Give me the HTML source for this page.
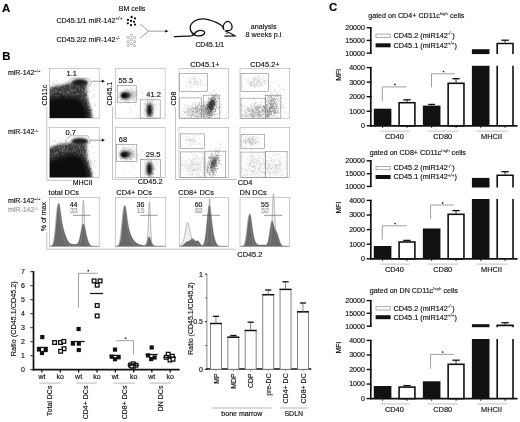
<!DOCTYPE html>
<html><head><meta charset="utf-8"><style>
html,body{margin:0;padding:0;background:#fff;overflow:hidden;width:520px;height:422px;}
svg{display:block;will-change:transform;}
text{font-family:"Liberation Sans", sans-serif;stroke-width:0.15px;}
</style></head><body>
<svg width="520" height="422" viewBox="0 0 520 422" font-size="7">
<defs>
<filter id="b1" x="-50%" y="-50%" width="200%" height="200%"><feGaussianBlur stdDeviation="1"/></filter>
<filter id="b07" x="-50%" y="-50%" width="200%" height="200%"><feGaussianBlur stdDeviation="0.7"/></filter>
<filter id="b15" x="-50%" y="-50%" width="200%" height="200%"><feGaussianBlur stdDeviation="1.5"/></filter>
<filter id="b03" x="-50%" y="-50%" width="200%" height="200%"><feGaussianBlur stdDeviation="0.3"/></filter>
<filter id="b2" x="-50%" y="-50%" width="200%" height="200%"><feGaussianBlur stdDeviation="2"/></filter>
</defs>
<rect width="520" height="422" fill="#fff"/>
<text x="2.00" y="11.50" font-size="11.4" fill="#000" stroke="#000" font-weight="bold">A</text>
<text x="118.80" y="10.50" fill="#111" stroke="#111">BM cells</text>
<text x="56.40" y="22.90" font-size="7.15" fill="#111" stroke="#111">CD45.1/1 miR-142<tspan font-size="4.8" dy="-2.7" style="stroke-width:0.06px">+/+</tspan></text>
<text x="56.40" y="42.40" font-size="7.15" fill="#111" stroke="#111">CD45.2/2 miR-142<tspan font-size="4.8" dy="-2.7" style="stroke-width:0.06px">-/-</tspan></text>
<circle cx="131.6" cy="17.0" r="1.15" fill="#111"/>
<circle cx="135.0" cy="18.4" r="1.15" fill="#111"/>
<circle cx="128.0" cy="19.9" r="1.15" fill="#111"/>
<circle cx="131.0" cy="21.0" r="1.15" fill="#111"/>
<circle cx="134.0" cy="21.8" r="1.15" fill="#111"/>
<circle cx="127.8" cy="23.3" r="1.15" fill="#111"/>
<circle cx="135.0" cy="24.6" r="1.15" fill="#111"/>
<circle cx="131.0" cy="25.2" r="1.15" fill="#111"/>
<circle cx="131.4" cy="35.4" r="1.1" fill="#fff" stroke="#777" stroke-width="0.55"/>
<circle cx="128.2" cy="37.5" r="1.1" fill="#fff" stroke="#777" stroke-width="0.55"/>
<circle cx="134.6" cy="37.5" r="1.1" fill="#fff" stroke="#777" stroke-width="0.55"/>
<circle cx="131.4" cy="39.6" r="1.1" fill="#fff" stroke="#777" stroke-width="0.55"/>
<circle cx="128.2" cy="41.7" r="1.1" fill="#fff" stroke="#777" stroke-width="0.55"/>
<circle cx="134.6" cy="41.7" r="1.1" fill="#fff" stroke="#777" stroke-width="0.55"/>
<circle cx="131.4" cy="43.8" r="1.1" fill="#fff" stroke="#777" stroke-width="0.55"/>
<circle cx="128.4" cy="45.4" r="1.1" fill="#fff" stroke="#777" stroke-width="0.55"/>
<circle cx="134.4" cy="45.6" r="1.1" fill="#fff" stroke="#777" stroke-width="0.55"/>
<path d="M140,23.8 L148.5,31.2 L140,38.1 M148.5,31.2 L166,31.2" fill="none" stroke="#888" stroke-width="0.8"/>
<path d="M165.2,29.8 L168.6,31.2 L165.2,32.6 Z" fill="#111" stroke="none" stroke-width="1"/>
<path d="M173.8,36.6 C180,36.4 187,36.2 191.3,35.8 C193,35.6 194.5,33 196.6,31.6 C198.5,30.4 201,30 203.2,30.8 C205.5,31.8 204.8,34 203,34.8 C201,35.8 198.5,36.2 196.5,35.6 C193.5,34.8 191.2,32.5 190.4,29.5 C189.6,26.5 191,23.8 193.5,21.8 C196,19.8 199.5,18.8 203,18.8 C207,18.8 211.5,20.2 216.7,22.6 C219.5,24 221.5,25.2 222.4,26.4 C223.2,27.4 223.6,28.4 223.8,29.6" fill="none" stroke="#111" stroke-width="1.35"/>
<path d="M223.8,29.6 C222.6,27.4 223.4,24.2 225.2,22.6 C226.6,21.4 228.6,21.2 230,22.4 C231.6,23.8 232.4,26.4 231.8,28.6 C231.2,30.2 229.5,30.6 227.5,30.6 C226.2,30.6 225.2,30.8 224.7,31" fill="none" stroke="#111" stroke-width="1.25"/>
<path d="M225.8,31 C228,32 231.5,33.8 234.8,35.9 L224.4,36.1" fill="none" stroke="#111" stroke-width="1.25"/>
<circle cx="226.9" cy="33.2" r="0.8" fill="#111"/>
<text x="195.40" y="47.10" font-size="6.8" fill="#111" stroke="#111">CD45.1/1</text>
<text x="250.80" y="28.80" font-size="7.1" fill="#111" stroke="#111">analysis</text>
<text x="245.50" y="36.90" font-size="7.2" fill="#111" stroke="#111">8 weeks p.i</text>
<text x="2.30" y="59.70" font-size="11.4" fill="#000" stroke="#000" font-weight="bold">B</text>
<text x="7.90" y="74.90" fill="#111" stroke="#111">miR-142<tspan font-size="4.2" dy="-2.6" style="stroke-width:0.06px">+/+</tspan></text>
<text x="7.90" y="134.40" fill="#111" stroke="#111">miR-142<tspan font-size="4.2" dy="-2.6" style="stroke-width:0.06px">-/-</tspan></text>
<rect x="49.50" y="68.30" width="49.70" height="49.90" fill="none" stroke="#aaa" stroke-width="0.6"/>
<rect x="115.40" y="68.30" width="49.70" height="49.90" fill="none" stroke="#aaa" stroke-width="0.6"/>
<rect x="179.00" y="68.30" width="49.70" height="49.90" fill="none" stroke="#aaa" stroke-width="0.6"/>
<rect x="240.00" y="68.30" width="49.70" height="49.90" fill="none" stroke="#aaa" stroke-width="0.6"/>
<rect x="49.50" y="127.60" width="49.70" height="49.90" fill="none" stroke="#aaa" stroke-width="0.6"/>
<rect x="115.40" y="127.60" width="49.70" height="49.90" fill="none" stroke="#aaa" stroke-width="0.6"/>
<rect x="179.00" y="127.60" width="49.70" height="49.90" fill="none" stroke="#aaa" stroke-width="0.6"/>
<rect x="240.00" y="127.60" width="49.70" height="49.90" fill="none" stroke="#aaa" stroke-width="0.6"/>
<line x1="46.80" y1="107.00" x2="46.80" y2="180.30" stroke="#999" stroke-width="0.6"/>
<line x1="46.80" y1="180.30" x2="72.00" y2="180.30" stroke="#999" stroke-width="0.6"/>
<line x1="112.50" y1="107.00" x2="112.50" y2="179.30" stroke="#999" stroke-width="0.6"/>
<line x1="112.50" y1="179.30" x2="137.00" y2="179.30" stroke="#999" stroke-width="0.6"/>
<line x1="175.50" y1="107.00" x2="175.50" y2="179.50" stroke="#999" stroke-width="0.6"/>
<line x1="175.50" y1="179.50" x2="237.00" y2="179.50" stroke="#999" stroke-width="0.6"/>
<text x="0.00" y="0.00" fill="#111" stroke="#111" transform="translate(47.30,105.60) rotate(-90)">CD11c</text>
<text x="0.00" y="0.00" fill="#111" stroke="#111" transform="translate(112.00,105.60) rotate(-90)">CD45.1</text>
<text x="0.00" y="0.00" fill="#111" stroke="#111" transform="translate(175.90,105.60) rotate(-90)">CD8</text>
<text x="72.70" y="184.50" fill="#111" stroke="#111">MHCII</text>
<text x="137.80" y="183.70" font-size="7.3" fill="#111" stroke="#111">CD45.2</text>
<text x="237.80" y="184.90" font-size="7.3" fill="#111" stroke="#111">CD4</text>
<clipPath id="c10"><rect x="49.8" y="68.6" width="49.2" height="49.4"/></clipPath>
<g clip-path="url(#c10)">
<path d="M46.0,89.0 L51.5,87.4 L54.0,86.6 L58.0,85.8 L62.0,85.0 L66.0,84.2 L69.0,83.2 L72.0,83.5 L80.0,83.8 L86.5,84.5 L86.5,90.0 L86.8,95.0 L87.8,100.0 L89.5,106.0 L91.3,112.0 L92.8,122.2 L46.0,122.2 Z" fill="#474747" filter="url(#b15)"/>
<path d="M64.7 85.9h0.8M79.7 82.9h0.8M74.5 94.0h0.8M52.5 99.3h0.8M51.5 96.5h0.8M53.0 83.6h0.8M69.3 111.4h0.8M55.5 88.6h0.8M78.7 115.9h0.8M76.3 95.2h0.8M94.7 82.0h0.8M89.3 91.1h0.8M56.4 84.6h0.8M64.0 111.0h0.8M58.1 102.1h0.8M79.2 94.2h0.8M75.0 82.6h0.8M52.5 88.0h0.8M81.1 96.3h0.8M64.3 102.3h0.8M70.6 91.5h0.8M86.3 106.6h0.8M61.0 101.9h0.8M74.0 113.2h0.8M83.4 91.1h0.8M94.9 84.7h0.8M69.0 108.7h0.8M56.8 98.6h0.8M51.6 105.4h0.8M85.0 101.8h0.8M90.1 92.0h0.8M81.8 102.6h0.8M76.5 97.4h0.8M88.4 115.8h0.8M71.6 105.2h0.8M52.6 106.6h0.8M79.6 117.6h0.8M87.6 90.9h0.8M67.5 105.4h0.8M50.8 97.6h0.8M57.5 84.6h0.8M52.5 109.2h0.8M55.7 89.5h0.8M67.8 113.1h0.8M53.5 97.1h0.8M75.1 113.5h0.8M87.5 112.8h0.8M62.6 95.9h0.8M66.3 113.5h0.8M93.9 85.9h0.8M57.9 88.9h0.8M60.5 98.5h0.8M76.9 90.1h0.8M50.0 96.0h0.8M66.8 101.6h0.8M93.6 106.2h0.8M73.5 103.5h0.8M80.9 82.2h0.8M91.2 109.6h0.8M90.0 110.3h0.8M67.8 95.2h0.8M54.6 104.1h0.8M52.7 82.7h0.8M59.4 86.3h0.8M65.4 82.2h0.8M49.8 85.9h0.8M54.5 93.9h0.8M51.0 113.2h0.8M78.0 85.8h0.8M61.4 93.3h0.8M66.6 84.8h0.8M88.9 117.6h0.8M71.2 98.4h0.8M53.8 84.1h0.8M65.6 90.2h0.8M87.9 86.3h0.8M50.9 116.1h0.8M74.1 85.7h0.8M74.8 81.2h0.8M74.1 117.1h0.8M89.5 106.4h0.8M61.8 94.0h0.8M57.5 109.3h0.8M74.3 109.6h0.8M65.0 88.6h0.8M87.1 117.3h0.8M89.0 110.6h0.8M87.4 108.1h0.8M60.2 99.7h0.8M66.2 81.3h0.8M51.1 90.7h0.8M61.7 106.3h0.8M93.8 97.1h0.8M92.9 117.4h0.8M93.7 93.9h0.8M59.9 88.8h0.8M58.8 87.9h0.8M78.5 114.1h0.8M88.5 98.3h0.8M79.8 110.3h0.8M53.7 105.1h0.8M91.6 109.7h0.8M84.3 98.2h0.8M58.0 110.0h0.8M65.1 110.4h0.8M94.5 95.1h0.8M68.3 115.9h0.8M83.1 86.6h0.8M55.6 85.9h0.8M91.4 110.6h0.8M56.5 111.4h0.8M94.9 105.0h0.8M65.9 100.9h0.8M55.8 80.7h0.8M94.5 104.7h0.8M74.0 115.4h0.8M69.8 113.1h0.8M87.8 88.2h0.8M61.4 91.2h0.8M60.9 102.3h0.8M61.7 96.0h0.8M55.8 114.5h0.8M66.1 97.5h0.8M76.6 114.3h0.8M69.1 114.8h0.8M72.9 100.2h0.8M73.9 80.9h0.8M70.0 87.1h0.8M50.0 110.3h0.8M57.7 98.1h0.8M83.2 101.2h0.8M64.8 99.7h0.8M75.4 109.8h0.8M54.7 101.3h0.8M61.2 90.6h0.8M85.3 99.3h0.8M75.6 108.9h0.8M91.8 96.9h0.8M78.0 99.3h0.8M73.4 106.3h0.8M70.6 100.3h0.8M71.8 115.7h0.8M82.0 113.2h0.8M93.1 90.0h0.8M75.5 115.8h0.8M88.4 85.4h0.8M55.4 96.9h0.8M53.1 89.3h0.8M53.2 105.4h0.8M85.9 114.0h0.8M56.9 107.2h0.8M80.2 85.6h0.8M90.4 116.7h0.8M59.9 116.1h0.8M68.1 98.6h0.8M95.3 111.6h0.8M57.2 96.5h0.8M73.5 93.0h0.8M58.8 92.2h0.8M83.0 80.9h0.8" stroke="#333" stroke-width="0.8" opacity="0.35"/>
<path d="M73.6 98.5h0.9M50.6 94.7h0.9M76.6 101.0h0.9M52.6 117.4h0.9M83.7 116.9h0.9M54.3 92.4h0.9M51.5 110.2h0.9M61.4 87.7h0.9M68.0 114.8h0.9M85.0 92.2h0.9M56.2 115.1h0.9M74.3 107.5h0.9M79.4 98.0h0.9M52.9 115.8h0.9M77.1 111.0h0.9M53.4 112.9h0.9M52.7 113.1h0.9M69.3 95.0h0.9M73.6 115.4h0.9M61.3 87.7h0.9M72.5 91.5h0.9M54.5 88.8h0.9M52.0 90.2h0.9M63.2 93.8h0.9M82.5 93.3h0.9M71.3 89.4h0.9M81.3 102.3h0.9M57.9 99.7h0.9M85.0 98.2h0.9M71.1 112.2h0.9M66.7 100.8h0.9M79.4 117.3h0.9M64.5 112.1h0.9M80.2 105.3h0.9M67.2 95.3h0.9M52.1 87.7h0.9M52.8 108.9h0.9M60.8 88.9h0.9M53.4 112.4h0.9M87.2 106.5h0.9M61.9 91.6h0.9M62.4 99.1h0.9M56.6 98.7h0.9M61.1 116.6h0.9M60.3 116.7h0.9M63.1 95.6h0.9M49.8 96.4h0.9M70.2 100.6h0.9M58.4 100.7h0.9M50.0 92.4h0.9M53.7 97.1h0.9M62.9 91.3h0.9M75.0 101.6h0.9M82.1 106.0h0.9M80.6 113.7h0.9M66.5 94.5h0.9M80.9 105.5h0.9M51.7 112.2h0.9M88.2 105.0h0.9M81.4 111.4h0.9M55.8 101.4h0.9M71.5 112.2h0.9M84.4 111.9h0.9M74.9 114.2h0.9M79.2 107.3h0.9M55.5 95.7h0.9M54.3 112.2h0.9M73.8 105.0h0.9M76.7 106.8h0.9M84.1 109.2h0.9M71.4 101.8h0.9M78.1 85.5h0.9M81.5 92.0h0.9M53.0 92.4h0.9M81.2 90.3h0.9M81.6 117.1h0.9M71.0 96.5h0.9M70.4 106.9h0.9M82.8 104.6h0.9M77.4 85.9h0.9M56.1 92.0h0.9M81.8 93.8h0.9M74.2 83.6h0.9M52.4 92.5h0.9M78.7 107.2h0.9M78.9 93.3h0.9M72.0 99.3h0.9M69.9 87.3h0.9M91.9 115.7h0.9M50.6 99.1h0.9M85.1 116.8h0.9M69.1 92.5h0.9M58.8 116.0h0.9M58.9 103.4h0.9M55.9 101.4h0.9M85.1 100.9h0.9M87.9 107.6h0.9M59.7 114.4h0.9M70.7 84.1h0.9M50.0 100.3h0.9M69.2 93.7h0.9M55.9 95.1h0.9M63.4 112.4h0.9M49.9 109.3h0.9M85.9 87.4h0.9M89.6 107.9h0.9M65.8 96.8h0.9M65.3 98.1h0.9M54.2 112.2h0.9M62.1 115.7h0.9M60.5 92.4h0.9M71.8 89.8h0.9M65.9 116.4h0.9M87.8 111.4h0.9M76.9 114.9h0.9M80.7 84.9h0.9M81.3 98.8h0.9M82.2 105.6h0.9M70.1 95.1h0.9M62.6 108.8h0.9M78.0 93.6h0.9M73.8 96.9h0.9M57.0 88.8h0.9M58.7 114.6h0.9M71.2 90.8h0.9M88.8 117.8h0.9M69.1 88.0h0.9M58.1 86.3h0.9M64.5 86.4h0.9M60.1 92.2h0.9M74.3 114.0h0.9M82.0 97.5h0.9M67.6 101.4h0.9M66.0 94.9h0.9M52.5 92.8h0.9M71.4 105.0h0.9M61.5 91.8h0.9M67.0 98.7h0.9M90.8 112.6h0.9M51.2 107.8h0.9M66.6 115.4h0.9M85.3 112.9h0.9M54.5 88.6h0.9M72.3 106.9h0.9M77.6 109.7h0.9M69.5 102.3h0.9M51.5 110.3h0.9M59.8 115.1h0.9M77.6 93.7h0.9M55.3 91.9h0.9M77.2 107.4h0.9M72.4 103.4h0.9M66.5 91.0h0.9M62.8 99.2h0.9M59.9 91.8h0.9M71.2 106.6h0.9M67.9 92.1h0.9M78.5 115.3h0.9M64.3 97.8h0.9M79.2 90.1h0.9M84.1 108.8h0.9M71.5 90.3h0.9M85.1 91.2h0.9M59.3 109.6h0.9M62.5 116.2h0.9M71.1 89.7h0.9M59.4 97.7h0.9M78.4 116.1h0.9M56.1 96.9h0.9M59.0 117.0h0.9M52.4 96.8h0.9M88.4 113.9h0.9M81.3 117.8h0.9M57.8 115.7h0.9M81.9 84.3h0.9M78.4 96.3h0.9M65.9 94.7h0.9M61.8 95.4h0.9M65.1 111.7h0.9M85.1 98.2h0.9M51.9 99.6h0.9M65.8 115.1h0.9M58.1 95.8h0.9M67.5 111.4h0.9M82.8 84.6h0.9M81.9 114.4h0.9M64.4 92.6h0.9M61.1 108.1h0.9M63.4 92.8h0.9M50.0 109.4h0.9M89.2 105.2h0.9M59.9 99.7h0.9M90.9 116.3h0.9M66.4 91.9h0.9M68.3 100.3h0.9M84.3 108.8h0.9M85.2 110.0h0.9M75.9 94.6h0.9M63.5 95.8h0.9M83.4 85.9h0.9M58.3 109.3h0.9M60.4 85.4h0.9M51.3 102.4h0.9M63.8 117.2h0.9M87.8 117.5h0.9M61.2 86.1h0.9M53.9 100.5h0.9M80.3 98.7h0.9M59.9 97.7h0.9M76.5 106.6h0.9M82.0 112.6h0.9M78.4 87.4h0.9M86.0 93.4h0.9M74.2 96.1h0.9M81.5 90.1h0.9M60.4 91.7h0.9M56.4 113.9h0.9M74.7 94.5h0.9M66.8 117.6h0.9M71.6 91.2h0.9M84.6 105.9h0.9M70.2 111.6h0.9M85.9 114.9h0.9M51.5 93.4h0.9M54.9 89.8h0.9M87.0 98.8h0.9M61.0 110.2h0.9M75.4 104.7h0.9M59.2 96.0h0.9M55.9 90.3h0.9M60.8 104.0h0.9M77.8 90.3h0.9M50.3 94.6h0.9M79.0 89.6h0.9M63.2 90.3h0.9M84.0 102.2h0.9M66.8 102.3h0.9M77.3 86.4h0.9M56.8 107.3h0.9M67.4 93.0h0.9M63.0 116.3h0.9M63.2 102.9h0.9M65.2 97.7h0.9M87.0 117.8h0.9M65.4 90.0h0.9M81.1 90.3h0.9M50.1 114.5h0.9M68.0 111.7h0.9M67.3 113.8h0.9M69.6 88.8h0.9M50.4 102.3h0.9M77.3 114.8h0.9M53.6 104.8h0.9M65.7 100.7h0.9M56.1 93.0h0.9M72.2 115.3h0.9M54.5 100.2h0.9M84.4 116.8h0.9M58.3 87.6h0.9M90.4 117.1h0.9M70.6 85.1h0.9M88.7 104.7h0.9M85.3 88.8h0.9M83.6 90.9h0.9M67.2 112.6h0.9M85.5 89.5h0.9M59.2 97.1h0.9M72.1 96.5h0.9M55.1 91.8h0.9M81.0 114.3h0.9M51.6 102.7h0.9M82.4 84.5h0.9M85.8 87.3h0.9M75.6 102.3h0.9M76.8 93.8h0.9M67.9 103.4h0.9M68.1 106.1h0.9M69.0 98.4h0.9M50.8 104.7h0.9M70.8 91.4h0.9M82.6 110.3h0.9M69.5 89.4h0.9M70.1 86.9h0.9M55.3 98.1h0.9M53.7 98.5h0.9M71.7 84.6h0.9M77.2 86.1h0.9M81.3 110.2h0.9M71.8 85.1h0.9M71.5 96.3h0.9M86.7 117.8h0.9M81.3 111.5h0.9M58.1 117.3h0.9M71.0 116.4h0.9M83.7 115.5h0.9M52.6 95.4h0.9M82.3 88.7h0.9M84.9 88.2h0.9M71.4 115.1h0.9M58.8 92.3h0.9M71.6 94.3h0.9M51.4 89.5h0.9M56.7 115.7h0.9M79.0 114.3h0.9M57.1 110.4h0.9M54.7 101.6h0.9M77.2 95.7h0.9M87.3 102.5h0.9M74.7 113.8h0.9M54.3 117.7h0.9M76.9 96.9h0.9M84.1 92.4h0.9M65.3 109.7h0.9M68.8 89.3h0.9M81.8 84.9h0.9M85.1 92.0h0.9M77.3 117.3h0.9M75.0 106.2h0.9M51.3 88.4h0.9M76.3 98.2h0.9M71.8 114.3h0.9M55.5 91.1h0.9M77.9 84.0h0.9M49.9 95.5h0.9M54.4 95.6h0.9M59.4 103.5h0.9M75.1 90.3h0.9M76.6 99.7h0.9M55.6 115.7h0.9M60.3 88.4h0.9M53.9 105.3h0.9M87.3 110.3h0.9M67.1 92.4h0.9M50.3 105.6h0.9M74.0 95.4h0.9M77.6 98.6h0.9M90.1 108.7h0.9M60.5 114.6h0.9M51.7 101.6h0.9M67.3 91.4h0.9M52.3 110.2h0.9M50.3 102.3h0.9M58.4 104.3h0.9M71.6 105.5h0.9M84.8 89.3h0.9M63.1 93.6h0.9M51.9 114.1h0.9M83.5 108.0h0.9M50.1 112.5h0.9M81.8 99.3h0.9M81.7 98.9h0.9M59.5 86.9h0.9M64.2 109.2h0.9M79.7 112.5h0.9M80.4 92.4h0.9M73.6 98.3h0.9M83.7 101.4h0.9M61.2 105.5h0.9M61.0 91.4h0.9M81.8 116.0h0.9M81.9 94.5h0.9M60.1 114.7h0.9M76.9 107.2h0.9M78.4 117.2h0.9M70.0 112.3h0.9M79.8 113.0h0.9M68.6 108.3h0.9M74.3 93.9h0.9M58.9 104.8h0.9M53.1 114.8h0.9M54.4 115.4h0.9M64.6 88.1h0.9M79.6 105.2h0.9M79.8 108.8h0.9M52.6 103.7h0.9M65.4 111.6h0.9M85.0 114.1h0.9M52.6 113.3h0.9M89.1 116.0h0.9M54.4 90.3h0.9M86.3 111.4h0.9M77.1 111.8h0.9M77.0 93.2h0.9M54.1 86.6h0.9M82.4 90.3h0.9M63.5 97.9h0.9M50.7 92.1h0.9M62.0 108.0h0.9M65.6 94.3h0.9M86.4 104.7h0.9M51.1 97.5h0.9M68.6 110.0h0.9M64.7 107.7h0.9M72.9 90.7h0.9M85.1 89.1h0.9M49.9 90.2h0.9M82.6 117.1h0.9M50.0 100.2h0.9M70.9 110.8h0.9M57.7 100.4h0.9M64.7 112.1h0.9M61.0 116.0h0.9M62.0 90.7h0.9M79.9 100.5h0.9M54.5 105.3h0.9M53.3 110.5h0.9M79.8 110.5h0.9M76.8 95.5h0.9M67.1 96.9h0.9M58.7 92.3h0.9M66.1 113.9h0.9M59.8 99.2h0.9M72.7 109.4h0.9M82.2 105.6h0.9M64.8 94.5h0.9M56.5 112.5h0.9M78.3 108.9h0.9M57.1 98.4h0.9M83.1 103.3h0.9M55.2 99.2h0.9" stroke="#fff" stroke-width="0.9" opacity="0.28"/>
<path d="M58.0 93.7h0.9M80.0 112.5h0.9M56.4 88.6h0.9M60.4 94.5h0.9M72.3 88.8h0.9M63.9 89.8h0.9M54.2 116.6h0.9M54.2 96.5h0.9M81.3 98.3h0.9M58.2 105.3h0.9M54.4 90.4h0.9M66.5 84.4h0.9M67.0 110.6h0.9M79.6 100.6h0.9M77.0 99.3h0.9M55.9 104.1h0.9M67.2 108.9h0.9M74.5 109.2h0.9M67.9 91.1h0.9M80.9 113.7h0.9M83.1 107.5h0.9M86.5 106.8h0.9M77.4 99.0h0.9M63.3 105.0h0.9M54.0 97.8h0.9M83.4 107.9h0.9M76.9 91.9h0.9M68.0 99.0h0.9M76.5 97.4h0.9M78.8 115.5h0.9M57.7 105.9h0.9M83.3 96.7h0.9M70.9 117.0h0.9M51.4 102.1h0.9M56.7 110.3h0.9M54.1 103.1h0.9M73.1 108.1h0.9M71.8 105.4h0.9M85.4 101.3h0.9M67.4 116.1h0.9M58.8 106.9h0.9M66.7 109.7h0.9M55.1 117.4h0.9M65.1 85.2h0.9M61.6 97.1h0.9M50.4 97.7h0.9M67.9 107.4h0.9M64.9 92.4h0.9M59.5 108.9h0.9M59.2 111.0h0.9M66.7 90.6h0.9M55.4 110.1h0.9M84.6 105.2h0.9M70.0 102.7h0.9M59.5 116.6h0.9M65.0 105.4h0.9M85.0 111.5h0.9M69.9 93.4h0.9M73.4 87.5h0.9M85.7 95.5h0.9M86.4 92.5h0.9M66.0 92.0h0.9M68.1 89.7h0.9M49.9 108.2h0.9M61.9 91.7h0.9M62.8 99.8h0.9M68.2 105.3h0.9M78.1 95.8h0.9M89.7 112.8h0.9M52.3 111.9h0.9M88.7 110.4h0.9M55.8 112.0h0.9M77.0 83.7h0.9M50.3 116.2h0.9M78.0 91.9h0.9M54.2 88.2h0.9M59.8 110.1h0.9M64.7 88.5h0.9M88.7 110.7h0.9M57.0 114.1h0.9M76.0 110.3h0.9M78.5 114.2h0.9M83.7 112.3h0.9M58.3 107.2h0.9M72.6 108.9h0.9M68.7 113.8h0.9M73.7 92.4h0.9M59.9 88.0h0.9M71.0 85.2h0.9M69.9 88.2h0.9M70.9 100.5h0.9M73.0 113.1h0.9M50.1 112.4h0.9M69.9 102.7h0.9M78.4 112.4h0.9M65.9 97.7h0.9M77.2 105.3h0.9M51.0 104.4h0.9M79.2 115.5h0.9M64.0 117.3h0.9M71.8 100.0h0.9M80.7 104.9h0.9M64.4 113.1h0.9M65.5 99.7h0.9M72.4 109.9h0.9M58.9 98.3h0.9M68.0 102.4h0.9M85.3 93.4h0.9M85.4 97.2h0.9M71.5 92.6h0.9M71.6 117.0h0.9M77.9 110.7h0.9M64.0 94.2h0.9M62.7 103.5h0.9M77.1 110.4h0.9M51.5 108.3h0.9M87.9 102.1h0.9M51.9 93.6h0.9M50.1 89.8h0.9M78.1 110.6h0.9M88.9 104.4h0.9M76.3 105.0h0.9M79.7 103.9h0.9M79.1 90.6h0.9M78.5 99.1h0.9M82.6 86.7h0.9M83.1 114.9h0.9M78.0 96.0h0.9M85.2 110.5h0.9M74.0 92.2h0.9M62.8 97.8h0.9M63.5 98.1h0.9M77.4 115.6h0.9M52.1 102.9h0.9M84.6 103.2h0.9M50.4 96.6h0.9M75.3 115.7h0.9M67.5 86.7h0.9M77.5 90.6h0.9M50.0 106.9h0.9M55.0 116.7h0.9M53.6 113.4h0.9M80.7 91.6h0.9M81.3 89.7h0.9M52.0 110.1h0.9M80.5 112.9h0.9M81.2 86.1h0.9M76.8 107.8h0.9M69.6 115.6h0.9M60.7 116.7h0.9M50.4 105.8h0.9M84.9 86.0h0.9M63.2 108.5h0.9M56.9 113.1h0.9M70.7 85.3h0.9M65.6 103.2h0.9M68.7 106.7h0.9M56.0 110.9h0.9M65.4 105.6h0.9M76.9 97.7h0.9M66.4 110.5h0.9M90.4 110.4h0.9M74.2 93.3h0.9M52.4 117.0h0.9M80.0 111.9h0.9M64.1 104.2h0.9M75.6 93.9h0.9M68.2 114.0h0.9M66.0 107.0h0.9M75.7 114.3h0.9M84.5 93.0h0.9M49.9 92.3h0.9M68.0 103.6h0.9M84.9 114.0h0.9M51.6 112.1h0.9M84.7 113.3h0.9M74.4 92.7h0.9M86.4 111.2h0.9M79.2 114.9h0.9M64.7 86.2h0.9M73.6 110.9h0.9M58.4 109.2h0.9M75.9 106.7h0.9M69.8 90.4h0.9M60.8 109.3h0.9M83.8 99.2h0.9M53.6 111.2h0.9M83.0 91.3h0.9M74.7 114.3h0.9M87.9 101.3h0.9M70.3 103.6h0.9M57.9 89.9h0.9M57.6 107.5h0.9M65.4 102.8h0.9M67.1 101.1h0.9M54.4 105.2h0.9M83.7 88.6h0.9M75.5 95.2h0.9M72.1 83.9h0.9M51.2 117.6h0.9M87.0 100.1h0.9M74.2 92.3h0.9M83.3 98.0h0.9M90.5 109.8h0.9M85.0 116.6h0.9M58.4 89.5h0.9M73.8 113.4h0.9M69.5 116.1h0.9M75.5 97.0h0.9M55.0 116.5h0.9M60.9 102.8h0.9M77.3 116.4h0.9M78.6 96.8h0.9M69.1 88.7h0.9M91.3 117.6h0.9M60.8 95.4h0.9M88.6 114.6h0.9M85.8 84.8h0.9M83.6 107.8h0.9M77.6 117.4h0.9M52.2 88.2h0.9M82.3 115.8h0.9M78.9 93.6h0.9M75.2 109.5h0.9M54.3 94.4h0.9M60.9 87.5h0.9M70.5 89.0h0.9M60.1 88.2h0.9M80.6 90.0h0.9M51.3 115.4h0.9M59.3 115.6h0.9M87.1 114.0h0.9M55.8 98.7h0.9M54.0 115.4h0.9M86.0 105.0h0.9M69.3 95.0h0.9M85.2 99.8h0.9M76.8 88.2h0.9M80.5 102.4h0.9M56.0 113.4h0.9M61.3 97.5h0.9M56.5 92.6h0.9M85.9 94.8h0.9M57.0 100.2h0.9M63.5 114.5h0.9M54.7 117.2h0.9M52.2 114.3h0.9M78.5 90.5h0.9M70.3 93.1h0.9M60.9 90.2h0.9M65.5 117.6h0.9M54.0 93.2h0.9M81.0 93.4h0.9M84.5 95.0h0.9M85.6 101.5h0.9M57.8 98.3h0.9M74.4 88.0h0.9M57.5 109.9h0.9M80.4 90.0h0.9M76.0 100.4h0.9M61.6 90.3h0.9M76.1 107.8h0.9M84.7 103.4h0.9M81.3 97.4h0.9M80.8 85.1h0.9M84.7 94.8h0.9M86.0 113.2h0.9M71.0 83.7h0.9M57.8 112.1h0.9M65.6 88.9h0.9M65.8 103.8h0.9M50.0 101.2h0.9M69.0 101.1h0.9M55.0 108.0h0.9M84.9 113.2h0.9M63.6 107.9h0.9M66.2 109.3h0.9M52.4 113.5h0.9M71.9 101.6h0.9M72.9 83.9h0.9M57.6 86.8h0.9M60.6 111.6h0.9M79.9 90.0h0.9M50.6 104.0h0.9M74.6 101.3h0.9M80.0 86.8h0.9M87.2 108.1h0.9M51.7 87.5h0.9M71.0 100.6h0.9M61.8 87.4h0.9M67.2 88.0h0.9M75.2 113.1h0.9M56.1 103.1h0.9M81.9 88.9h0.9M85.3 115.7h0.9M66.5 97.8h0.9M85.9 101.4h0.9M66.8 115.9h0.9M83.2 94.9h0.9M60.1 94.8h0.9M68.5 117.2h0.9M84.4 114.9h0.9M84.8 112.6h0.9M52.1 101.2h0.9M91.0 115.6h0.9M60.5 97.8h0.9M77.0 95.8h0.9M72.6 85.6h0.9M68.4 100.7h0.9M84.6 113.9h0.9M77.4 92.4h0.9M79.0 92.7h0.9M73.1 115.3h0.9M76.5 91.9h0.9M72.2 98.2h0.9M62.9 105.7h0.9M55.0 103.8h0.9M61.3 99.4h0.9M72.8 88.3h0.9M55.1 87.8h0.9M62.4 97.3h0.9M62.2 91.6h0.9M53.6 102.2h0.9M85.9 104.4h0.9M74.3 105.8h0.9M58.5 107.8h0.9M69.6 102.2h0.9M76.2 99.5h0.9M63.2 91.6h0.9M59.3 101.0h0.9M66.3 103.5h0.9M50.3 95.4h0.9M73.7 100.3h0.9M62.0 117.5h0.9M62.5 110.0h0.9M87.3 98.5h0.9M52.5 96.7h0.9M68.7 108.7h0.9M54.5 91.0h0.9M56.4 94.9h0.9M65.0 106.6h0.9M76.3 112.7h0.9M85.1 101.2h0.9M81.6 109.0h0.9M82.5 99.7h0.9M83.6 107.8h0.9M82.7 103.5h0.9M71.2 116.6h0.9M74.4 97.7h0.9M83.5 113.5h0.9M75.9 96.4h0.9M69.2 99.1h0.9M80.9 93.4h0.9M66.6 102.5h0.9M66.3 94.4h0.9M83.6 112.7h0.9M71.3 98.6h0.9M57.7 93.7h0.9M56.0 103.2h0.9M74.8 86.3h0.9M86.1 112.3h0.9M68.1 114.8h0.9M74.1 100.5h0.9M89.4 110.0h0.9M73.0 117.8h0.9M72.1 101.1h0.9M79.3 96.7h0.9M65.2 103.8h0.9M64.9 116.1h0.9M78.9 101.4h0.9M54.1 96.2h0.9M67.0 102.7h0.9M74.5 113.7h0.9M68.7 104.9h0.9M72.6 111.5h0.9M57.1 94.2h0.9M71.8 87.0h0.9M88.3 107.1h0.9M85.1 117.6h0.9M56.5 93.3h0.9M71.8 100.7h0.9M57.9 89.5h0.9M76.9 104.1h0.9M65.0 117.7h0.9M77.2 84.7h0.9M67.5 110.5h0.9M63.0 107.2h0.9M50.0 93.8h0.9M86.0 103.5h0.9M78.5 90.0h0.9M71.2 102.4h0.9M61.2 105.6h0.9M72.7 117.8h0.9M74.5 97.5h0.9M55.0 88.6h0.9M82.5 86.9h0.9M54.1 89.1h0.9M72.3 111.8h0.9M76.2 111.2h0.9M82.9 94.4h0.9M80.6 95.5h0.9M57.1 92.5h0.9M54.1 114.6h0.9M74.8 95.3h0.9M69.1 96.6h0.9M52.2 114.1h0.9M74.9 116.5h0.9M68.7 104.7h0.9M89.8 112.9h0.9M63.3 114.4h0.9M84.9 93.7h0.9M75.7 116.5h0.9M71.1 116.2h0.9M60.2 96.7h0.9M80.7 90.9h0.9M63.1 113.6h0.9M70.6 110.7h0.9M60.3 89.2h0.9M65.2 89.7h0.9M73.9 87.2h0.9M72.8 96.6h0.9M67.1 85.5h0.9M55.1 111.9h0.9M64.9 91.7h0.9M58.0 93.0h0.9M78.4 95.0h0.9M56.5 107.7h0.9M53.8 92.6h0.9M85.7 87.6h0.9M68.9 112.2h0.9M84.4 88.7h0.9M65.0 108.3h0.9M66.0 116.5h0.9M58.7 116.2h0.9M71.5 91.1h0.9M69.3 87.7h0.9M80.2 92.2h0.9M88.5 103.6h0.9M65.6 91.7h0.9M76.0 90.6h0.9M71.9 102.0h0.9M61.4 110.0h0.9M66.3 106.0h0.9M74.2 94.0h0.9M66.6 86.2h0.9M57.4 112.7h0.9M63.6 106.2h0.9M54.5 102.7h0.9M65.3 100.6h0.9M62.6 85.5h0.9M63.2 91.1h0.9M55.2 108.1h0.9M61.9 97.2h0.9M88.9 110.1h0.9M87.8 113.1h0.9M55.5 92.8h0.9M51.1 106.8h0.9M78.3 95.4h0.9M67.5 106.1h0.9M79.9 91.8h0.9M86.2 95.4h0.9M76.8 89.5h0.9M54.8 114.9h0.9M81.4 107.9h0.9M56.8 90.1h0.9M62.8 96.4h0.9M51.5 94.0h0.9M77.2 89.4h0.9M85.9 103.0h0.9M80.6 92.0h0.9M68.5 106.9h0.9M85.7 110.1h0.9M86.5 104.3h0.9M51.8 91.7h0.9M54.6 110.7h0.9M58.8 114.9h0.9M82.0 86.2h0.9M79.7 96.9h0.9M81.9 112.0h0.9M61.9 86.3h0.9M89.8 107.2h0.9M81.6 112.0h0.9M76.8 98.9h0.9M52.1 107.4h0.9M68.2 101.0h0.9M82.6 84.7h0.9M80.0 111.2h0.9M61.0 102.2h0.9M73.2 91.9h0.9M52.4 95.6h0.9M67.5 90.2h0.9M63.2 87.9h0.9M80.2 106.5h0.9M60.0 91.6h0.9M72.0 98.6h0.9M62.7 113.9h0.9M55.9 102.7h0.9M64.1 111.5h0.9M73.4 109.6h0.9M57.1 106.3h0.9" stroke="#000" stroke-width="0.9" opacity="0.45"/>
<path d="M46.0,98.5 L55.0,97.0 L62.0,96.0 L70.0,96.5 L77.0,97.5 L81.5,99.5 L84.5,104.0 L87.0,110.0 L89.5,122.2 L46.0,122.2 Z" fill="#080808" filter="url(#b2)"/>
</g>
<ellipse cx="79.8" cy="82.6" rx="8.6" ry="3.5" fill="#1a1a1a" filter="url(#b1)"/>
<path d="M69.5,85.5 L68.5,81.5 L71.7,78.2 L88,78.2 L91.3,82.6 L90,86.5" fill="none" stroke="#888" stroke-width="0.6"/>
<line x1="91.30" y1="81.20" x2="102.20" y2="81.20" stroke="#777" stroke-width="0.7"/>
<path d="M101.8,79.60000000000001 L104.9,81.2 L101.8,82.8 Z" fill="#111" stroke="none" stroke-width="1"/>
<text x="66.50" y="76.30" font-size="7.5" fill="#111" stroke="#111">1.1</text>
<clipPath id="c11"><rect x="49.8" y="127.89999999999999" width="49.2" height="49.4"/></clipPath>
<g clip-path="url(#c11)">
<path d="M46.0,149.0 L51.5,147.4 L54.0,146.2 L58.0,144.8 L61.0,144.2 L66.0,143.6 L71.0,143.0 L80.0,143.2 L86.5,143.8 L86.5,150.0 L86.8,155.0 L87.8,160.0 L89.5,166.0 L91.3,172.0 L92.8,181.5 L46.0,181.5 Z" fill="#474747" filter="url(#b15)"/>
<path d="M77.3 157.2h0.8M85.0 171.0h0.8M55.1 150.8h0.8M66.4 147.7h0.8M52.6 150.5h0.8M58.9 166.2h0.8M70.4 144.2h0.8M64.7 157.5h0.8M66.5 146.3h0.8M53.1 140.4h0.8M95.4 168.0h0.8M53.7 166.7h0.8M94.9 161.0h0.8M54.8 158.2h0.8M69.8 147.1h0.8M74.8 140.3h0.8M92.1 164.0h0.8M78.7 174.9h0.8M79.8 149.4h0.8M61.1 145.2h0.8M51.1 168.9h0.8M88.4 151.1h0.8M58.3 163.8h0.8M88.7 174.6h0.8M57.5 169.3h0.8M88.0 167.7h0.8M64.8 146.9h0.8M87.8 151.9h0.8M66.8 160.6h0.8M66.8 171.0h0.8M60.8 141.5h0.8M75.9 163.4h0.8M87.5 166.3h0.8M91.4 175.2h0.8M72.5 158.6h0.8M57.0 151.2h0.8M76.5 143.0h0.8M81.4 146.1h0.8M70.2 176.2h0.8M53.9 141.5h0.8M70.0 147.1h0.8M83.1 140.1h0.8M88.5 171.9h0.8M86.0 155.9h0.8M62.8 164.7h0.8M73.5 155.7h0.8M65.4 156.4h0.8M80.4 170.8h0.8M91.4 146.1h0.8M63.4 156.5h0.8M75.7 153.0h0.8M58.8 143.2h0.8M64.7 157.2h0.8M94.5 173.9h0.8M89.6 176.3h0.8M94.0 163.1h0.8M87.1 142.2h0.8M80.9 162.7h0.8M63.5 161.3h0.8M93.6 157.9h0.8M79.6 151.2h0.8M65.6 173.0h0.8M51.1 147.0h0.8M81.0 156.7h0.8M53.7 164.6h0.8M66.9 161.7h0.8M69.0 159.8h0.8M75.8 154.8h0.8M55.1 146.7h0.8M90.7 160.4h0.8M55.0 172.2h0.8M61.5 143.5h0.8M74.2 149.4h0.8M72.3 160.7h0.8M60.2 161.4h0.8M55.0 159.1h0.8M76.9 143.0h0.8M68.6 142.7h0.8M70.0 172.2h0.8M75.1 166.7h0.8M84.6 144.3h0.8M95.4 166.9h0.8M54.5 171.0h0.8M67.8 146.4h0.8M94.0 161.0h0.8M85.4 145.1h0.8M85.5 142.1h0.8M60.7 153.9h0.8M50.5 162.2h0.8M59.6 151.2h0.8M82.3 155.9h0.8M90.7 163.2h0.8M89.9 161.0h0.8M92.0 172.5h0.8M57.5 167.8h0.8M65.5 168.5h0.8M81.1 170.8h0.8M55.4 153.9h0.8M83.7 175.4h0.8M83.0 141.6h0.8M77.6 143.7h0.8M75.0 170.0h0.8M55.0 174.5h0.8M80.9 149.5h0.8M58.7 156.7h0.8M88.4 161.7h0.8M55.0 140.8h0.8M54.9 169.9h0.8M58.3 160.7h0.8M63.1 165.6h0.8M67.3 145.4h0.8M90.1 160.1h0.8M81.5 170.1h0.8M93.4 140.5h0.8M65.5 145.6h0.8M72.9 172.6h0.8M86.6 141.3h0.8M58.2 170.5h0.8M81.1 154.6h0.8M71.7 145.9h0.8M88.7 154.7h0.8M90.0 162.8h0.8M53.3 152.3h0.8M59.8 173.3h0.8M76.9 141.6h0.8M57.6 153.5h0.8M71.3 161.5h0.8M67.6 153.2h0.8M50.1 161.6h0.8M65.2 140.8h0.8M70.9 176.8h0.8M51.9 145.4h0.8M80.7 150.2h0.8M62.4 158.7h0.8M61.9 161.2h0.8M74.1 175.7h0.8M95.4 141.3h0.8M75.6 168.8h0.8M89.9 168.9h0.8M78.9 163.7h0.8M66.5 150.5h0.8M86.4 172.6h0.8M93.0 165.4h0.8M63.8 168.5h0.8M83.8 159.0h0.8M79.0 153.1h0.8M75.1 155.1h0.8M52.6 152.6h0.8M64.7 176.9h0.8M71.9 153.7h0.8M61.0 148.8h0.8M65.9 145.1h0.8M50.1 172.5h0.8M70.6 156.6h0.8M76.0 151.3h0.8M57.6 142.5h0.8M63.7 151.5h0.8M83.2 160.6h0.8M92.9 152.7h0.8M92.2 161.8h0.8" stroke="#333" stroke-width="0.8" opacity="0.35"/>
<path d="M53.2 149.1h0.9M74.8 176.9h0.9M65.1 169.6h0.9M68.2 172.8h0.9M52.7 159.6h0.9M56.9 152.2h0.9M80.1 150.5h0.9M67.0 149.9h0.9M75.7 172.6h0.9M77.7 149.7h0.9M81.4 176.0h0.9M75.6 145.7h0.9M84.6 173.0h0.9M64.5 147.7h0.9M57.9 161.4h0.9M87.4 164.9h0.9M63.9 168.7h0.9M77.7 156.9h0.9M79.0 154.6h0.9M52.3 157.2h0.9M51.8 164.5h0.9M64.2 160.0h0.9M75.5 151.8h0.9M69.7 143.5h0.9M76.2 167.8h0.9M64.0 146.2h0.9M56.5 147.9h0.9M82.8 146.1h0.9M84.8 157.5h0.9M73.0 163.2h0.9M73.7 165.5h0.9M75.7 154.3h0.9M81.7 151.8h0.9M80.4 169.2h0.9M83.2 153.6h0.9M83.0 176.5h0.9M69.3 152.5h0.9M72.3 175.3h0.9M70.3 165.5h0.9M83.1 155.4h0.9M82.3 146.1h0.9M52.4 160.2h0.9M73.7 149.2h0.9M56.2 149.1h0.9M81.5 174.6h0.9M83.3 151.3h0.9M77.2 154.8h0.9M84.2 158.8h0.9M63.7 174.0h0.9M54.4 168.2h0.9M52.6 165.1h0.9M67.1 172.6h0.9M52.4 162.4h0.9M67.4 174.5h0.9M59.4 151.6h0.9M61.1 157.9h0.9M59.7 150.0h0.9M82.4 165.0h0.9M62.6 177.1h0.9M59.1 162.5h0.9M56.5 172.6h0.9M82.1 171.2h0.9M62.0 154.4h0.9M70.7 173.6h0.9M56.7 166.4h0.9M75.5 158.5h0.9M74.7 173.3h0.9M58.8 173.3h0.9M65.3 169.7h0.9M87.0 177.1h0.9M54.6 176.4h0.9M50.2 174.3h0.9M56.3 168.2h0.9M54.0 148.8h0.9M79.2 146.1h0.9M64.4 174.5h0.9M80.6 173.3h0.9M59.9 170.2h0.9M79.4 144.3h0.9M71.5 150.9h0.9M68.3 146.6h0.9M50.7 177.0h0.9M63.4 173.1h0.9M55.0 159.7h0.9M55.6 157.7h0.9M57.5 166.5h0.9M56.2 168.3h0.9M71.3 146.9h0.9M65.0 160.0h0.9M59.1 176.2h0.9M87.8 168.1h0.9M61.5 149.1h0.9M61.2 145.4h0.9M51.7 160.5h0.9M67.3 162.1h0.9M79.4 165.4h0.9M73.2 161.8h0.9M79.5 176.7h0.9M87.4 167.6h0.9M67.0 153.9h0.9M67.8 176.4h0.9M66.4 156.2h0.9M67.4 147.9h0.9M75.9 174.8h0.9M60.8 164.0h0.9M66.0 151.3h0.9M58.3 147.0h0.9M86.1 169.9h0.9M79.7 154.1h0.9M77.6 161.8h0.9M63.4 176.3h0.9M49.8 168.6h0.9M86.5 160.5h0.9M75.3 177.1h0.9M59.9 164.6h0.9M81.8 156.0h0.9M80.4 156.5h0.9M72.4 164.0h0.9M78.9 154.0h0.9M76.8 161.6h0.9M59.4 164.0h0.9M61.2 174.2h0.9M70.2 167.7h0.9M72.2 159.3h0.9M59.3 147.9h0.9M72.3 161.1h0.9M84.8 151.2h0.9M57.2 171.2h0.9M69.6 165.0h0.9M85.4 173.7h0.9M66.2 171.5h0.9M85.0 147.2h0.9M56.4 151.6h0.9M54.2 155.2h0.9M84.3 160.9h0.9M69.3 146.0h0.9M66.8 177.2h0.9M79.7 158.4h0.9M70.4 170.4h0.9M82.4 148.1h0.9M79.0 155.6h0.9M72.2 151.2h0.9M65.7 154.7h0.9M66.2 143.6h0.9M58.4 162.6h0.9M52.3 149.1h0.9M80.7 152.4h0.9M63.7 151.3h0.9M85.7 146.1h0.9M77.2 172.5h0.9M58.5 157.5h0.9M83.9 164.2h0.9M65.8 144.5h0.9M68.8 155.6h0.9M80.4 153.1h0.9M67.3 165.2h0.9M84.7 155.1h0.9M66.4 162.8h0.9M65.8 165.8h0.9M64.0 145.4h0.9M82.3 156.0h0.9M72.4 160.0h0.9M88.6 169.0h0.9M50.9 163.3h0.9M69.7 158.9h0.9M85.9 157.2h0.9M70.2 173.5h0.9M68.7 159.9h0.9M71.8 171.3h0.9M78.6 168.4h0.9M67.1 144.4h0.9M79.0 162.0h0.9M82.9 169.4h0.9M54.9 150.6h0.9M53.1 171.0h0.9M82.2 162.4h0.9M52.2 166.4h0.9M80.4 159.6h0.9M52.2 166.7h0.9M67.8 163.0h0.9M64.2 160.8h0.9M50.1 176.9h0.9M61.6 152.0h0.9M63.3 151.7h0.9M86.7 162.1h0.9M71.8 157.4h0.9M52.0 153.4h0.9M87.1 170.5h0.9M58.5 144.8h0.9M72.9 155.8h0.9M69.8 159.8h0.9M74.9 155.5h0.9M84.3 149.9h0.9M52.0 153.8h0.9M72.7 157.0h0.9M74.1 154.1h0.9M61.6 170.3h0.9M62.3 167.4h0.9M84.3 163.3h0.9M69.3 175.1h0.9M68.9 173.1h0.9M52.3 157.9h0.9M77.3 144.7h0.9M75.4 149.2h0.9M84.2 160.1h0.9M78.8 166.2h0.9M62.5 150.2h0.9M85.8 148.0h0.9M54.1 146.3h0.9M83.5 175.6h0.9M67.6 165.6h0.9M60.9 174.1h0.9M79.3 148.3h0.9M52.2 166.9h0.9M51.6 171.7h0.9M62.4 151.0h0.9M74.8 153.9h0.9M73.9 148.3h0.9M86.0 148.2h0.9M84.2 176.6h0.9M66.6 144.1h0.9M66.1 165.0h0.9M59.4 161.7h0.9M53.8 158.9h0.9M81.1 157.7h0.9M79.0 146.9h0.9M85.4 147.2h0.9M89.5 177.2h0.9M62.3 154.9h0.9M82.1 160.0h0.9M70.6 172.6h0.9M75.5 161.5h0.9M53.6 147.8h0.9M61.5 173.6h0.9M86.2 150.8h0.9M75.5 176.2h0.9M64.6 175.4h0.9M78.0 144.7h0.9M64.1 158.4h0.9M60.4 168.5h0.9M57.5 170.0h0.9M62.6 145.4h0.9M73.8 146.3h0.9M73.5 170.0h0.9M75.4 158.8h0.9M51.3 160.6h0.9M54.0 165.2h0.9M55.5 162.8h0.9M65.0 155.9h0.9M78.3 148.6h0.9M57.1 175.3h0.9M64.1 171.9h0.9M87.4 159.5h0.9M56.2 146.2h0.9M71.1 161.4h0.9M54.9 159.0h0.9M56.9 161.4h0.9M71.6 155.6h0.9M58.3 156.8h0.9M58.5 147.4h0.9M60.1 172.9h0.9M71.4 173.5h0.9M50.4 175.4h0.9M70.8 170.1h0.9M74.3 166.6h0.9M59.7 168.7h0.9M56.4 152.1h0.9M51.1 156.5h0.9M72.1 153.0h0.9M74.7 151.0h0.9M75.4 169.9h0.9M80.4 145.1h0.9M60.4 163.6h0.9M76.4 166.7h0.9M84.8 154.7h0.9M84.7 158.8h0.9M67.3 146.0h0.9M60.3 168.2h0.9M79.0 148.2h0.9M64.6 147.8h0.9M58.3 150.5h0.9M64.0 176.5h0.9M70.4 160.1h0.9M83.3 174.1h0.9M82.1 164.8h0.9M58.4 164.4h0.9M86.2 170.0h0.9M53.8 167.6h0.9M64.8 148.6h0.9M81.9 147.6h0.9M85.4 175.1h0.9M88.7 168.6h0.9M85.6 170.5h0.9M75.2 157.9h0.9M85.3 169.9h0.9M60.6 171.8h0.9M59.8 149.8h0.9M69.5 151.1h0.9M71.0 174.1h0.9M79.3 167.4h0.9M66.7 169.9h0.9M83.9 166.4h0.9M90.3 171.3h0.9M67.3 146.0h0.9M77.9 171.7h0.9M64.4 163.4h0.9M85.8 170.2h0.9M50.0 159.8h0.9M84.7 157.4h0.9M75.8 158.7h0.9M64.2 150.3h0.9M65.0 172.0h0.9M76.4 153.0h0.9M53.6 152.3h0.9M80.0 158.2h0.9M78.2 170.7h0.9M55.0 166.4h0.9M51.6 171.2h0.9M57.7 152.3h0.9M59.4 173.5h0.9M76.0 173.7h0.9M66.8 160.1h0.9M85.5 148.6h0.9M57.3 175.4h0.9M69.3 170.8h0.9M60.6 155.1h0.9M54.1 162.0h0.9M86.9 160.6h0.9M66.0 174.9h0.9M88.2 165.9h0.9M53.1 164.4h0.9M68.9 175.9h0.9M65.4 165.7h0.9M77.0 155.9h0.9M72.3 166.2h0.9M65.4 176.5h0.9M52.3 171.6h0.9M79.2 162.1h0.9M69.1 168.8h0.9M88.1 168.0h0.9M82.0 144.2h0.9M63.8 147.7h0.9M90.8 173.6h0.9M56.0 163.2h0.9M74.6 144.6h0.9M66.7 168.6h0.9M77.4 152.6h0.9M82.6 153.0h0.9M73.2 157.4h0.9M84.4 166.2h0.9M66.2 176.0h0.9M80.3 166.7h0.9M61.7 148.6h0.9M74.5 171.3h0.9M83.9 154.9h0.9M55.8 160.7h0.9M81.5 148.9h0.9M63.2 144.8h0.9M62.6 156.1h0.9M91.4 176.0h0.9M57.8 153.6h0.9M63.6 158.0h0.9M54.5 151.9h0.9M66.7 156.2h0.9M58.6 174.2h0.9M69.2 171.7h0.9M77.2 169.7h0.9M63.3 148.2h0.9M82.4 159.1h0.9M73.8 166.0h0.9M82.2 152.4h0.9M65.4 174.5h0.9M72.6 152.9h0.9M76.9 151.9h0.9M83.0 144.4h0.9M85.3 162.4h0.9M65.0 175.2h0.9M61.2 151.3h0.9M52.8 161.8h0.9M82.2 166.3h0.9M67.5 170.7h0.9M54.6 153.5h0.9M77.5 176.2h0.9M77.1 166.7h0.9M83.1 156.5h0.9M90.2 168.5h0.9M64.5 156.5h0.9M84.4 155.0h0.9M57.8 172.9h0.9M72.7 160.9h0.9M78.6 173.9h0.9M55.5 154.6h0.9M52.6 157.2h0.9M71.4 172.2h0.9M78.5 162.8h0.9M67.2 162.7h0.9M61.6 172.0h0.9M83.7 171.8h0.9M56.3 166.0h0.9M82.2 160.2h0.9M88.4 173.8h0.9M81.7 171.2h0.9M77.7 173.1h0.9M55.4 167.2h0.9M80.1 164.0h0.9M61.6 145.3h0.9M75.7 171.3h0.9M61.5 150.3h0.9M59.4 146.2h0.9M78.9 176.4h0.9M84.3 155.3h0.9M79.9 145.5h0.9M85.9 154.2h0.9M49.9 164.6h0.9M55.8 152.4h0.9M52.3 158.3h0.9M73.7 170.7h0.9M51.5 171.4h0.9M54.6 150.7h0.9M76.9 154.7h0.9" stroke="#fff" stroke-width="0.9" opacity="0.28"/>
<path d="M64.0 162.5h0.9M59.2 170.2h0.9M58.8 171.8h0.9M84.6 161.4h0.9M51.1 169.7h0.9M51.0 160.3h0.9M68.0 145.2h0.9M76.9 167.9h0.9M75.0 156.7h0.9M71.8 163.2h0.9M59.5 172.8h0.9M70.3 147.6h0.9M69.3 166.4h0.9M80.3 158.6h0.9M64.5 149.5h0.9M67.1 152.7h0.9M58.2 168.2h0.9M72.0 158.0h0.9M58.3 167.1h0.9M58.3 152.1h0.9M73.9 167.1h0.9M90.6 174.6h0.9M80.9 167.7h0.9M52.5 150.1h0.9M50.4 172.6h0.9M80.8 164.6h0.9M61.1 155.2h0.9M56.8 164.7h0.9M51.7 149.0h0.9M65.1 173.8h0.9M84.4 158.6h0.9M54.2 146.7h0.9M56.4 169.7h0.9M70.1 177.0h0.9M89.0 170.3h0.9M70.3 171.2h0.9M55.3 146.7h0.9M74.0 160.4h0.9M58.8 151.6h0.9M50.7 174.2h0.9M80.3 175.4h0.9M81.3 156.2h0.9M84.7 171.9h0.9M59.0 163.1h0.9M85.5 170.0h0.9M69.7 144.5h0.9M88.0 161.3h0.9M52.9 154.1h0.9M76.7 173.4h0.9M70.6 164.9h0.9M58.6 151.3h0.9M54.3 163.3h0.9M55.2 149.9h0.9M69.4 163.1h0.9M77.2 167.2h0.9M68.7 145.3h0.9M81.0 144.8h0.9M70.0 156.7h0.9M78.7 167.5h0.9M60.1 165.3h0.9M79.6 159.2h0.9M55.9 174.2h0.9M75.6 145.2h0.9M60.1 176.8h0.9M59.6 156.5h0.9M83.7 171.3h0.9M77.1 168.4h0.9M60.1 174.9h0.9M59.2 166.0h0.9M82.4 146.6h0.9M57.8 170.7h0.9M56.8 160.6h0.9M54.3 170.0h0.9M88.1 174.4h0.9M49.9 172.2h0.9M73.7 171.2h0.9M71.4 164.3h0.9M75.4 170.4h0.9M73.3 153.0h0.9M81.8 143.8h0.9M85.5 170.8h0.9M69.5 147.2h0.9M77.8 150.1h0.9M68.2 146.8h0.9M65.0 146.2h0.9M81.2 172.1h0.9M86.3 146.5h0.9M65.6 153.4h0.9M82.6 148.1h0.9M75.9 176.6h0.9M53.0 146.9h0.9M79.6 163.5h0.9M72.2 158.6h0.9M67.3 164.0h0.9M77.7 174.4h0.9M81.3 170.3h0.9M89.1 171.7h0.9M80.6 144.1h0.9M79.1 172.2h0.9M68.3 173.1h0.9M57.5 175.3h0.9M68.8 167.2h0.9M60.7 153.3h0.9M64.8 154.1h0.9M53.9 158.2h0.9M89.9 169.1h0.9M85.8 177.1h0.9M82.2 152.4h0.9M60.5 157.1h0.9M50.7 150.9h0.9M87.9 174.6h0.9M63.9 169.4h0.9M83.1 173.5h0.9M84.0 161.2h0.9M54.3 171.3h0.9M63.3 164.5h0.9M65.6 161.4h0.9M72.6 165.3h0.9M73.0 175.2h0.9M67.3 174.3h0.9M79.5 176.2h0.9M53.7 150.3h0.9M62.2 174.1h0.9M50.4 151.9h0.9M80.6 176.9h0.9M57.4 158.0h0.9M79.3 166.7h0.9M81.9 168.8h0.9M60.5 151.8h0.9M51.0 166.7h0.9M58.8 151.9h0.9M75.2 165.5h0.9M75.5 166.8h0.9M62.9 145.2h0.9M65.3 147.9h0.9M54.7 159.9h0.9M61.6 169.4h0.9M57.4 146.4h0.9M62.8 157.0h0.9M79.4 158.3h0.9M81.1 146.3h0.9M85.6 144.1h0.9M85.4 150.8h0.9M86.6 170.5h0.9M78.6 152.5h0.9M50.2 149.5h0.9M78.1 163.1h0.9M78.2 149.2h0.9M56.0 146.3h0.9M77.8 162.5h0.9M59.4 145.2h0.9M50.4 172.2h0.9M55.4 176.0h0.9M65.4 167.8h0.9M55.7 170.0h0.9M60.6 155.6h0.9M72.3 146.8h0.9M60.5 170.3h0.9M62.1 156.1h0.9M82.7 150.7h0.9M58.1 150.5h0.9M66.3 155.5h0.9M77.4 159.2h0.9M78.3 171.7h0.9M68.6 147.0h0.9M69.6 167.4h0.9M53.8 147.0h0.9M70.4 149.0h0.9M59.7 158.1h0.9M65.3 159.1h0.9M52.9 150.6h0.9M81.8 162.3h0.9M87.2 176.0h0.9M60.1 148.9h0.9M53.4 152.1h0.9M81.2 145.6h0.9M69.3 153.9h0.9M58.6 165.7h0.9M65.3 147.1h0.9M77.9 160.7h0.9M50.9 159.1h0.9M81.6 161.4h0.9M59.9 160.1h0.9M75.8 165.3h0.9M56.0 170.6h0.9M86.7 155.6h0.9M59.6 163.5h0.9M68.7 147.8h0.9M58.0 168.7h0.9M74.9 175.2h0.9M67.1 166.3h0.9M50.3 175.5h0.9M59.8 159.4h0.9M71.8 175.5h0.9M71.0 177.0h0.9M76.5 150.4h0.9M85.7 149.9h0.9M59.5 176.0h0.9M63.6 157.0h0.9M64.6 165.9h0.9M50.8 155.8h0.9M56.8 171.4h0.9M49.8 163.8h0.9M60.9 158.6h0.9M74.0 167.4h0.9M55.7 151.2h0.9M55.0 175.9h0.9M56.2 147.7h0.9M72.3 162.9h0.9M59.9 148.7h0.9M75.0 158.5h0.9M67.4 173.5h0.9M78.3 172.5h0.9M52.0 174.4h0.9M62.3 152.9h0.9M91.4 172.9h0.9M67.9 161.2h0.9M86.3 170.7h0.9M77.9 160.6h0.9M54.8 151.4h0.9M78.1 163.1h0.9M84.2 173.8h0.9M53.1 173.8h0.9M74.3 149.2h0.9M79.6 151.8h0.9M60.0 155.6h0.9M72.3 166.2h0.9M53.0 168.4h0.9M76.6 159.2h0.9M78.7 170.4h0.9M50.2 159.3h0.9M79.0 167.3h0.9M77.6 149.2h0.9M59.8 157.8h0.9M67.4 176.0h0.9M81.4 155.3h0.9M78.3 169.3h0.9M55.3 150.6h0.9M59.0 152.1h0.9M51.3 147.7h0.9M67.3 157.4h0.9M53.1 163.0h0.9M65.1 167.2h0.9M68.6 149.0h0.9M70.5 143.6h0.9M78.9 148.5h0.9M65.7 176.0h0.9M82.8 171.7h0.9M77.4 164.8h0.9M80.1 176.1h0.9M58.2 169.3h0.9M62.7 151.8h0.9M85.1 163.6h0.9M86.3 173.0h0.9M75.1 149.8h0.9M50.4 161.3h0.9M81.0 152.3h0.9M57.2 166.9h0.9M50.0 150.9h0.9M61.2 167.4h0.9M54.7 175.1h0.9M64.2 160.9h0.9M63.6 157.3h0.9M70.4 151.9h0.9M56.8 146.1h0.9M76.6 166.9h0.9M61.1 170.2h0.9M81.1 154.7h0.9M70.9 149.5h0.9M52.0 148.3h0.9M79.6 156.2h0.9M80.6 150.9h0.9M84.1 170.5h0.9M53.9 163.1h0.9M58.0 167.3h0.9M84.4 170.1h0.9M59.7 146.2h0.9M78.3 162.4h0.9M55.7 149.6h0.9M74.8 146.7h0.9M77.1 151.3h0.9M60.9 157.5h0.9M72.7 167.8h0.9M51.1 167.8h0.9M59.3 153.0h0.9M77.3 166.7h0.9M76.2 173.9h0.9M58.6 153.7h0.9M78.3 151.9h0.9M56.6 150.8h0.9M83.0 171.4h0.9M80.6 175.9h0.9M84.0 153.6h0.9M63.4 167.7h0.9M52.2 163.9h0.9M71.9 148.2h0.9M89.9 173.1h0.9M69.7 149.8h0.9M54.9 160.4h0.9M72.2 155.4h0.9M80.6 161.2h0.9M83.1 146.6h0.9M52.8 156.3h0.9M70.6 151.7h0.9M78.5 150.6h0.9M63.5 159.4h0.9M80.4 169.4h0.9M65.8 158.3h0.9M89.7 175.0h0.9M76.4 146.6h0.9M69.4 164.8h0.9M61.8 144.3h0.9M55.3 159.0h0.9M76.4 153.3h0.9M52.7 168.7h0.9M82.9 158.0h0.9M53.5 156.5h0.9M53.8 176.0h0.9M52.0 152.9h0.9M82.8 147.6h0.9M56.9 161.2h0.9M85.6 148.8h0.9M57.3 169.2h0.9M68.1 154.6h0.9M55.1 151.3h0.9M61.0 168.4h0.9M88.1 174.0h0.9M70.1 175.8h0.9M75.8 152.9h0.9M69.8 167.6h0.9M81.4 147.4h0.9M58.1 175.9h0.9M54.4 170.9h0.9M64.4 151.5h0.9M60.8 159.1h0.9M86.5 154.0h0.9M57.2 168.5h0.9M64.5 149.4h0.9M67.8 171.2h0.9M86.9 162.7h0.9M50.2 169.2h0.9M75.9 173.8h0.9M86.3 171.1h0.9M61.2 155.5h0.9M65.9 155.1h0.9M66.1 146.8h0.9M59.6 174.2h0.9M67.5 164.8h0.9M88.0 168.9h0.9M60.3 174.5h0.9M84.4 177.0h0.9M81.1 168.9h0.9M84.8 151.7h0.9M78.0 156.1h0.9M85.9 147.6h0.9M73.0 154.5h0.9M85.1 154.8h0.9M86.1 172.1h0.9M90.1 168.5h0.9M78.9 165.4h0.9M51.9 172.8h0.9M73.4 158.6h0.9M64.4 169.9h0.9M83.4 172.8h0.9M59.0 154.7h0.9M60.5 146.4h0.9M63.9 143.9h0.9M84.1 150.8h0.9M81.7 149.8h0.9M69.7 156.8h0.9M84.3 175.7h0.9M63.1 164.7h0.9M88.5 168.2h0.9M63.2 173.0h0.9M74.5 146.6h0.9M75.1 171.4h0.9M72.1 159.6h0.9M67.7 173.2h0.9M78.4 150.1h0.9M65.4 155.5h0.9M55.2 174.4h0.9M51.3 163.3h0.9M68.4 167.6h0.9M68.3 146.2h0.9M72.3 171.1h0.9M83.7 155.2h0.9M59.4 168.5h0.9M84.3 150.5h0.9M87.8 177.0h0.9M68.4 156.1h0.9M80.3 174.9h0.9M58.5 153.4h0.9M63.9 168.1h0.9M57.8 161.8h0.9M71.3 165.9h0.9M56.0 175.8h0.9M84.0 149.3h0.9M82.5 172.8h0.9M65.4 174.7h0.9M71.4 173.8h0.9M88.5 175.8h0.9M71.8 175.0h0.9M73.9 147.9h0.9M76.9 170.6h0.9M68.0 163.7h0.9M60.9 152.5h0.9M67.9 160.6h0.9M69.9 146.2h0.9M50.0 154.7h0.9M80.6 168.7h0.9M60.0 151.8h0.9M72.0 149.0h0.9M75.7 174.0h0.9M58.5 163.1h0.9M80.8 168.7h0.9M80.4 167.4h0.9M61.5 171.8h0.9M84.1 166.2h0.9M55.9 158.8h0.9M77.3 177.2h0.9M64.3 169.3h0.9M60.3 149.8h0.9M56.7 157.1h0.9M76.4 153.4h0.9M56.8 150.5h0.9M53.5 149.6h0.9M63.4 160.3h0.9M57.7 159.5h0.9M68.7 176.4h0.9M70.7 175.4h0.9M70.1 149.8h0.9M75.3 148.0h0.9M57.1 145.5h0.9M80.0 176.2h0.9M67.1 155.1h0.9M68.1 155.1h0.9M79.5 156.4h0.9M56.4 172.6h0.9M74.4 143.2h0.9M86.3 168.0h0.9M65.0 164.6h0.9M68.4 153.2h0.9M73.6 165.7h0.9M81.4 175.6h0.9M56.0 155.5h0.9M86.4 170.1h0.9M75.2 166.2h0.9M64.4 175.4h0.9M73.4 156.8h0.9M57.6 147.0h0.9M88.4 170.5h0.9M51.0 154.1h0.9M70.4 160.0h0.9M65.4 173.7h0.9M64.8 161.2h0.9M70.3 154.4h0.9M66.4 163.9h0.9M83.6 151.9h0.9M65.7 156.3h0.9M65.4 174.3h0.9M73.0 152.5h0.9M64.1 171.2h0.9M56.7 166.7h0.9M50.7 149.6h0.9M52.4 170.6h0.9M56.1 150.8h0.9M52.3 152.0h0.9M81.3 167.7h0.9M88.9 175.5h0.9M73.5 174.6h0.9M53.7 174.7h0.9M68.5 149.6h0.9M82.0 172.5h0.9M66.4 146.2h0.9M87.3 168.8h0.9M75.5 176.5h0.9M80.3 164.6h0.9M54.6 148.6h0.9M57.6 163.9h0.9M78.7 176.3h0.9M65.3 176.6h0.9M68.5 156.4h0.9M60.7 151.0h0.9M91.7 177.1h0.9M80.2 149.0h0.9M57.5 148.2h0.9M64.9 168.3h0.9M52.3 161.2h0.9M79.1 144.2h0.9M68.7 170.1h0.9M74.6 158.5h0.9M87.7 163.6h0.9M64.3 156.6h0.9M90.4 172.5h0.9M55.9 149.0h0.9M66.3 166.7h0.9M50.0 170.5h0.9M83.6 160.7h0.9M50.0 170.4h0.9M67.6 166.0h0.9" stroke="#000" stroke-width="0.9" opacity="0.45"/>
<path d="M46.0,160.0 L56.0,158.0 L62.0,156.0 L68.0,154.5 L74.0,153.5 L79.0,154.5 L82.5,157.0 L85.5,162.0 L88.0,169.0 L89.8,181.5 L46.0,181.5 Z" fill="#080808" filter="url(#b2)"/>
</g>
<ellipse cx="79.8" cy="141.3" rx="8.6" ry="3.2" fill="#1a1a1a" filter="url(#b1)"/>
<path d="M67.5,144.2 L65.4,140.7 L69.8,135.8 L87.8,135.8 L90.5,140.2 L89.4,144" fill="none" stroke="#888" stroke-width="0.6"/>
<line x1="90.50" y1="140.20" x2="102.20" y2="140.20" stroke="#777" stroke-width="0.7"/>
<path d="M101.8,138.6 L104.9,140.2 L101.8,141.79999999999998 Z" fill="#111" stroke="none" stroke-width="1"/>
<text x="65.60" y="134.90" font-size="7.5" fill="#111" stroke="#111">0.7</text>
<ellipse cx="128.3" cy="94.9" rx="7.5" ry="4.6" fill="#777" opacity="0.45" filter="url(#b2)"/>
<ellipse cx="149.5" cy="110" rx="4" ry="8" fill="#666" opacity="0.5" filter="url(#b15)"/>
<g filter="url(#b03)">
<path d="M119.0 92.8h0.7M141.1 93.0h0.7M123.9 93.2h0.7M124.4 97.7h0.7M136.6 91.5h0.7M130.4 88.3h0.7M136.9 95.1h0.7M123.6 101.6h0.7M127.2 101.0h0.7M134.2 102.1h0.7M123.0 95.7h0.7M130.0 94.7h0.7M136.9 92.6h0.7M133.8 101.0h0.7M116.1 91.6h0.7M122.4 93.3h0.7M130.1 94.8h0.7M128.3 93.7h0.7M127.3 97.4h0.7M132.3 92.4h0.7M127.1 92.5h0.7M126.7 89.8h0.7M133.5 98.2h0.7M127.1 92.8h0.7M125.1 92.8h0.7M118.5 102.0h0.7M147.5 90.6h0.7M120.8 97.8h0.7M131.4 89.2h0.7M116.3 97.7h0.7M115.9 101.2h0.7M124.8 95.8h0.7M127.8 93.3h0.7M126.9 94.3h0.7M135.3 95.1h0.7M127.6 93.4h0.7M124.0 92.6h0.7M127.9 102.8h0.7M134.5 96.4h0.7M137.8 99.6h0.7M129.0 94.8h0.7M121.2 96.5h0.7M125.9 89.2h0.7M120.1 103.2h0.7M129.1 97.5h0.7M129.0 93.6h0.7M130.6 99.8h0.7M125.9 97.5h0.7M134.0 93.6h0.7M128.8 92.5h0.7M151.3 105.4h0.7M152.9 102.7h0.7M154.6 105.8h0.7M147.0 101.7h0.7M151.5 102.0h0.7M154.9 117.0h0.7M151.1 98.0h0.7M149.4 102.9h0.7M144.1 111.0h0.7M156.1 104.2h0.7M151.9 117.0h0.7M146.6 105.6h0.7M150.3 111.3h0.7M146.1 109.5h0.7M149.2 114.7h0.7M144.7 104.1h0.7M148.0 105.8h0.7M151.7 103.6h0.7M157.7 103.1h0.7M152.0 115.1h0.7M152.4 106.6h0.7M147.0 106.2h0.7M151.5 108.8h0.7M151.2 112.0h0.7M146.8 101.5h0.7M153.8 104.6h0.7M147.0 101.5h0.7M152.4 100.1h0.7M146.9 115.3h0.7M149.9 108.4h0.7M147.6 106.4h0.7M148.0 107.8h0.7M151.8 99.1h0.7M146.7 93.3h0.7M154.0 107.5h0.7M149.5 107.6h0.7M152.5 110.2h0.7M152.1 106.8h0.7M149.1 107.6h0.7M143.9 115.6h0.7M145.7 104.5h0.7M151.1 110.3h0.7M154.0 117.6h0.7M147.4 109.5h0.7M151.9 108.8h0.7M149.2 108.1h0.7M152.8 96.4h0.7M152.6 115.8h0.7M149.3 113.1h0.7M147.2 116.1h0.7M156.8 104.9h0.7M152.9 109.7h0.7M148.7 107.3h0.7M149.0 103.1h0.7M149.5 113.0h0.7M150.2 112.6h0.7M145.8 104.8h0.7M151.0 115.5h0.7M146.8 106.8h0.7M146.9 113.6h0.7M150.3 110.2h0.7M147.9 111.9h0.7M149.6 105.9h0.7M150.3 106.3h0.7M151.8 113.4h0.7M147.8 113.2h0.7M149.7 106.1h0.7M147.3 100.9h0.7M146.8 111.9h0.7M152.4 106.5h0.7M149.9 111.9h0.7M151.4 112.4h0.7M152.4 114.2h0.7M147.7 112.2h0.7M143.9 109.0h0.7M149.5 113.2h0.7M148.8 114.6h0.7M152.7 105.4h0.7M148.2 111.4h0.7M150.7 110.8h0.7M151.5 103.5h0.7M151.4 116.4h0.7M152.2 112.3h0.7M148.9 112.2h0.7M149.3 101.3h0.7M148.0 109.8h0.7M148.3 104.9h0.7M148.9 108.0h0.7M149.7 109.7h0.7M149.9 115.5h0.7M149.8 112.2h0.7M146.6 93.8h0.7M148.5 113.7h0.7M148.7 106.6h0.7M146.5 114.9h0.7M148.2 111.3h0.7M152.2 112.9h0.7M154.9 109.3h0.7M151.8 113.8h0.7M147.9 110.3h0.7M148.1 104.4h0.7M150.2 105.7h0.7M153.5 105.9h0.7M148.2 110.5h0.7M148.3 110.3h0.7M148.0 102.2h0.7M143.7 102.9h0.7M153.2 112.4h0.7M149.9 107.4h0.7M149.2 111.6h0.7M146.2 105.6h0.7M147.4 116.9h0.7M147.0 116.4h0.7M149.3 110.2h0.7M152.7 114.8h0.7M151.8 104.1h0.7M149.3 107.3h0.7M146.9 115.6h0.7M150.2 110.0h0.7M151.6 109.9h0.7M153.0 104.8h0.7M151.6 104.5h0.7M152.9 108.5h0.7M152.4 107.7h0.7M150.5 116.3h0.7M147.3 110.5h0.7M147.5 114.7h0.7M148.1 107.9h0.7M149.0 116.4h0.7M147.0 109.9h0.7M148.7 107.0h0.7M147.6 109.1h0.7M150.0 101.5h0.7M150.1 103.5h0.7M147.2 109.6h0.7M148.9 115.4h0.7M148.4 100.2h0.7M145.6 111.0h0.7M150.1 115.9h0.7M148.2 113.7h0.7M146.9 117.1h0.7M149.3 106.3h0.7M147.5 103.2h0.7M147.1 103.6h0.7M149.4 111.9h0.7M149.1 111.1h0.7M152.3 108.4h0.7M146.5 97.4h0.7M150.1 106.3h0.7M148.9 112.3h0.7M150.6 101.4h0.7M147.2 110.4h0.7M149.2 116.3h0.7M148.3 98.6h0.7M152.3 101.0h0.7M147.2 112.1h0.7M150.1 112.9h0.7M150.8 106.1h0.7M152.5 100.7h0.7M148.1 111.6h0.7M126.4 92.8h0.7M132.1 99.6h0.7M122.1 96.5h0.7M123.3 94.3h0.7M129.7 95.9h0.7M125.4 95.8h0.7M121.1 98.9h0.7M122.8 99.2h0.7M124.0 94.2h0.7M131.7 96.0h0.7M123.2 94.0h0.7M128.2 100.7h0.7M128.3 94.4h0.7M121.3 93.6h0.7M125.3 96.2h0.7M123.2 99.1h0.7M122.0 93.5h0.7M127.8 96.8h0.7M124.2 98.2h0.7M120.2 100.1h0.7M134.5 101.0h0.7M126.3 101.0h0.7M126.0 99.2h0.7M125.0 96.0h0.7M127.9 90.6h0.7M125.0 100.3h0.7M129.5 96.4h0.7M126.6 99.4h0.7M127.1 90.2h0.7M122.0 94.7h0.7M126.4 94.2h0.7M125.4 100.2h0.7M129.5 97.2h0.7M125.9 95.7h0.7M127.3 96.2h0.7M122.9 97.7h0.7M122.5 95.4h0.7M124.4 92.3h0.7M128.2 95.3h0.7M121.1 95.3h0.7M120.3 99.5h0.7M127.9 101.1h0.7M123.5 97.5h0.7M121.9 93.1h0.7M125.4 96.6h0.7M129.5 94.8h0.7M130.2 98.2h0.7M122.3 95.0h0.7M122.1 100.3h0.7M123.6 98.0h0.7M129.4 94.8h0.7M123.9 96.5h0.7M122.7 92.0h0.7M121.9 96.4h0.7M126.6 100.4h0.7M118.5 96.9h0.7M121.2 98.7h0.7M128.6 95.9h0.7M131.7 94.5h0.7M123.7 92.6h0.7M123.2 95.8h0.7M128.5 99.1h0.7M124.7 93.5h0.7M124.5 94.3h0.7M123.9 94.4h0.7M122.3 95.4h0.7M123.8 95.0h0.7M120.3 95.9h0.7M128.1 97.3h0.7M123.6 92.3h0.7M120.6 92.2h0.7M123.2 94.6h0.7M118.8 97.4h0.7M119.7 93.6h0.7M122.9 97.8h0.7M133.1 94.5h0.7M124.7 94.4h0.7M125.0 95.0h0.7M135.6 92.5h0.7M125.4 93.3h0.7M127.2 94.1h0.7M128.1 92.5h0.7M134.2 96.1h0.7M118.8 97.4h0.7M123.9 92.3h0.7M127.5 94.1h0.7M128.7 94.0h0.7M129.4 95.9h0.7M127.2 95.9h0.7M124.4 94.5h0.7M127.6 97.5h0.7M124.2 101.7h0.7M132.5 92.3h0.7M130.1 95.3h0.7M126.7 93.3h0.7M132.3 93.2h0.7M125.5 93.5h0.7M133.4 99.0h0.7M120.6 94.3h0.7M127.2 94.3h0.7M135.9 90.0h0.7M141.2 89.8h0.7M136.1 114.1h0.7M142.3 93.6h0.7M135.9 91.0h0.7M140.0 105.7h0.7M147.3 97.0h0.7M128.4 98.8h0.7M153.9 102.0h0.7M138.4 81.1h0.7M135.2 104.3h0.7M130.6 111.5h0.7M134.0 91.8h0.7M133.9 98.7h0.7M147.9 94.5h0.7M123.2 98.8h0.7M143.6 113.1h0.7M129.0 112.6h0.7M145.0 103.5h0.7M132.2 91.7h0.7M130.5 107.8h0.7M140.9 109.0h0.7M155.1 99.7h0.7M138.6 116.5h0.7M127.4 95.6h0.7" stroke="#555" stroke-width="0.7" opacity="0.45"/>
</g>
<ellipse cx="124.8" cy="95.5" rx="4.0" ry="3.1" fill="#000" filter="url(#b1)"/>
<ellipse cx="128.0" cy="95.2" rx="3" ry="2.2" fill="#333" opacity="0.6" filter="url(#b1)"/>
<ellipse cx="149.5" cy="110" rx="2.3" ry="6.0" fill="#000" opacity="0.9" filter="url(#b1)"/>
<rect x="117.40" y="85.40" width="18.80" height="16.90" fill="none" stroke="#888" stroke-width="0.6"/>
<rect x="140.20" y="99.80" width="20.00" height="18.40" fill="none" stroke="#888" stroke-width="0.6"/>
<text x="118.60" y="83.10" font-size="7.5" fill="#111" stroke="#111">55.5</text>
<text x="146.30" y="97.20" font-size="7.5" fill="#111" stroke="#111">41.2</text>
<ellipse cx="128.0" cy="154.0" rx="7.5" ry="4.6" fill="#777" opacity="0.45" filter="url(#b2)"/>
<ellipse cx="149.4" cy="169" rx="4" ry="8" fill="#666" opacity="0.5" filter="url(#b15)"/>
<g filter="url(#b03)">
<path d="M125.3 153.1h0.7M128.3 151.3h0.7M134.4 149.3h0.7M122.7 148.0h0.7M119.2 156.9h0.7M131.2 153.8h0.7M132.5 157.0h0.7M124.1 154.5h0.7M129.7 162.5h0.7M124.9 156.1h0.7M130.7 159.4h0.7M130.0 158.8h0.7M121.2 153.6h0.7M116.1 154.4h0.7M141.3 155.6h0.7M128.0 155.7h0.7M128.4 149.4h0.7M123.4 153.9h0.7M128.5 151.2h0.7M126.9 151.8h0.7M119.7 152.0h0.7M122.8 157.9h0.7M135.4 156.9h0.7M126.3 152.4h0.7M118.2 152.6h0.7M136.7 159.1h0.7M128.8 153.7h0.7M127.5 156.3h0.7M127.5 156.3h0.7M123.0 154.8h0.7M125.4 158.8h0.7M120.2 159.7h0.7M127.0 152.7h0.7M127.6 155.1h0.7M126.1 156.3h0.7M124.1 148.0h0.7M131.6 154.5h0.7M137.3 156.1h0.7M115.7 159.5h0.7M123.4 156.8h0.7M140.6 158.9h0.7M121.1 154.3h0.7M118.0 157.2h0.7M130.8 150.6h0.7M130.2 158.3h0.7M132.3 152.0h0.7M123.4 150.3h0.7M119.9 155.9h0.7M127.7 159.7h0.7M129.1 153.4h0.7M149.9 166.8h0.7M146.4 159.9h0.7M151.3 160.4h0.7M151.1 171.3h0.7M148.3 156.0h0.7M150.6 176.6h0.7M147.0 158.5h0.7M152.6 168.0h0.7M147.6 175.4h0.7M148.6 170.1h0.7M148.2 161.9h0.7M150.0 161.2h0.7M144.2 163.4h0.7M153.0 174.5h0.7M155.8 173.8h0.7M154.2 168.8h0.7M148.1 170.2h0.7M146.6 172.1h0.7M148.1 168.8h0.7M146.9 166.2h0.7M152.3 165.6h0.7M147.4 169.0h0.7M152.0 165.8h0.7M146.0 156.5h0.7M145.5 174.3h0.7M149.1 170.3h0.7M152.6 169.0h0.7M150.8 163.6h0.7M144.7 171.3h0.7M149.1 171.0h0.7M146.3 166.1h0.7M155.3 161.4h0.7M149.7 176.0h0.7M148.7 167.9h0.7M143.1 172.3h0.7M148.1 175.8h0.7M149.1 164.6h0.7M150.7 165.5h0.7M152.3 167.8h0.7M151.8 172.7h0.7M150.8 169.3h0.7M149.6 171.2h0.7M150.7 170.9h0.7M148.1 168.7h0.7M150.5 163.8h0.7M149.4 173.1h0.7M149.8 167.6h0.7M149.3 166.5h0.7M151.7 167.1h0.7M145.5 162.7h0.7M150.1 170.2h0.7M148.3 162.1h0.7M149.0 164.6h0.7M147.9 169.1h0.7M147.6 170.7h0.7M147.7 166.6h0.7M148.9 176.8h0.7M153.1 174.1h0.7M147.7 169.1h0.7M151.5 173.3h0.7M145.6 168.8h0.7M147.7 173.0h0.7M150.9 166.3h0.7M154.4 167.6h0.7M155.1 168.2h0.7M148.2 166.6h0.7M152.9 168.9h0.7M150.5 162.5h0.7M153.6 174.3h0.7M150.2 172.8h0.7M148.2 166.6h0.7M145.7 171.0h0.7M152.3 173.6h0.7M151.6 172.8h0.7M147.2 162.2h0.7M150.9 170.0h0.7M151.7 167.6h0.7M147.3 171.4h0.7M148.1 160.5h0.7M148.0 164.5h0.7M146.8 166.2h0.7M153.5 166.9h0.7M152.1 168.7h0.7M150.3 165.5h0.7M149.2 160.3h0.7M153.6 165.1h0.7M150.8 166.0h0.7M150.0 162.9h0.7M148.5 173.9h0.7M150.8 158.9h0.7M151.4 162.2h0.7M150.1 171.8h0.7M147.9 167.4h0.7M148.8 171.2h0.7M151.5 176.2h0.7M148.8 173.1h0.7M149.1 169.5h0.7M147.2 171.1h0.7M154.2 169.9h0.7M149.4 169.1h0.7M151.1 168.0h0.7M149.4 170.2h0.7M152.5 174.1h0.7M146.9 165.8h0.7M149.4 173.5h0.7M151.7 168.0h0.7M154.4 168.2h0.7M152.7 176.5h0.7M153.1 170.1h0.7M150.8 161.1h0.7M145.2 165.9h0.7M151.1 174.7h0.7M149.2 174.5h0.7M150.8 177.1h0.7M145.7 164.8h0.7M147.2 163.6h0.7M153.3 164.3h0.7M147.5 167.0h0.7M151.5 166.7h0.7M151.1 172.0h0.7M147.9 156.7h0.7M147.2 162.6h0.7M153.2 165.3h0.7M146.9 171.1h0.7M149.5 164.2h0.7M152.0 173.9h0.7M150.1 165.1h0.7M147.3 158.4h0.7M150.3 171.1h0.7M147.2 169.2h0.7M157.1 163.2h0.7M145.4 172.3h0.7M148.4 166.5h0.7M150.9 168.4h0.7M151.7 171.8h0.7M152.1 169.7h0.7M144.3 176.2h0.7M145.4 174.5h0.7M150.0 161.8h0.7M149.6 173.7h0.7M147.0 169.3h0.7M147.7 163.8h0.7M147.9 175.7h0.7M151.0 168.9h0.7M149.2 169.7h0.7M150.1 170.0h0.7M145.4 173.9h0.7M147.4 155.5h0.7M151.1 162.8h0.7M149.1 168.6h0.7M148.0 171.9h0.7M148.8 167.6h0.7M147.2 167.6h0.7M147.0 169.3h0.7M152.5 174.3h0.7M150.4 161.9h0.7M151.8 173.9h0.7M154.3 157.3h0.7M149.4 167.3h0.7M152.0 163.4h0.7M124.0 160.8h0.7M129.4 149.3h0.7M125.6 158.3h0.7M123.1 156.2h0.7M125.9 150.7h0.7M123.0 157.7h0.7M130.2 153.0h0.7M129.9 152.7h0.7M126.5 154.6h0.7M120.6 155.5h0.7M124.0 147.3h0.7M122.2 152.4h0.7M122.2 152.0h0.7M122.8 148.1h0.7M129.0 154.8h0.7M126.5 153.9h0.7M125.8 153.9h0.7M121.2 150.6h0.7M125.8 157.3h0.7M126.4 158.9h0.7M120.1 153.9h0.7M123.1 157.9h0.7M132.2 153.2h0.7M128.4 154.0h0.7M121.6 154.3h0.7M121.4 158.8h0.7M127.8 157.8h0.7M126.9 148.1h0.7M128.7 154.9h0.7M116.1 154.9h0.7M129.5 159.2h0.7M121.5 156.7h0.7M126.8 154.2h0.7M124.4 156.0h0.7M127.8 156.4h0.7M123.9 151.1h0.7M130.7 158.1h0.7M123.3 154.5h0.7M128.7 149.9h0.7M127.5 161.1h0.7M126.6 152.7h0.7M133.5 154.6h0.7M126.3 153.5h0.7M126.2 149.8h0.7M120.5 150.7h0.7M129.0 154.4h0.7M130.0 149.1h0.7M123.1 158.5h0.7M122.4 149.6h0.7M122.6 153.7h0.7M125.4 158.1h0.7M130.7 158.8h0.7M127.8 153.3h0.7M123.6 150.6h0.7M130.5 158.0h0.7M125.9 152.2h0.7M128.2 155.9h0.7M126.1 151.5h0.7M126.4 153.1h0.7M128.4 156.2h0.7M127.2 153.5h0.7M131.5 156.7h0.7M130.5 156.9h0.7M128.1 155.7h0.7M121.3 149.7h0.7M121.8 156.3h0.7M129.1 155.1h0.7M125.9 159.5h0.7M123.9 149.8h0.7M119.4 153.7h0.7M128.3 156.6h0.7M124.6 156.8h0.7M125.3 152.7h0.7M124.0 156.6h0.7M129.2 151.6h0.7M121.6 154.9h0.7M133.8 151.5h0.7M120.6 155.7h0.7M127.5 153.0h0.7M125.4 155.9h0.7M118.7 154.5h0.7M127.9 157.1h0.7M130.1 154.4h0.7M119.8 158.2h0.7M128.5 152.9h0.7M129.6 157.4h0.7M125.0 148.3h0.7M123.7 152.6h0.7M122.2 154.4h0.7M121.3 155.6h0.7M132.9 151.4h0.7M129.6 153.2h0.7M127.6 154.3h0.7M130.5 152.7h0.7M128.4 152.5h0.7M126.4 154.6h0.7M129.8 150.4h0.7M120.2 158.3h0.7M127.0 159.2h0.7M121.5 155.2h0.7M144.3 173.8h0.7M138.5 154.7h0.7M145.3 157.7h0.7M132.4 165.2h0.7M122.2 149.9h0.7M151.0 154.3h0.7M136.2 161.8h0.7M148.9 163.2h0.7M130.5 153.7h0.7M148.2 157.6h0.7M133.4 166.1h0.7M129.5 152.5h0.7M132.9 161.7h0.7M134.8 168.2h0.7M133.3 156.2h0.7M144.0 160.4h0.7M130.1 171.6h0.7M144.1 154.4h0.7M140.8 149.1h0.7M128.2 156.0h0.7M142.2 159.5h0.7M132.2 146.6h0.7M124.3 172.4h0.7M142.2 151.7h0.7M149.4 163.3h0.7" stroke="#555" stroke-width="0.7" opacity="0.45"/>
</g>
<ellipse cx="124.5" cy="154.6" rx="4.0" ry="3.1" fill="#000" filter="url(#b1)"/>
<ellipse cx="127.7" cy="154.29999999999998" rx="3" ry="2.2" fill="#333" opacity="0.6" filter="url(#b1)"/>
<ellipse cx="149.4" cy="169" rx="2.3" ry="6.0" fill="#000" opacity="0.9" filter="url(#b1)"/>
<rect x="116.30" y="144.30" width="20.50" height="17.00" fill="none" stroke="#888" stroke-width="0.6"/>
<rect x="140.50" y="159.30" width="20.00" height="18.20" fill="none" stroke="#888" stroke-width="0.6"/>
<text x="118.80" y="141.70" font-size="7.5" fill="#111" stroke="#111">68</text>
<text x="145.80" y="156.70" font-size="7.5" fill="#111" stroke="#111">29.5</text>
<g filter="url(#b03)">
<path d="M209.3 104.6h0.75M214.2 105.3h0.75M215.7 104.2h0.75M208.8 105.1h0.75M208.4 109.4h0.75M211.4 108.8h0.75M212.0 100.4h0.75M210.0 102.5h0.75M212.1 99.0h0.75M208.8 103.8h0.75M208.7 106.8h0.75M215.3 101.6h0.75M206.1 108.6h0.75M212.9 107.3h0.75M211.3 115.5h0.75M214.1 104.2h0.75M214.4 97.1h0.75M210.1 102.8h0.75M211.2 113.8h0.75M209.1 115.4h0.75M207.4 115.8h0.75M205.3 106.6h0.75M213.7 103.6h0.75M211.1 106.1h0.75M211.2 105.2h0.75M207.6 107.5h0.75M210.9 101.9h0.75M212.1 113.8h0.75M205.5 107.9h0.75M209.7 107.3h0.75M210.9 102.8h0.75M210.5 106.6h0.75M210.3 114.1h0.75M211.0 99.1h0.75M205.7 113.2h0.75M209.5 104.4h0.75M206.4 108.3h0.75M210.3 103.4h0.75M209.5 111.6h0.75M213.0 107.2h0.75M210.1 100.4h0.75M213.0 111.8h0.75M214.6 109.0h0.75M211.5 107.6h0.75M210.6 112.5h0.75M209.8 117.5h0.75M213.0 103.1h0.75M210.6 98.8h0.75M208.3 106.9h0.75M218.2 96.6h0.75M213.5 104.6h0.75M209.7 110.2h0.75M204.4 115.9h0.75M216.6 103.2h0.75M210.4 107.4h0.75M212.7 102.5h0.75M211.0 108.6h0.75M209.5 109.2h0.75M211.6 109.1h0.75M207.5 106.3h0.75M209.3 113.3h0.75M211.4 98.0h0.75M211.7 99.5h0.75M207.8 109.4h0.75M215.0 110.8h0.75M209.5 106.0h0.75M216.6 97.1h0.75M215.5 104.3h0.75M210.9 112.4h0.75M212.1 101.3h0.75M205.9 110.3h0.75M212.2 111.8h0.75M212.5 112.3h0.75M213.1 105.6h0.75M211.9 107.4h0.75M208.6 107.5h0.75M211.0 104.0h0.75M206.0 103.1h0.75M212.2 107.8h0.75M210.9 100.6h0.75M213.2 102.5h0.75M212.3 103.1h0.75M203.3 108.9h0.75M215.2 109.4h0.75M211.4 97.6h0.75M209.4 106.1h0.75M212.0 104.8h0.75M211.7 97.8h0.75M208.6 115.0h0.75M206.1 114.5h0.75M217.8 104.0h0.75M206.3 115.9h0.75M204.8 112.7h0.75M209.3 113.5h0.75M214.3 104.5h0.75M216.2 106.8h0.75M209.1 102.9h0.75M218.2 98.5h0.75M211.9 104.9h0.75M209.1 99.9h0.75M210.2 106.3h0.75M213.7 101.6h0.75M205.7 105.2h0.75M210.5 107.8h0.75M212.9 102.9h0.75M212.3 105.9h0.75M215.8 102.1h0.75M211.0 108.9h0.75M214.4 99.1h0.75M209.1 106.3h0.75M213.9 104.0h0.75M221.1 104.4h0.75M216.9 109.1h0.75M213.4 97.5h0.75M215.4 104.8h0.75M206.9 109.7h0.75M212.9 109.4h0.75M211.1 103.6h0.75M213.0 101.0h0.75M210.4 110.4h0.75M206.1 111.8h0.75M204.5 106.8h0.75M206.8 109.1h0.75M212.8 104.5h0.75M213.4 104.7h0.75M210.0 109.4h0.75M209.9 107.7h0.75M213.8 101.2h0.75M214.2 98.3h0.75M209.9 98.7h0.75M209.0 115.5h0.75M211.7 111.7h0.75M206.0 105.2h0.75M212.1 109.3h0.75M213.2 96.4h0.75M212.2 104.9h0.75M211.0 108.5h0.75M209.7 99.0h0.75M207.3 102.1h0.75M206.5 109.1h0.75M214.7 99.9h0.75M208.2 102.8h0.75M205.2 111.1h0.75M209.1 106.5h0.75M207.6 111.2h0.75M206.9 112.1h0.75M208.5 111.9h0.75M207.8 110.8h0.75M212.0 105.0h0.75M215.7 103.3h0.75M207.8 112.0h0.75M208.0 105.9h0.75M210.6 107.3h0.75M215.9 93.9h0.75M209.8 112.6h0.75M210.1 108.4h0.75M215.4 96.8h0.75M210.7 110.2h0.75M208.8 99.5h0.75M207.5 109.9h0.75M211.2 114.9h0.75M214.7 95.8h0.75M213.8 108.4h0.75M215.6 101.8h0.75M208.9 108.6h0.75M215.4 105.7h0.75M215.9 106.1h0.75M208.8 103.1h0.75M216.4 94.6h0.75M209.5 105.8h0.75M207.8 106.0h0.75M210.4 104.1h0.75M211.0 110.7h0.75M208.1 106.5h0.75M205.2 114.2h0.75M212.7 112.1h0.75M213.3 103.0h0.75M209.4 106.0h0.75M206.8 113.2h0.75M208.7 104.5h0.75M212.2 105.8h0.75M208.8 106.8h0.75M209.1 114.2h0.75M213.7 100.5h0.75M210.5 113.2h0.75M209.7 115.8h0.75M212.0 108.6h0.75M204.1 115.7h0.75M211.7 108.5h0.75M212.1 107.9h0.75M209.0 112.1h0.75M210.8 101.3h0.75M207.4 109.8h0.75M211.6 95.0h0.75M204.2 116.7h0.75M205.8 109.1h0.75M208.7 110.7h0.75M215.0 110.8h0.75M207.5 115.0h0.75M206.8 111.0h0.75M211.1 109.1h0.75M208.1 114.9h0.75M210.4 106.6h0.75M209.8 102.0h0.75M212.9 106.4h0.75M212.0 114.4h0.75M207.9 107.3h0.75M210.6 110.6h0.75M210.0 111.5h0.75M212.0 96.8h0.75M208.5 98.3h0.75M209.7 105.2h0.75M212.4 105.9h0.75M210.4 112.8h0.75M212.5 99.1h0.75M208.4 109.8h0.75M215.9 101.4h0.75M210.1 108.2h0.75M213.0 104.1h0.75M211.5 103.7h0.75M208.9 104.0h0.75M212.7 102.2h0.75M212.3 107.1h0.75M213.6 91.1h0.75M207.6 103.0h0.75M210.1 110.8h0.75M218.5 107.8h0.75M214.8 105.0h0.75M209.4 110.1h0.75M203.8 116.4h0.75M210.6 109.5h0.75M207.4 103.7h0.75M208.6 107.9h0.75M211.7 103.9h0.75M211.7 108.9h0.75M207.0 108.9h0.75M205.7 107.7h0.75M213.4 100.8h0.75M216.4 104.4h0.75M213.4 104.8h0.75M213.3 109.7h0.75M210.9 103.7h0.75M208.9 117.2h0.75M210.0 104.7h0.75M208.4 100.1h0.75M209.0 109.3h0.75M209.1 104.0h0.75M211.9 107.7h0.75M209.2 109.1h0.75M207.6 113.1h0.75M207.5 107.3h0.75M211.0 104.1h0.75M215.3 94.3h0.75M211.0 100.0h0.75M211.6 99.4h0.75M212.4 107.7h0.75M215.9 108.2h0.75M209.2 112.2h0.75M209.2 107.1h0.75M209.0 99.2h0.75M212.5 95.1h0.75M209.9 109.6h0.75M211.0 98.6h0.75M208.6 111.4h0.75M214.0 111.6h0.75M204.9 113.2h0.75M209.1 111.4h0.75M205.3 110.0h0.75M212.8 101.6h0.75M209.5 102.6h0.75M214.1 97.3h0.75M207.7 107.1h0.75M209.6 117.6h0.75M211.5 101.8h0.75M212.4 106.7h0.75M211.5 105.5h0.75M212.0 99.7h0.75M206.8 107.4h0.75M207.1 112.6h0.75M216.7 107.7h0.75M212.0 107.0h0.75M208.5 101.9h0.75M212.3 98.0h0.75M211.5 105.1h0.75M212.9 104.9h0.75M210.9 103.4h0.75M205.2 109.1h0.75M212.8 109.9h0.75M214.9 98.3h0.75M207.7 112.2h0.75M211.6 98.3h0.75M208.9 115.5h0.75M204.9 111.7h0.75M206.3 117.7h0.75M209.2 102.6h0.75M205.3 107.2h0.75M202.6 110.5h0.75M217.4 101.6h0.75M209.8 101.5h0.75M211.7 103.4h0.75M208.0 115.3h0.75M212.0 101.1h0.75M215.2 102.6h0.75M212.2 106.0h0.75M214.3 106.6h0.75M209.5 110.9h0.75M209.4 108.1h0.75M215.7 97.3h0.75M207.4 107.1h0.75M209.0 114.1h0.75M215.6 100.4h0.75M211.2 104.3h0.75M212.7 108.1h0.75M213.0 108.4h0.75M216.6 100.9h0.75M212.8 103.9h0.75M210.7 107.5h0.75M210.4 108.3h0.75M207.9 107.9h0.75M208.7 102.3h0.75M208.4 105.8h0.75M210.1 99.3h0.75M209.8 101.6h0.75M208.0 109.4h0.75M214.1 105.2h0.75M209.1 105.6h0.75M214.8 95.3h0.75M214.2 96.4h0.75M208.6 108.3h0.75M209.9 115.2h0.75M212.1 105.0h0.75M213.6 104.3h0.75M208.1 114.0h0.75M215.3 109.1h0.75M209.3 111.3h0.75M214.3 115.2h0.75M205.5 105.5h0.75M214.3 106.0h0.75M209.6 93.0h0.75M212.0 104.5h0.75M202.8 109.9h0.75M210.6 107.7h0.75M213.0 103.3h0.75M207.8 107.0h0.75M204.0 106.2h0.75M216.8 98.3h0.75M210.3 116.0h0.75M213.9 104.5h0.75M212.9 103.4h0.75M207.8 113.6h0.75M211.0 114.0h0.75M209.8 105.3h0.75M211.7 104.7h0.75M209.6 102.9h0.75M211.4 107.5h0.75M216.3 101.9h0.75M205.1 113.1h0.75M217.8 98.7h0.75M208.1 107.7h0.75M201.6 111.9h0.75M210.0 99.6h0.75M212.4 100.8h0.75M204.8 107.5h0.75M212.6 114.3h0.75M214.5 104.4h0.75M209.0 106.5h0.75M213.6 101.6h0.75M211.9 110.2h0.75M207.8 105.9h0.75M212.0 105.4h0.75M210.2 104.2h0.75M210.4 115.7h0.75M214.9 95.2h0.75M210.7 106.8h0.75M210.7 99.7h0.75M210.2 107.5h0.75M208.5 109.7h0.75M202.9 105.1h0.75M210.9 108.2h0.75M210.1 104.7h0.75M211.2 111.3h0.75M213.4 103.9h0.75M209.1 112.8h0.75M212.3 109.5h0.75M209.7 103.0h0.75M211.2 103.0h0.75M214.2 107.8h0.75M203.8 115.2h0.75M214.8 108.3h0.75M209.1 103.5h0.75M213.6 109.1h0.75M210.8 100.7h0.75M205.8 111.6h0.75M208.0 105.2h0.75M212.0 110.5h0.75M204.1 108.3h0.75M214.7 103.1h0.75M209.5 110.5h0.75M207.0 103.3h0.75M210.7 114.1h0.75M213.8 104.0h0.75M213.8 102.0h0.75M206.9 101.2h0.75M211.5 110.2h0.75M211.8 105.4h0.75M209.3 112.8h0.75M210.5 99.6h0.75M214.9 99.9h0.75M211.8 105.5h0.75M213.9 105.1h0.75M214.5 104.5h0.75M209.2 105.2h0.75M212.6 100.8h0.75M213.5 103.0h0.75M207.7 104.5h0.75M210.1 115.5h0.75M213.0 104.7h0.75M209.7 107.2h0.75M209.3 114.1h0.75M211.2 103.8h0.75M211.2 101.1h0.75M207.3 108.3h0.75M216.8 96.1h0.75M210.2 99.1h0.75M211.1 107.1h0.75M212.9 98.1h0.75M208.7 104.8h0.75M210.0 106.8h0.75M209.0 111.7h0.75M218.7 105.9h0.75M215.4 97.4h0.75M213.9 104.0h0.75M214.5 108.6h0.75M212.7 96.7h0.75M211.0 103.7h0.75M212.0 105.6h0.75M213.9 96.0h0.75M208.3 108.0h0.75M211.6 103.7h0.75M210.5 106.8h0.75M213.9 103.3h0.75M211.4 97.0h0.75M202.4 105.8h0.75M211.7 94.3h0.75M211.9 105.0h0.75M210.6 102.9h0.75M209.3 111.6h0.75M211.7 105.5h0.75M209.1 108.8h0.75M214.3 103.5h0.75M209.4 101.6h0.75M210.9 101.7h0.75M206.1 114.3h0.75M208.6 98.0h0.75M208.3 117.3h0.75M210.3 100.3h0.75M207.1 112.8h0.75M211.9 106.5h0.75M210.0 109.4h0.75M215.4 105.1h0.75M210.1 100.0h0.75M212.0 113.1h0.75M212.6 98.7h0.75M211.2 112.4h0.75M208.6 110.5h0.75M214.4 111.5h0.75M205.6 101.9h0.75M211.8 109.0h0.75M209.5 107.3h0.75M209.3 113.4h0.75" stroke="#222" stroke-width="0.75" opacity="0.5"/>
<path d="M207.3 108.7h0.75M208.9 104.7h0.75M208.4 104.4h0.75M211.0 104.9h0.75M214.0 101.6h0.75M211.6 105.3h0.75M211.4 108.6h0.75M211.2 105.0h0.75M210.8 105.0h0.75M210.9 107.7h0.75M211.0 105.0h0.75M210.9 107.0h0.75M210.2 108.1h0.75M210.0 107.6h0.75M214.2 102.7h0.75M210.9 101.6h0.75M212.2 103.8h0.75M212.5 101.7h0.75M211.9 109.1h0.75M211.7 103.3h0.75M208.8 106.6h0.75M212.1 105.5h0.75M209.1 103.5h0.75M209.4 103.3h0.75M210.5 105.9h0.75M214.2 102.6h0.75M213.4 98.1h0.75M213.6 104.9h0.75M211.7 106.5h0.75M212.0 109.3h0.75M212.4 98.8h0.75M208.1 111.8h0.75M210.9 108.6h0.75M210.4 103.4h0.75M210.4 106.2h0.75M211.3 102.8h0.75M211.9 105.8h0.75M209.5 103.0h0.75M207.7 106.7h0.75M211.0 102.8h0.75M210.0 105.3h0.75M211.0 106.4h0.75M212.4 104.9h0.75M212.9 100.5h0.75M212.0 105.0h0.75M209.2 104.4h0.75M211.7 104.4h0.75M208.9 105.0h0.75M213.6 105.0h0.75M211.1 108.5h0.75M209.5 105.6h0.75M212.6 102.5h0.75M209.1 108.0h0.75M213.7 95.4h0.75M211.3 101.1h0.75M210.5 101.2h0.75M215.4 99.2h0.75M211.1 102.7h0.75M209.3 104.9h0.75M211.3 109.5h0.75M211.5 108.8h0.75M209.2 106.5h0.75M210.3 101.0h0.75M217.3 98.8h0.75M211.4 102.3h0.75M210.0 102.7h0.75M212.7 102.2h0.75M210.8 105.5h0.75M208.9 107.2h0.75M210.7 106.3h0.75M210.4 105.5h0.75M211.9 106.8h0.75M209.8 108.5h0.75M209.3 105.7h0.75M211.2 105.0h0.75M206.8 105.6h0.75M210.7 107.7h0.75M209.8 110.1h0.75M208.0 107.6h0.75M211.9 104.1h0.75M211.4 107.1h0.75M209.6 107.6h0.75M212.8 102.6h0.75M207.1 104.7h0.75M209.6 103.0h0.75M211.7 101.9h0.75M215.2 102.9h0.75M208.8 105.8h0.75M213.6 104.5h0.75M209.3 109.2h0.75M210.2 111.7h0.75M210.1 107.3h0.75M211.9 102.7h0.75M210.7 108.3h0.75M211.8 103.9h0.75M211.7 109.1h0.75M212.6 104.8h0.75M211.6 99.9h0.75M211.2 103.2h0.75M212.2 102.0h0.75M211.8 101.2h0.75M212.5 101.5h0.75M211.0 106.5h0.75M210.5 105.3h0.75M212.8 108.3h0.75M208.0 104.8h0.75M212.1 106.5h0.75M210.2 105.7h0.75M210.7 111.5h0.75M210.7 101.7h0.75M208.4 103.4h0.75M213.2 101.8h0.75M214.3 103.8h0.75M211.6 106.1h0.75M212.3 106.3h0.75M209.4 104.6h0.75M210.1 105.9h0.75M210.6 101.7h0.75M209.8 110.8h0.75M214.6 99.4h0.75M211.6 104.2h0.75M209.6 108.0h0.75M210.9 109.6h0.75M211.8 103.3h0.75M206.6 108.3h0.75M212.4 101.6h0.75M212.5 105.5h0.75M208.0 106.8h0.75M211.5 106.5h0.75M211.3 104.5h0.75M210.4 104.5h0.75M211.0 101.8h0.75M212.1 103.0h0.75M211.9 102.6h0.75M211.7 104.6h0.75M212.5 104.8h0.75M212.6 103.0h0.75M210.9 104.1h0.75M208.9 106.2h0.75M212.8 105.4h0.75M209.6 106.9h0.75M212.3 99.9h0.75M211.6 105.2h0.75M212.3 104.5h0.75M208.1 101.6h0.75M214.3 100.9h0.75M213.1 106.6h0.75M211.1 101.5h0.75M213.3 102.7h0.75M211.9 105.4h0.75M212.6 106.3h0.75M208.6 102.9h0.75M211.2 104.6h0.75M212.3 103.3h0.75M210.7 110.8h0.75M213.3 106.1h0.75M212.7 101.1h0.75M210.9 104.7h0.75M209.2 103.9h0.75M211.3 101.2h0.75M211.9 105.4h0.75M210.6 104.2h0.75M212.0 105.3h0.75M211.6 100.8h0.75M208.3 112.9h0.75M209.9 104.7h0.75M207.9 105.1h0.75M209.8 108.1h0.75M206.6 104.6h0.75M210.3 104.0h0.75M209.7 104.7h0.75M208.4 107.8h0.75M213.0 103.5h0.75M210.1 109.1h0.75M211.8 101.2h0.75M210.0 103.9h0.75M210.9 108.3h0.75M209.8 105.4h0.75M211.2 101.3h0.75M210.2 107.2h0.75M212.9 97.9h0.75M212.2 103.0h0.75M213.2 104.7h0.75M214.3 102.9h0.75M210.3 103.0h0.75M208.6 108.4h0.75M211.9 106.4h0.75M211.6 100.1h0.75M210.3 104.7h0.75M211.3 106.7h0.75M213.4 103.6h0.75M207.5 104.9h0.75M207.4 105.7h0.75M209.0 107.2h0.75M210.6 108.2h0.75M212.8 102.0h0.75M212.6 103.5h0.75M211.8 107.9h0.75M209.1 106.2h0.75M213.6 100.5h0.75M211.4 104.9h0.75M210.3 101.7h0.75M209.8 103.0h0.75M212.8 104.0h0.75M212.2 100.5h0.75M211.8 104.5h0.75M212.8 101.3h0.75M212.4 107.5h0.75M214.0 99.6h0.75M209.1 102.3h0.75M212.6 105.1h0.75M211.6 101.9h0.75M213.1 107.5h0.75M210.9 104.5h0.75M213.0 104.5h0.75M213.3 101.8h0.75M211.6 103.4h0.75M210.0 104.8h0.75M210.5 106.6h0.75M210.5 105.4h0.75M209.6 102.5h0.75M213.4 100.0h0.75M214.0 104.9h0.75M207.2 106.3h0.75M210.3 105.5h0.75M210.7 103.4h0.75M213.1 102.7h0.75M212.6 101.5h0.75M209.8 109.5h0.75M210.5 102.1h0.75M210.7 108.0h0.75M210.7 103.0h0.75M212.1 106.6h0.75M210.7 104.2h0.75M210.4 112.9h0.75M210.7 110.0h0.75M210.8 106.1h0.75M207.6 108.2h0.75M211.1 103.8h0.75M210.3 101.6h0.75" stroke="#000" stroke-width="0.75" opacity="0.6"/>
<path d="M186.5 113.1h0.75M193.6 111.5h0.75M197.5 109.6h0.75M189.8 110.1h0.75M196.5 107.0h0.75M191.0 115.6h0.75M206.8 111.5h0.75M226.2 112.8h0.75M209.4 107.4h0.75M208.1 117.7h0.75M192.3 107.4h0.75M198.6 108.3h0.75M204.4 106.6h0.75M199.7 103.5h0.75M198.8 115.8h0.75M196.8 112.9h0.75M208.2 106.4h0.75M188.4 112.6h0.75M201.4 110.2h0.75M190.9 117.0h0.75M189.3 111.2h0.75M198.7 114.5h0.75M195.3 108.5h0.75M215.9 106.8h0.75M205.7 110.4h0.75M195.0 111.6h0.75M196.9 112.9h0.75M199.6 107.5h0.75M214.5 113.0h0.75M201.0 110.1h0.75M210.7 108.8h0.75M192.1 114.8h0.75M190.9 108.9h0.75M211.2 104.1h0.75M198.5 112.0h0.75M201.2 105.4h0.75M197.1 110.3h0.75M215.2 114.4h0.75M192.7 115.5h0.75M204.5 110.6h0.75M197.0 110.5h0.75M186.1 109.9h0.75M206.9 116.8h0.75M214.6 108.8h0.75M204.2 101.4h0.75M196.8 106.5h0.75M205.9 104.3h0.75M190.3 107.7h0.75M202.4 114.6h0.75M200.4 108.0h0.75M202.0 111.2h0.75M206.0 112.4h0.75M217.4 114.9h0.75M193.7 115.1h0.75M205.4 107.0h0.75M192.8 108.7h0.75M197.2 116.6h0.75M194.4 112.2h0.75M205.1 115.0h0.75M201.7 107.1h0.75M217.5 113.6h0.75M210.5 117.2h0.75M210.8 112.3h0.75M203.0 113.8h0.75M186.4 115.7h0.75M190.9 113.8h0.75M190.6 115.0h0.75M200.7 113.4h0.75M191.5 110.9h0.75M198.6 110.4h0.75M195.4 108.2h0.75M205.4 109.5h0.75M192.2 113.5h0.75M192.2 111.3h0.75M194.8 108.1h0.75M197.2 108.3h0.75M188.6 113.7h0.75M196.6 105.8h0.75M195.7 112.5h0.75M202.6 112.7h0.75M201.2 113.8h0.75M194.9 108.6h0.75M204.2 109.5h0.75M199.1 114.1h0.75M206.9 115.9h0.75M193.3 110.4h0.75M203.7 105.4h0.75M188.5 114.7h0.75M193.9 108.1h0.75M205.8 113.2h0.75M206.8 109.6h0.75M196.7 110.3h0.75M201.6 103.1h0.75M193.3 114.8h0.75M192.5 111.7h0.75M200.1 113.5h0.75M195.1 107.2h0.75M220.0 107.1h0.75M213.4 103.3h0.75M200.0 110.6h0.75M207.2 106.8h0.75M192.4 109.0h0.75M194.8 112.9h0.75M192.5 111.0h0.75M211.4 116.4h0.75M183.5 108.8h0.75M196.0 117.0h0.75M202.1 117.1h0.75M191.9 110.8h0.75M207.6 113.2h0.75M183.5 111.5h0.75M200.6 113.9h0.75M200.3 117.3h0.75M202.4 111.6h0.75M196.4 107.0h0.75M206.3 114.0h0.75M206.9 109.4h0.75M190.7 110.6h0.75M196.5 111.6h0.75M207.3 107.2h0.75M195.0 114.6h0.75M203.5 107.8h0.75M190.4 109.0h0.75M199.7 112.5h0.75M198.5 109.1h0.75M197.5 111.3h0.75M204.0 111.5h0.75M192.3 107.3h0.75M211.5 110.2h0.75M197.6 111.5h0.75M208.5 109.5h0.75M200.6 110.4h0.75M203.9 107.1h0.75M200.8 115.5h0.75M209.0 113.3h0.75M201.6 117.6h0.75M205.0 116.7h0.75M189.1 107.8h0.75M205.8 109.9h0.75M195.5 107.9h0.75M211.5 105.8h0.75M200.0 105.8h0.75M219.4 108.0h0.75M192.0 104.9h0.75M202.0 106.9h0.75M187.0 116.9h0.75M193.0 107.7h0.75M200.5 110.6h0.75M208.5 111.2h0.75M212.4 115.1h0.75M213.9 114.9h0.75M199.7 113.6h0.75M199.3 105.2h0.75M189.3 115.2h0.75M179.4 109.6h0.75M188.4 112.0h0.75M190.5 113.1h0.75M197.5 109.7h0.75M192.1 103.1h0.75M199.7 106.3h0.75M196.7 113.2h0.75M207.8 113.7h0.75M211.4 104.9h0.75M204.7 117.4h0.75M202.4 106.8h0.75M202.4 109.2h0.75M193.8 116.2h0.75M197.6 107.1h0.75M192.1 114.7h0.75M200.6 116.1h0.75M196.8 107.9h0.75M193.8 107.8h0.75M220.7 110.7h0.75M196.5 116.8h0.75M204.6 110.4h0.75M204.3 112.2h0.75M208.5 117.4h0.75M196.5 111.6h0.75M197.6 116.5h0.75M202.3 114.4h0.75M206.6 108.4h0.75M200.2 117.0h0.75M206.8 114.2h0.75M196.8 110.2h0.75M192.0 110.9h0.75M198.6 105.8h0.75M208.8 107.7h0.75M201.2 113.8h0.75M194.6 104.6h0.75M207.2 112.5h0.75M197.0 116.2h0.75M206.6 107.1h0.75M198.5 104.5h0.75M197.0 117.3h0.75M192.2 115.3h0.75M186.6 111.2h0.75M207.0 117.8h0.75M202.9 114.3h0.75M213.4 100.6h0.75M219.6 112.4h0.75M199.7 112.5h0.75M199.4 109.0h0.75M199.0 111.0h0.75M204.7 113.8h0.75M207.3 113.3h0.75M191.1 117.7h0.75M201.9 109.2h0.75M214.7 106.0h0.75M189.5 110.2h0.75M202.6 114.4h0.75M200.0 114.1h0.75M193.3 109.5h0.75M200.2 106.0h0.75M200.7 109.8h0.75M204.8 107.0h0.75M194.8 109.6h0.75M196.1 107.7h0.75M197.0 106.2h0.75M203.6 113.9h0.75M199.0 110.8h0.75M191.8 108.2h0.75M197.3 108.0h0.75M189.4 112.9h0.75M199.0 109.9h0.75M192.4 111.8h0.75M193.4 110.2h0.75M200.7 114.3h0.75M205.4 108.6h0.75M209.1 106.1h0.75M197.7 116.8h0.75M218.7 110.6h0.75M196.2 110.2h0.75M189.1 111.7h0.75M195.6 108.7h0.75M209.0 107.6h0.75M213.1 113.8h0.75M204.4 108.8h0.75M194.9 103.8h0.75M201.4 110.3h0.75M202.3 108.6h0.75M203.1 105.2h0.75M181.1 114.7h0.75M208.0 98.2h0.75M209.7 109.3h0.75M197.8 105.4h0.75M190.9 115.0h0.75M193.1 111.8h0.75M206.5 105.7h0.75M195.2 107.2h0.75M187.7 109.6h0.75M208.2 111.0h0.75M204.7 110.5h0.75M195.7 112.1h0.75M213.9 111.9h0.75M204.1 103.1h0.75M192.6 115.3h0.75M209.2 109.2h0.75M197.3 109.8h0.75M205.7 111.1h0.75M211.5 115.3h0.75M196.6 109.2h0.75M197.2 108.1h0.75M195.7 111.5h0.75M206.4 104.6h0.75M187.6 109.2h0.75M196.6 113.5h0.75M194.8 111.0h0.75M199.6 116.2h0.75M201.6 111.4h0.75M194.7 112.5h0.75M202.4 109.8h0.75M198.9 104.1h0.75M194.8 116.6h0.75M210.8 110.3h0.75M195.7 115.8h0.75M194.0 117.4h0.75M208.6 106.5h0.75M197.3 106.8h0.75M201.4 109.7h0.75M186.8 108.2h0.75M201.1 105.2h0.75M208.0 112.7h0.75M197.6 117.2h0.75M191.5 114.8h0.75M188.0 111.0h0.75M204.3 109.0h0.75M198.2 114.2h0.75M211.6 115.8h0.75M202.9 110.2h0.75M214.5 101.7h0.75M206.2 110.8h0.75M204.9 112.3h0.75M197.5 111.6h0.75M198.8 116.2h0.75M196.9 109.5h0.75M204.4 113.7h0.75M202.7 112.4h0.75M211.2 115.1h0.75M200.8 110.5h0.75M204.5 103.6h0.75M194.8 109.0h0.75M200.5 109.8h0.75M219.2 113.0h0.75M199.1 110.2h0.75M209.2 114.1h0.75M206.7 115.8h0.75M196.1 109.1h0.75M193.2 112.4h0.75M207.3 106.6h0.75M194.7 106.4h0.75M215.4 113.5h0.75M200.9 106.5h0.75M190.7 109.5h0.75M199.4 106.4h0.75M197.2 116.6h0.75M199.2 111.9h0.75M182.0 111.7h0.75M197.9 108.8h0.75M187.8 112.0h0.75M190.7 109.9h0.75M186.0 112.1h0.75M206.5 107.5h0.75M201.7 105.2h0.75M203.8 113.3h0.75M195.9 115.3h0.75M191.9 112.2h0.75M212.8 110.4h0.75M189.9 116.8h0.75M203.5 110.1h0.75M184.2 105.0h0.75M201.5 107.9h0.75M208.5 116.7h0.75M192.2 114.0h0.75M185.6 114.0h0.75M213.9 104.7h0.75M199.5 108.9h0.75M198.3 111.9h0.75M201.4 114.9h0.75M203.3 115.4h0.75M207.4 115.3h0.75M193.6 113.6h0.75M196.0 108.3h0.75M215.0 111.5h0.75M199.4 102.9h0.75M197.2 114.8h0.75M197.4 109.4h0.75M211.1 109.3h0.75M196.4 111.3h0.75M197.1 115.9h0.75M203.7 110.9h0.75M196.1 110.8h0.75M212.9 109.2h0.75M204.4 104.7h0.75M201.7 114.1h0.75M209.4 112.0h0.75M203.8 112.5h0.75M200.7 108.1h0.75M203.9 110.7h0.75M204.3 114.3h0.75M200.3 109.6h0.75M201.6 106.3h0.75M201.3 107.7h0.75M202.7 111.7h0.75M197.3 106.8h0.75M199.5 108.7h0.75M197.9 114.4h0.75M206.8 105.7h0.75M206.7 116.4h0.75M208.2 111.9h0.75M196.5 105.5h0.75M199.8 112.6h0.75M190.7 107.2h0.75M215.2 110.8h0.75M205.4 108.7h0.75M186.8 111.7h0.75M210.0 108.0h0.75M184.5 111.9h0.75M196.8 111.7h0.75M190.6 110.9h0.75M194.7 115.4h0.75M200.3 114.9h0.75M198.7 102.9h0.75M183.2 114.8h0.75M206.2 114.5h0.75M198.5 104.3h0.75M195.1 113.4h0.75M210.3 109.3h0.75M194.5 108.7h0.75M207.4 114.4h0.75M184.2 117.5h0.75M191.6 106.1h0.75M186.1 109.5h0.75M189.0 109.5h0.75M200.4 113.1h0.75M195.2 105.4h0.75M195.7 109.0h0.75M184.5 113.2h0.75M187.2 105.3h0.75M211.4 114.4h0.75M210.9 111.1h0.75M195.7 111.4h0.75M188.0 115.3h0.75M201.3 110.1h0.75M183.9 112.2h0.75M212.3 116.4h0.75M206.2 109.5h0.75M200.2 113.7h0.75M200.7 115.6h0.75M193.7 102.5h0.75M187.8 115.0h0.75M207.9 110.8h0.75M203.5 111.5h0.75M200.5 109.5h0.75M195.8 116.6h0.75M196.9 111.5h0.75M208.8 114.8h0.75M195.9 112.8h0.75M190.9 112.6h0.75M201.7 111.3h0.75M200.4 112.9h0.75M199.7 109.5h0.75M191.2 111.1h0.75M212.2 109.6h0.75M193.8 109.9h0.75M189.4 114.2h0.75M191.1 115.8h0.75M206.5 113.3h0.75M207.6 110.5h0.75M184.8 112.3h0.75M204.3 104.8h0.75M189.2 116.7h0.75M202.7 116.7h0.75M204.5 111.4h0.75M202.6 114.7h0.75M198.9 110.7h0.75M201.7 110.0h0.75M218.7 106.9h0.75M186.8 107.2h0.75M207.6 109.2h0.75M200.4 110.5h0.75M201.4 105.4h0.75M199.8 109.1h0.75M208.0 113.4h0.75M188.8 108.3h0.75M203.7 116.0h0.75M205.4 110.4h0.75M208.2 101.2h0.75M194.7 107.9h0.75M190.7 114.4h0.75M201.4 112.5h0.75M198.0 114.1h0.75M205.5 108.7h0.75M206.8 107.2h0.75M213.5 105.1h0.75M196.8 107.3h0.75M199.4 116.8h0.75M210.7 112.2h0.75M194.3 115.5h0.75M207.0 110.7h0.75M219.5 107.2h0.75" stroke="#333" stroke-width="0.75" opacity="0.42"/>
<path d="M187.6 81.4h0.75M196.9 87.0h0.75M185.6 82.5h0.75M200.2 80.0h0.75M191.9 78.4h0.75M197.8 84.4h0.75M196.9 82.7h0.75M198.9 81.6h0.75M197.5 84.4h0.75M200.4 83.5h0.75M194.5 84.1h0.75M186.6 76.8h0.75M201.9 82.4h0.75M189.0 80.3h0.75M193.3 82.2h0.75M190.4 84.9h0.75M185.8 90.3h0.75M188.8 86.9h0.75M197.3 77.0h0.75M188.1 82.2h0.75M195.4 80.8h0.75M194.1 82.5h0.75M188.5 82.2h0.75M205.1 80.1h0.75M189.1 84.0h0.75M200.6 85.1h0.75M191.0 81.8h0.75M195.1 81.4h0.75M196.0 85.2h0.75M196.7 82.0h0.75M193.1 87.3h0.75M188.1 87.9h0.75M197.7 82.3h0.75M190.4 87.4h0.75M200.0 84.7h0.75M204.2 76.7h0.75M194.6 81.1h0.75M190.5 82.2h0.75M196.7 83.6h0.75M193.4 78.1h0.75M196.8 83.8h0.75M204.4 84.8h0.75M194.1 78.6h0.75M207.4 80.0h0.75M195.0 84.2h0.75M196.5 85.9h0.75M189.0 80.0h0.75M194.9 78.4h0.75M191.1 86.1h0.75M195.5 81.7h0.75M191.3 82.1h0.75M193.9 78.8h0.75M197.9 78.2h0.75M200.4 81.0h0.75M182.8 77.4h0.75M195.5 79.4h0.75M203.0 86.1h0.75M204.4 84.6h0.75M200.7 80.2h0.75M200.5 80.7h0.75M193.8 78.0h0.75M194.3 83.2h0.75M193.8 78.7h0.75M198.5 84.7h0.75M193.6 84.3h0.75M198.9 79.1h0.75M193.9 76.5h0.75M188.9 83.3h0.75M189.7 83.2h0.75M195.9 75.9h0.75M191.7 86.5h0.75M194.1 82.4h0.75M190.6 77.2h0.75M186.2 90.6h0.75M193.1 79.4h0.75M194.6 76.2h0.75M201.0 87.1h0.75M190.3 83.0h0.75M189.6 84.6h0.75M189.9 81.6h0.75M200.6 83.6h0.75M192.4 77.5h0.75M186.1 85.6h0.75M196.6 82.2h0.75M200.3 82.4h0.75M190.4 81.7h0.75M193.6 82.0h0.75M206.5 83.7h0.75M195.4 81.3h0.75M190.7 79.0h0.75" stroke="#777" stroke-width="0.75" opacity="0.4"/>
</g>
<rect x="179.70" y="73.60" width="27.90" height="17.70" fill="none" stroke="#888" stroke-width="0.6"/>
<rect x="179.70" y="97.90" width="21.80" height="20.30" fill="none" stroke="#888" stroke-width="0.6"/>
<rect x="203.20" y="95.20" width="16.60" height="23.00" fill="none" stroke="#888" stroke-width="0.6"/>
<g filter="url(#b03)">
<path d="M264.4 107.3h0.75M265.8 98.4h0.75M268.0 96.3h0.75M276.8 111.3h0.75M274.1 90.4h0.75M271.6 100.6h0.75M264.9 108.2h0.75M275.9 107.0h0.75M266.0 105.3h0.75M268.7 114.6h0.75M271.2 100.9h0.75M268.1 96.5h0.75M268.3 113.3h0.75M264.3 111.2h0.75M271.1 111.5h0.75M267.2 114.0h0.75M277.4 117.1h0.75M265.3 109.3h0.75M270.7 107.6h0.75M267.8 113.4h0.75M280.5 111.0h0.75M267.9 104.9h0.75M274.3 105.9h0.75M268.6 115.2h0.75M273.5 111.6h0.75M270.9 114.4h0.75M269.8 100.7h0.75M271.5 98.2h0.75M276.3 108.5h0.75M265.1 110.6h0.75M274.8 102.8h0.75M273.1 102.3h0.75M271.3 106.1h0.75M273.4 99.9h0.75M267.2 110.5h0.75M269.6 110.5h0.75M269.6 99.7h0.75M274.3 106.7h0.75M274.3 103.1h0.75M270.2 114.6h0.75M273.5 105.2h0.75M271.9 109.9h0.75M268.6 109.6h0.75M267.9 97.3h0.75M272.3 106.7h0.75M274.0 108.6h0.75M274.2 109.9h0.75M267.5 115.7h0.75M281.7 98.1h0.75M266.7 112.9h0.75M275.0 110.8h0.75M277.4 95.4h0.75M273.0 108.5h0.75M276.3 98.9h0.75M271.6 104.2h0.75M270.9 105.9h0.75M270.9 96.3h0.75M271.4 107.0h0.75M270.0 86.2h0.75M268.9 103.9h0.75M268.2 117.6h0.75M275.1 103.7h0.75M267.8 111.1h0.75M269.2 116.4h0.75M275.8 103.7h0.75M273.9 100.6h0.75M265.5 114.5h0.75M277.8 101.6h0.75M269.5 96.8h0.75M279.7 95.4h0.75M267.8 107.2h0.75M276.1 104.5h0.75M271.4 106.7h0.75M274.8 104.7h0.75M272.1 105.8h0.75M267.3 116.6h0.75M268.9 100.0h0.75M269.8 107.5h0.75M274.6 96.2h0.75M266.7 109.9h0.75M273.0 99.3h0.75M267.2 109.7h0.75M271.0 97.2h0.75M268.2 117.0h0.75M267.5 114.7h0.75M277.6 99.7h0.75M268.9 111.5h0.75M266.8 112.1h0.75M276.2 105.8h0.75M272.7 105.0h0.75M275.3 99.8h0.75M277.6 103.4h0.75M270.3 97.4h0.75M269.8 108.7h0.75M276.3 94.6h0.75M271.0 102.7h0.75M266.9 108.8h0.75M268.6 113.1h0.75M261.2 115.9h0.75M264.2 98.5h0.75M273.5 103.5h0.75M272.0 100.5h0.75M267.5 104.1h0.75M271.3 101.6h0.75M269.9 102.2h0.75M272.4 99.3h0.75M263.6 94.8h0.75M271.4 107.1h0.75M275.2 100.3h0.75M267.2 99.8h0.75M274.4 101.4h0.75M275.3 104.2h0.75M270.5 96.0h0.75M268.9 112.4h0.75M269.2 111.7h0.75M265.2 115.6h0.75M282.1 107.9h0.75M272.7 98.6h0.75M269.5 103.6h0.75M272.2 94.2h0.75M268.2 112.8h0.75M272.1 110.6h0.75M274.8 98.1h0.75M266.4 111.8h0.75M271.6 106.9h0.75M268.4 114.1h0.75M273.4 112.3h0.75M270.2 111.3h0.75M271.3 101.0h0.75M271.2 96.8h0.75M270.8 107.9h0.75M274.2 99.0h0.75M266.4 104.6h0.75M263.6 106.5h0.75M281.5 102.5h0.75M268.6 103.9h0.75M278.2 96.3h0.75M271.1 106.2h0.75M268.7 103.6h0.75M265.1 104.6h0.75M276.5 112.5h0.75M270.4 111.2h0.75M273.3 106.3h0.75M271.0 114.0h0.75M273.7 104.1h0.75M270.6 112.5h0.75M269.2 103.3h0.75M270.5 104.1h0.75M276.3 106.3h0.75M271.2 103.5h0.75M276.9 106.5h0.75M279.4 108.0h0.75M270.7 103.6h0.75M270.4 108.1h0.75M274.5 107.9h0.75M277.5 94.5h0.75M271.6 98.0h0.75M267.6 104.9h0.75M269.0 102.0h0.75M265.7 116.1h0.75M270.3 112.8h0.75M267.3 94.8h0.75M269.2 112.8h0.75M269.4 109.9h0.75M267.4 116.8h0.75M273.1 111.9h0.75M270.4 114.6h0.75M271.8 103.5h0.75M269.1 108.0h0.75M268.0 101.1h0.75M272.0 110.5h0.75M270.4 112.0h0.75M277.5 96.0h0.75M272.5 100.3h0.75M269.0 108.8h0.75M262.5 114.5h0.75M274.7 108.1h0.75M274.0 116.0h0.75M270.1 113.7h0.75M277.0 106.7h0.75M264.7 108.9h0.75M270.4 97.4h0.75M271.3 111.1h0.75M270.5 105.9h0.75M277.1 100.1h0.75M267.9 108.5h0.75M275.8 107.9h0.75M271.8 103.4h0.75M276.2 109.4h0.75M264.9 111.7h0.75M273.8 101.6h0.75M266.6 107.1h0.75M264.8 113.1h0.75M269.6 97.0h0.75M271.4 113.6h0.75M266.7 106.8h0.75M278.4 104.2h0.75M269.4 108.7h0.75M274.5 99.1h0.75M271.1 97.0h0.75M265.5 100.3h0.75M274.7 106.8h0.75M274.3 112.3h0.75M271.7 107.8h0.75M273.0 108.5h0.75M267.4 106.9h0.75M270.9 107.0h0.75M268.6 107.1h0.75M272.6 107.1h0.75M273.7 110.3h0.75M273.6 111.2h0.75M274.7 113.2h0.75M273.9 101.7h0.75M280.4 108.8h0.75M276.3 108.5h0.75M271.7 99.6h0.75M273.2 103.6h0.75M270.0 94.6h0.75M277.4 96.7h0.75M267.3 111.3h0.75M273.7 100.7h0.75M271.5 108.0h0.75M272.1 109.3h0.75M274.5 102.9h0.75M270.0 101.3h0.75M274.4 108.6h0.75M271.4 108.4h0.75M272.7 104.5h0.75M272.7 98.2h0.75M263.0 105.6h0.75M274.8 102.4h0.75M269.3 98.7h0.75M271.0 105.7h0.75M269.1 98.4h0.75M272.1 108.7h0.75M275.8 107.4h0.75M277.3 110.8h0.75M271.1 100.5h0.75M273.1 111.4h0.75M265.6 102.1h0.75M274.1 101.9h0.75M277.1 105.1h0.75M269.4 99.6h0.75M273.8 95.2h0.75M266.5 101.1h0.75M278.0 113.4h0.75M270.7 104.6h0.75M274.2 112.6h0.75M270.7 113.6h0.75M262.5 110.6h0.75M270.7 99.3h0.75M278.9 98.8h0.75M271.5 99.1h0.75M274.1 106.4h0.75M270.4 104.6h0.75M269.3 103.3h0.75M266.1 116.3h0.75M274.9 96.6h0.75M267.1 111.1h0.75M280.1 101.1h0.75M270.3 105.6h0.75M272.4 105.0h0.75M275.6 110.3h0.75M273.6 114.8h0.75M270.6 103.7h0.75M282.9 89.5h0.75M265.5 95.4h0.75M272.9 99.5h0.75M275.5 92.1h0.75M271.0 104.4h0.75M267.4 115.1h0.75M270.0 109.9h0.75M269.5 108.4h0.75M269.8 107.8h0.75M271.1 102.6h0.75M273.2 104.6h0.75M267.8 102.1h0.75M273.2 113.6h0.75M266.5 106.5h0.75M273.2 111.8h0.75M274.2 98.1h0.75M271.6 111.8h0.75M272.4 104.7h0.75M267.0 109.7h0.75M271.2 106.8h0.75M277.2 110.7h0.75M268.5 109.4h0.75M270.3 107.7h0.75M277.7 108.9h0.75M271.7 102.5h0.75M270.9 109.0h0.75M269.6 114.0h0.75M271.6 99.4h0.75M279.3 85.5h0.75M270.5 106.3h0.75M275.3 111.3h0.75M277.1 113.0h0.75M272.7 106.6h0.75M275.4 104.4h0.75M266.7 106.2h0.75M274.0 108.9h0.75M267.3 115.7h0.75M272.7 97.0h0.75M273.3 111.6h0.75M273.5 103.7h0.75M268.4 114.6h0.75M272.4 106.0h0.75M270.0 101.1h0.75M264.3 108.0h0.75M275.7 109.0h0.75M268.9 116.8h0.75M270.6 100.9h0.75M275.2 112.9h0.75M270.0 100.0h0.75M271.3 92.2h0.75M271.7 115.4h0.75M272.5 101.6h0.75M274.2 102.2h0.75M276.3 102.0h0.75M279.3 100.6h0.75M272.2 100.6h0.75M266.6 110.9h0.75M272.8 100.1h0.75M273.6 103.0h0.75M269.4 107.1h0.75M273.0 110.1h0.75M276.2 106.5h0.75M268.7 103.8h0.75M272.9 98.7h0.75M270.8 104.5h0.75M271.1 107.8h0.75M275.5 114.3h0.75M274.9 110.8h0.75M267.4 114.6h0.75M276.4 96.0h0.75M281.1 98.4h0.75M271.7 101.6h0.75M269.3 113.9h0.75M272.5 103.8h0.75M275.9 98.8h0.75" stroke="#333" stroke-width="0.75" opacity="0.48"/>
<path d="M251.8 109.7h0.75M252.6 114.8h0.75M257.0 107.3h0.75M255.1 103.5h0.75M260.4 111.8h0.75M264.2 110.1h0.75M262.4 107.4h0.75M259.2 112.1h0.75M248.6 114.7h0.75M260.2 111.6h0.75M259.0 108.3h0.75M251.8 114.5h0.75M257.2 108.3h0.75M252.8 115.8h0.75M259.7 115.8h0.75M258.9 106.6h0.75M266.4 112.3h0.75M253.4 110.6h0.75M250.7 115.6h0.75M255.4 113.7h0.75M261.2 110.3h0.75M262.2 110.2h0.75M248.9 110.5h0.75M249.0 115.4h0.75M264.5 108.7h0.75M264.3 112.1h0.75M267.3 107.0h0.75M259.2 107.4h0.75M253.2 117.6h0.75M241.9 109.0h0.75M263.1 114.4h0.75M252.3 103.6h0.75M244.4 114.1h0.75M268.4 114.6h0.75M252.8 117.6h0.75M257.4 114.2h0.75M254.6 102.9h0.75M256.3 112.5h0.75M261.4 108.3h0.75M257.0 106.9h0.75M257.0 112.0h0.75M242.0 114.9h0.75M262.7 106.4h0.75M259.6 111.4h0.75M250.5 115.1h0.75M275.2 113.1h0.75M265.6 115.4h0.75M257.9 115.6h0.75M252.1 112.7h0.75M265.0 116.5h0.75M256.6 110.5h0.75M263.0 110.9h0.75M260.2 114.7h0.75M252.5 115.6h0.75M262.2 110.2h0.75M248.4 109.7h0.75M258.6 115.4h0.75M242.3 115.7h0.75M260.6 106.7h0.75M266.3 112.6h0.75M262.7 107.2h0.75M249.6 116.0h0.75M270.9 112.1h0.75M257.4 109.8h0.75M244.5 116.6h0.75M258.2 116.6h0.75M252.9 116.3h0.75M253.0 114.4h0.75M270.6 107.7h0.75M266.7 110.9h0.75M251.1 112.9h0.75M264.5 108.1h0.75M256.7 109.3h0.75M252.5 111.1h0.75M266.0 108.9h0.75M269.5 109.2h0.75M253.2 116.3h0.75M270.9 107.9h0.75M263.9 106.3h0.75M255.6 110.2h0.75M265.0 105.9h0.75M254.7 109.0h0.75M259.8 106.4h0.75M260.8 105.2h0.75M266.0 105.6h0.75M269.5 107.3h0.75M249.8 114.1h0.75M276.1 112.7h0.75M264.6 106.2h0.75M244.0 114.2h0.75M267.5 111.4h0.75M259.0 117.2h0.75M251.9 116.5h0.75M266.0 108.4h0.75M260.0 111.9h0.75M263.9 107.1h0.75M257.0 112.0h0.75M259.2 111.6h0.75M261.1 110.6h0.75M254.8 116.0h0.75M253.6 110.6h0.75M251.6 107.3h0.75M262.8 111.0h0.75M257.9 113.4h0.75M257.5 114.4h0.75M274.1 111.8h0.75M264.9 104.2h0.75M270.2 111.5h0.75M266.1 106.2h0.75M251.9 109.4h0.75M263.6 106.6h0.75M253.1 115.8h0.75M253.6 112.4h0.75M251.5 105.1h0.75M258.3 111.1h0.75M247.0 116.4h0.75M265.9 114.6h0.75M254.7 107.1h0.75M258.2 112.2h0.75M257.5 109.2h0.75M250.7 109.1h0.75M258.3 109.6h0.75M272.9 109.3h0.75M262.8 109.3h0.75M257.5 107.6h0.75M254.9 105.7h0.75M250.2 113.9h0.75M257.9 109.3h0.75M265.1 108.8h0.75M262.6 109.7h0.75M267.1 114.8h0.75M259.5 115.9h0.75M263.2 117.5h0.75M258.0 105.3h0.75M260.8 112.3h0.75M256.0 110.9h0.75M256.7 106.6h0.75M273.3 107.3h0.75M250.1 105.7h0.75M252.0 111.9h0.75M271.3 113.0h0.75M252.9 106.9h0.75M249.7 111.9h0.75M266.2 109.0h0.75M260.3 102.6h0.75M268.1 110.4h0.75M264.5 115.1h0.75M250.6 112.4h0.75M260.5 108.3h0.75M264.8 110.5h0.75M257.7 115.8h0.75M252.7 112.6h0.75M268.0 102.0h0.75M263.5 110.1h0.75M268.0 111.6h0.75M258.3 106.3h0.75M283.4 106.7h0.75M256.3 108.8h0.75M256.5 112.6h0.75M247.9 116.6h0.75M256.8 114.1h0.75M241.4 110.7h0.75M256.5 110.1h0.75M253.4 113.2h0.75M262.4 107.3h0.75M242.7 115.7h0.75M256.3 116.0h0.75M266.2 110.5h0.75M247.1 110.9h0.75M252.9 117.0h0.75M244.9 116.3h0.75M246.2 110.1h0.75M247.2 109.5h0.75M255.3 113.3h0.75M254.1 114.7h0.75M273.5 111.1h0.75M249.4 111.5h0.75M258.1 110.1h0.75M268.5 115.5h0.75M275.6 112.4h0.75M264.5 107.8h0.75M254.0 115.6h0.75M260.1 106.8h0.75M254.1 99.3h0.75M258.9 106.5h0.75M258.5 106.7h0.75M251.2 110.0h0.75M282.0 105.0h0.75M249.1 110.0h0.75M267.8 114.1h0.75M264.7 109.7h0.75M260.0 108.3h0.75M257.4 108.3h0.75M246.9 108.3h0.75M274.9 111.9h0.75M252.7 111.5h0.75M255.2 116.7h0.75M258.7 108.9h0.75M264.6 112.4h0.75M253.3 108.8h0.75M260.1 104.7h0.75M251.4 116.2h0.75M266.1 115.5h0.75M255.2 109.3h0.75M256.7 109.7h0.75M269.5 109.8h0.75M270.2 107.8h0.75M262.0 117.9h0.75M252.8 109.3h0.75M254.0 105.3h0.75M256.5 109.1h0.75M277.2 108.2h0.75M241.2 116.6h0.75M266.8 110.8h0.75M261.3 114.2h0.75M254.3 112.0h0.75M270.6 111.3h0.75M247.8 115.9h0.75M258.5 116.3h0.75M259.3 112.2h0.75M264.3 108.1h0.75M251.7 115.8h0.75M264.6 114.4h0.75M270.2 105.2h0.75M266.8 102.5h0.75M259.3 112.8h0.75M267.4 115.3h0.75M251.2 111.0h0.75M257.6 108.8h0.75M252.1 109.3h0.75M268.4 116.3h0.75M265.1 117.9h0.75M259.6 107.0h0.75M253.5 112.7h0.75M267.4 115.8h0.75M251.5 115.9h0.75M254.5 114.2h0.75M266.5 117.0h0.75M254.5 112.8h0.75M262.4 109.5h0.75M259.6 113.9h0.75M245.3 109.9h0.75M278.0 111.9h0.75M254.3 104.4h0.75M251.0 114.2h0.75M264.5 112.9h0.75M263.8 108.7h0.75M272.1 105.9h0.75M263.1 110.1h0.75M244.8 116.2h0.75M256.6 114.6h0.75M269.4 111.4h0.75M253.4 111.0h0.75M258.3 117.4h0.75M266.0 117.4h0.75M265.2 107.9h0.75M266.6 114.9h0.75M257.9 113.5h0.75M256.2 106.6h0.75M258.1 114.7h0.75M255.9 102.6h0.75M252.3 116.4h0.75M260.7 115.9h0.75M252.7 110.3h0.75M250.6 108.9h0.75M263.1 111.8h0.75M254.9 113.0h0.75M248.1 110.7h0.75M246.5 106.3h0.75M247.6 107.9h0.75M271.9 116.1h0.75M269.3 108.4h0.75M264.0 106.5h0.75M254.4 112.8h0.75M245.7 113.3h0.75M263.9 102.7h0.75M257.9 112.2h0.75M249.5 114.5h0.75M259.9 108.4h0.75M272.4 111.6h0.75M254.8 110.9h0.75M244.5 111.6h0.75M263.5 112.0h0.75M248.4 108.8h0.75M243.6 107.0h0.75M259.8 112.7h0.75M251.3 111.2h0.75M252.2 114.5h0.75M264.1 108.8h0.75M255.1 106.8h0.75M258.7 115.0h0.75M263.7 117.2h0.75M256.2 108.0h0.75M267.5 114.6h0.75M253.4 116.4h0.75M258.8 111.3h0.75M274.1 112.6h0.75M261.5 110.0h0.75M260.5 115.7h0.75M262.6 108.1h0.75M262.6 110.7h0.75M261.4 110.5h0.75M240.8 106.2h0.75M255.7 102.7h0.75M264.6 109.2h0.75M261.6 102.1h0.75M260.9 115.4h0.75M260.4 106.0h0.75M266.9 108.7h0.75M254.1 112.7h0.75M262.6 106.1h0.75M258.9 111.7h0.75M270.8 115.9h0.75M280.0 107.2h0.75M251.4 113.5h0.75M272.2 106.4h0.75M256.0 108.7h0.75M263.2 112.8h0.75M258.5 114.2h0.75M252.3 110.4h0.75M258.5 111.8h0.75M269.7 111.0h0.75M269.7 111.7h0.75M268.4 111.5h0.75M251.2 108.6h0.75M274.4 109.1h0.75M279.6 105.4h0.75M251.8 115.9h0.75M246.2 116.2h0.75M262.0 113.9h0.75M248.8 113.8h0.75M266.7 110.7h0.75M267.4 111.0h0.75M261.7 110.0h0.75M247.6 111.7h0.75M263.0 108.1h0.75M242.6 106.3h0.75M269.8 109.8h0.75M252.5 117.1h0.75M257.4 105.4h0.75M255.2 108.1h0.75M257.3 107.8h0.75M259.4 113.4h0.75M254.1 111.0h0.75M257.6 115.0h0.75M252.9 115.1h0.75M269.3 109.9h0.75M250.8 110.8h0.75M244.1 110.4h0.75M248.9 111.5h0.75M255.8 113.9h0.75M259.8 113.2h0.75M258.5 112.7h0.75M249.4 114.9h0.75M269.7 115.3h0.75M247.7 114.1h0.75M245.3 115.7h0.75M257.2 109.7h0.75M252.6 111.0h0.75M258.8 107.5h0.75M259.4 112.5h0.75M263.3 111.0h0.75M267.3 112.2h0.75M247.3 114.9h0.75M263.7 100.1h0.75M257.5 113.2h0.75M259.2 111.9h0.75M257.6 117.3h0.75M262.1 110.1h0.75M251.7 109.9h0.75M261.6 111.9h0.75M261.4 116.9h0.75M268.4 112.6h0.75M259.2 111.2h0.75M257.0 115.8h0.75M248.3 108.0h0.75M255.1 107.8h0.75M252.7 116.9h0.75M247.9 111.3h0.75M254.1 107.7h0.75M246.5 112.7h0.75M255.6 116.3h0.75M274.4 109.1h0.75M252.2 110.8h0.75M262.8 115.1h0.75M250.9 114.1h0.75M258.6 116.3h0.75M255.5 110.9h0.75M251.8 106.5h0.75M261.2 114.3h0.75M268.3 111.9h0.75M255.0 108.0h0.75M249.2 109.2h0.75M261.7 111.7h0.75M256.5 107.3h0.75M258.7 113.7h0.75M250.2 106.5h0.75M256.2 112.8h0.75M260.1 107.3h0.75M265.4 108.3h0.75M264.7 111.5h0.75M269.2 106.6h0.75M265.0 112.8h0.75M251.3 115.0h0.75M277.9 111.6h0.75M252.5 111.4h0.75M269.8 111.8h0.75M271.3 107.9h0.75M269.9 104.1h0.75M257.5 110.4h0.75M254.8 116.9h0.75M253.9 113.3h0.75M274.5 113.8h0.75M255.4 108.7h0.75M242.1 114.3h0.75M266.4 115.6h0.75M265.4 101.4h0.75M251.5 115.4h0.75M255.6 115.2h0.75M280.5 106.7h0.75M277.6 109.8h0.75M246.5 112.8h0.75M266.6 108.5h0.75M272.3 106.9h0.75M257.3 115.5h0.75M257.1 109.3h0.75M258.8 114.2h0.75M273.6 116.1h0.75M274.7 110.2h0.75M244.9 112.4h0.75M255.5 107.6h0.75M254.6 111.5h0.75M259.4 115.3h0.75M251.2 116.8h0.75M259.3 114.5h0.75M269.5 105.6h0.75M272.4 107.5h0.75M262.3 115.8h0.75M266.8 104.4h0.75M260.3 116.1h0.75M257.9 111.3h0.75M254.4 107.9h0.75M249.6 110.0h0.75M257.0 113.1h0.75M258.3 104.4h0.75M245.6 115.3h0.75M265.1 105.4h0.75M266.9 100.8h0.75M278.6 112.5h0.75M244.9 114.7h0.75M258.7 109.6h0.75M255.9 110.8h0.75M258.1 107.8h0.75M254.2 114.2h0.75M263.5 105.6h0.75M247.5 108.0h0.75M240.6 104.8h0.75M255.8 107.4h0.75M249.7 109.3h0.75M257.4 115.1h0.75" stroke="#333" stroke-width="0.75" opacity="0.42"/>
<path d="M258.7 76.6h0.75M263.8 81.1h0.75M250.1 82.1h0.75M253.4 77.8h0.75M264.2 80.3h0.75M252.3 83.9h0.75M264.8 83.8h0.75M250.6 83.6h0.75M261.7 83.4h0.75M259.2 80.7h0.75M255.2 76.8h0.75M251.6 78.6h0.75M255.6 87.0h0.75M243.2 78.0h0.75M250.5 81.9h0.75M262.0 79.7h0.75M251.3 86.1h0.75M257.6 83.9h0.75M260.2 79.8h0.75M256.8 80.1h0.75M251.6 82.6h0.75M258.0 78.1h0.75M251.4 84.2h0.75M256.5 84.3h0.75M253.9 79.6h0.75M259.9 84.1h0.75M251.4 84.3h0.75M264.3 81.3h0.75M250.2 83.0h0.75M256.1 84.0h0.75M247.9 83.0h0.75M260.5 84.4h0.75M259.1 86.0h0.75M251.0 86.1h0.75M256.7 79.0h0.75M254.0 83.1h0.75M257.4 86.5h0.75M256.7 80.6h0.75M267.7 81.1h0.75M251.1 85.2h0.75M253.3 79.7h0.75M249.7 86.0h0.75M249.7 82.5h0.75M253.1 81.6h0.75M251.1 82.7h0.75M258.9 85.6h0.75M253.6 78.5h0.75M247.4 82.2h0.75M241.9 86.5h0.75M255.8 82.6h0.75M247.9 80.1h0.75M251.5 84.4h0.75M253.3 84.2h0.75M258.4 76.0h0.75M254.3 86.3h0.75M252.8 82.6h0.75M254.9 78.3h0.75M267.6 81.8h0.75M259.1 80.8h0.75M263.3 85.9h0.75M262.1 85.3h0.75M259.5 86.7h0.75M257.8 82.7h0.75M260.1 79.4h0.75M241.6 84.8h0.75M256.4 80.0h0.75M254.1 79.2h0.75M251.0 82.8h0.75M256.3 84.9h0.75M255.1 84.2h0.75M259.4 80.0h0.75M246.3 80.0h0.75M254.2 80.5h0.75M267.8 80.0h0.75M258.2 79.8h0.75M259.4 78.2h0.75M260.9 82.8h0.75M253.4 78.4h0.75M264.8 80.4h0.75M263.6 74.5h0.75M249.0 88.0h0.75M265.4 82.3h0.75M261.1 84.2h0.75M253.6 82.6h0.75M249.3 77.9h0.75M256.3 84.6h0.75M256.5 78.3h0.75M260.3 82.5h0.75M259.7 81.3h0.75M254.1 85.6h0.75M263.2 78.4h0.75M249.5 85.3h0.75M257.6 82.4h0.75M250.2 85.5h0.75M256.6 82.9h0.75M257.7 80.6h0.75M257.8 82.7h0.75M259.6 83.5h0.75M248.5 80.0h0.75M254.1 86.0h0.75M252.0 85.9h0.75M261.6 85.0h0.75M268.0 82.2h0.75M257.4 86.1h0.75M257.8 85.4h0.75M254.9 86.8h0.75M257.5 76.1h0.75M261.6 81.6h0.75M250.7 81.3h0.75M254.0 85.9h0.75M257.4 82.0h0.75M255.5 79.4h0.75M252.1 80.8h0.75M254.3 78.5h0.75M253.4 85.4h0.75M258.1 82.2h0.75M257.5 81.5h0.75M249.1 85.1h0.75M268.0 83.9h0.75M259.4 90.1h0.75M248.9 83.9h0.75M253.7 81.4h0.75M246.5 82.0h0.75M257.8 77.1h0.75M254.4 80.7h0.75M250.1 84.3h0.75M264.7 83.6h0.75M261.3 84.7h0.75M255.2 84.1h0.75M262.9 80.9h0.75" stroke="#666" stroke-width="0.75" opacity="0.4"/>
<path d="M280.7 104.8h0.75M277.3 113.0h0.75M267.3 97.7h0.75M270.4 104.5h0.75M273.9 114.5h0.75M270.7 94.3h0.75M284.3 108.4h0.75M274.6 97.6h0.75M280.7 90.6h0.75M280.4 93.0h0.75M282.1 88.3h0.75M284.3 112.7h0.75M266.5 91.0h0.75M284.3 111.4h0.75M271.8 110.8h0.75M277.6 93.7h0.75M279.8 98.9h0.75M268.8 112.4h0.75M280.3 93.6h0.75M274.5 107.2h0.75M273.4 94.0h0.75M276.5 115.5h0.75M267.9 93.8h0.75M275.7 116.5h0.75M285.9 86.3h0.75M278.8 90.3h0.75M270.1 90.2h0.75M276.0 116.8h0.75M285.3 97.4h0.75M284.0 107.4h0.75M267.5 113.9h0.75M271.5 116.3h0.75M268.6 113.9h0.75M276.3 102.0h0.75M269.7 101.1h0.75M281.2 103.2h0.75M285.6 102.6h0.75M284.1 90.1h0.75M280.7 104.6h0.75M283.7 96.4h0.75" stroke="#888" stroke-width="0.75" opacity="0.35"/>
</g>
<rect x="241.00" y="73.60" width="27.60" height="17.70" fill="none" stroke="#888" stroke-width="0.6"/>
<rect x="241.00" y="98.20" width="24.50" height="20.00" fill="none" stroke="#888" stroke-width="0.6"/>
<rect x="265.50" y="95.50" width="15.30" height="22.70" fill="none" stroke="#888" stroke-width="0.6"/>
<g filter="url(#b03)">
<path d="M207.4 171.1h0.75M213.0 169.3h0.75M215.7 155.4h0.75M212.5 164.5h0.75M213.4 158.2h0.75M213.3 169.1h0.75M217.1 168.4h0.75M215.5 148.6h0.75M212.2 161.9h0.75M216.0 161.6h0.75M214.3 165.7h0.75M212.4 171.9h0.75M219.0 163.5h0.75M211.3 166.9h0.75M216.2 165.2h0.75M210.9 171.0h0.75M215.4 165.2h0.75M211.8 165.1h0.75M207.0 169.1h0.75M211.7 163.7h0.75M212.2 163.1h0.75M213.4 164.3h0.75M211.1 165.0h0.75M212.8 166.9h0.75M214.5 161.0h0.75M210.4 157.6h0.75M209.1 169.6h0.75M210.1 175.1h0.75M212.6 162.4h0.75M212.6 161.6h0.75M211.1 166.1h0.75M208.5 168.7h0.75M212.8 159.5h0.75M216.4 163.2h0.75M216.6 157.6h0.75M209.1 161.1h0.75M208.1 158.3h0.75M218.1 157.3h0.75M213.7 160.7h0.75M212.6 172.8h0.75M207.5 163.5h0.75M213.5 158.9h0.75M215.3 169.0h0.75M216.0 165.6h0.75M212.6 169.8h0.75M210.5 159.9h0.75M212.3 163.4h0.75M217.0 155.5h0.75M216.8 156.8h0.75M209.0 158.5h0.75M213.0 156.5h0.75M213.8 163.7h0.75M211.8 154.9h0.75M211.4 167.8h0.75M207.4 172.5h0.75M213.2 161.1h0.75M213.8 166.9h0.75M213.0 160.0h0.75M215.6 158.3h0.75M214.3 168.2h0.75M217.3 168.9h0.75M216.4 162.0h0.75M212.5 165.6h0.75M215.2 157.9h0.75M218.0 151.5h0.75M216.3 154.6h0.75M209.6 164.3h0.75M212.2 157.7h0.75M215.1 161.8h0.75M217.4 155.0h0.75M207.3 172.6h0.75M212.4 169.8h0.75M205.6 163.8h0.75M213.4 174.1h0.75M209.1 157.3h0.75M211.6 172.8h0.75M218.2 152.5h0.75M211.1 155.9h0.75M210.4 161.2h0.75M214.5 168.9h0.75M220.8 155.7h0.75M215.7 163.0h0.75M213.5 173.9h0.75M215.4 170.4h0.75M214.1 167.8h0.75M214.7 162.1h0.75M210.9 163.8h0.75M213.1 162.0h0.75M212.0 161.2h0.75M215.9 160.4h0.75M212.7 163.2h0.75M217.3 157.6h0.75M217.6 155.6h0.75M218.0 163.1h0.75M211.5 167.8h0.75M216.8 155.9h0.75M212.4 166.3h0.75M212.4 163.0h0.75M213.2 165.6h0.75M215.6 169.7h0.75M212.1 174.3h0.75M212.7 156.7h0.75M211.7 163.4h0.75M216.5 150.4h0.75M211.1 165.0h0.75M215.2 164.3h0.75M215.9 160.9h0.75M212.4 171.0h0.75M218.6 161.4h0.75M213.6 159.1h0.75M219.8 160.4h0.75M215.1 153.8h0.75M215.0 175.3h0.75M212.6 163.4h0.75M218.0 158.9h0.75M215.8 172.0h0.75M209.4 162.8h0.75M215.3 162.8h0.75M213.2 163.0h0.75M213.5 165.6h0.75M211.6 163.8h0.75M213.9 157.6h0.75M214.5 151.2h0.75M215.2 161.6h0.75M209.4 174.3h0.75M210.8 172.4h0.75M212.9 172.7h0.75M212.4 170.1h0.75M212.1 154.9h0.75M214.4 165.5h0.75M214.4 171.8h0.75M210.8 158.4h0.75M213.9 159.6h0.75M212.8 164.3h0.75M210.5 172.0h0.75M212.7 173.8h0.75M213.9 168.9h0.75M212.2 161.3h0.75M211.4 160.8h0.75M214.5 163.5h0.75M209.7 158.7h0.75M210.4 156.6h0.75M210.3 158.3h0.75M215.4 156.0h0.75M211.2 164.9h0.75M213.2 166.2h0.75M215.5 165.4h0.75M212.0 171.6h0.75M214.3 159.3h0.75M217.9 153.7h0.75M214.6 169.4h0.75M213.5 165.5h0.75M213.5 167.2h0.75M213.8 163.4h0.75M215.4 152.1h0.75M213.9 161.7h0.75M219.3 160.3h0.75M211.0 169.2h0.75M211.9 158.7h0.75M212.2 167.4h0.75M216.9 166.4h0.75M213.8 162.5h0.75M213.8 169.9h0.75M212.7 170.5h0.75M210.6 166.1h0.75M215.6 165.7h0.75M213.8 160.7h0.75M207.4 166.5h0.75M210.4 164.1h0.75M218.1 155.7h0.75M215.8 161.6h0.75M209.6 167.5h0.75M215.5 155.7h0.75M209.4 165.1h0.75M215.4 158.9h0.75M214.5 165.3h0.75M213.2 166.4h0.75M217.1 159.6h0.75M214.1 157.5h0.75M210.8 165.4h0.75M215.7 158.3h0.75M208.7 172.6h0.75M220.6 144.0h0.75M209.8 167.5h0.75M214.6 157.7h0.75M214.2 168.9h0.75M212.2 168.6h0.75M213.5 158.7h0.75M211.2 162.4h0.75M217.3 166.6h0.75M213.9 155.1h0.75M211.6 163.2h0.75M207.0 169.0h0.75M214.0 156.2h0.75M211.8 162.7h0.75M218.9 162.6h0.75M215.5 162.4h0.75M209.1 172.3h0.75M211.0 155.6h0.75M215.4 160.2h0.75M213.1 166.7h0.75M212.4 166.8h0.75M217.2 158.9h0.75M212.0 165.0h0.75M215.1 160.2h0.75M213.4 160.2h0.75M212.9 167.1h0.75M210.5 165.2h0.75M208.5 164.2h0.75M213.4 166.6h0.75M209.9 166.2h0.75M210.2 168.1h0.75M213.9 165.7h0.75M212.5 157.0h0.75M211.4 158.4h0.75M211.0 165.5h0.75M216.5 157.7h0.75M210.7 167.1h0.75M208.3 173.4h0.75M216.2 166.5h0.75M212.8 168.1h0.75M212.0 170.0h0.75M211.1 161.4h0.75M214.3 160.6h0.75M215.2 157.7h0.75M213.9 158.1h0.75M212.8 175.6h0.75M209.8 160.3h0.75M208.1 167.0h0.75M218.2 157.4h0.75M216.0 160.6h0.75M211.1 176.3h0.75M216.5 151.5h0.75M210.1 168.7h0.75M215.1 161.1h0.75M214.1 166.0h0.75M212.0 170.2h0.75M210.5 170.2h0.75M216.0 162.7h0.75M212.0 164.8h0.75M206.2 171.2h0.75M208.7 157.1h0.75M215.5 157.2h0.75M214.2 163.3h0.75M207.6 163.9h0.75M212.3 167.2h0.75M213.3 157.2h0.75M211.5 165.9h0.75M209.2 165.0h0.75M211.4 154.2h0.75M218.5 164.1h0.75M211.7 170.2h0.75M209.9 174.8h0.75M212.0 165.7h0.75M211.3 166.0h0.75M214.1 163.3h0.75M210.5 170.2h0.75M214.8 162.5h0.75M216.4 157.4h0.75M217.1 159.8h0.75M217.8 157.7h0.75M212.3 165.8h0.75M216.5 168.7h0.75M211.7 161.4h0.75M215.5 168.5h0.75M215.3 160.4h0.75M217.1 160.5h0.75M213.6 166.8h0.75M211.3 153.5h0.75M213.8 167.2h0.75M214.5 165.7h0.75M213.6 169.1h0.75M213.5 171.6h0.75M213.3 168.1h0.75M211.4 167.0h0.75M214.4 163.6h0.75M217.9 160.2h0.75M216.6 162.9h0.75M216.5 156.4h0.75M212.0 170.0h0.75M210.6 168.2h0.75M214.9 163.5h0.75M214.5 165.7h0.75M212.4 166.8h0.75M211.5 163.0h0.75M208.2 167.6h0.75M207.8 168.6h0.75M213.8 157.7h0.75M213.3 165.3h0.75M212.0 160.1h0.75M212.8 166.5h0.75M216.0 171.8h0.75M207.0 171.0h0.75M214.5 159.5h0.75M214.1 174.2h0.75M213.5 170.9h0.75M216.4 158.9h0.75M205.9 176.2h0.75M217.9 150.7h0.75M212.5 160.8h0.75M213.7 163.8h0.75M216.6 157.9h0.75M219.1 149.9h0.75M212.8 167.6h0.75M215.9 159.8h0.75M207.2 170.1h0.75M215.4 151.3h0.75M211.6 168.2h0.75M205.7 169.3h0.75M208.2 161.1h0.75M214.4 168.9h0.75M216.7 157.5h0.75M214.7 153.3h0.75M208.5 170.8h0.75M211.9 159.7h0.75M207.3 167.6h0.75M220.0 147.5h0.75M209.9 172.7h0.75M207.2 165.7h0.75M213.3 169.8h0.75M212.9 173.8h0.75M213.0 163.5h0.75M214.5 164.7h0.75M208.5 162.9h0.75M212.4 166.4h0.75M209.3 163.4h0.75M210.8 167.7h0.75M211.8 168.3h0.75M214.3 158.1h0.75M212.2 158.2h0.75M213.4 168.0h0.75M210.0 157.2h0.75M214.7 161.1h0.75M213.0 166.5h0.75M214.3 167.9h0.75M211.7 153.5h0.75M211.6 163.7h0.75M211.8 167.2h0.75M212.3 171.5h0.75M211.1 165.6h0.75M212.0 176.2h0.75M210.1 161.2h0.75M211.9 169.1h0.75M213.1 163.0h0.75M208.6 156.8h0.75M212.4 163.3h0.75M218.6 161.4h0.75M214.4 168.0h0.75M210.3 159.8h0.75M212.0 172.8h0.75M216.2 158.3h0.75M209.2 172.2h0.75M216.5 155.3h0.75M218.1 155.7h0.75M215.4 160.9h0.75M212.1 161.6h0.75M215.3 165.5h0.75M215.6 160.4h0.75M218.5 158.5h0.75M209.5 175.0h0.75M213.5 164.0h0.75M215.8 163.6h0.75M213.4 174.3h0.75M207.2 172.4h0.75M210.0 167.0h0.75M212.6 165.9h0.75M205.6 174.1h0.75M220.4 155.6h0.75M215.9 165.0h0.75M214.0 160.5h0.75M215.1 163.8h0.75M217.6 164.6h0.75M210.9 150.3h0.75M217.8 162.6h0.75M213.6 160.3h0.75M221.0 164.5h0.75M213.4 161.8h0.75M214.9 169.7h0.75M214.7 167.7h0.75M213.9 165.2h0.75" stroke="#222" stroke-width="0.75" opacity="0.5"/>
<path d="M211.3 164.8h0.75M213.5 162.2h0.75M213.0 163.7h0.75M212.4 162.9h0.75M211.2 170.9h0.75M211.9 160.6h0.75M212.5 162.2h0.75M211.6 157.5h0.75M216.2 162.7h0.75M212.8 164.6h0.75M211.5 159.8h0.75M214.0 163.6h0.75M212.2 163.6h0.75M208.2 167.0h0.75M215.2 161.3h0.75M213.7 163.8h0.75M209.9 162.2h0.75M211.3 165.2h0.75M212.3 158.3h0.75M214.9 160.6h0.75M215.1 166.5h0.75M210.6 161.6h0.75M215.2 164.7h0.75M214.1 162.9h0.75M214.6 163.2h0.75M211.3 166.6h0.75M215.1 159.8h0.75M211.9 162.6h0.75M212.4 164.9h0.75M214.7 161.3h0.75M212.9 158.1h0.75M212.7 160.4h0.75M212.5 164.3h0.75M213.7 171.9h0.75M211.9 162.4h0.75M211.5 163.6h0.75M212.9 165.7h0.75M210.1 168.1h0.75M214.5 160.0h0.75M212.2 164.1h0.75M214.3 161.2h0.75M213.1 162.8h0.75M211.6 165.0h0.75M214.4 161.7h0.75M211.5 164.3h0.75M213.2 163.5h0.75M212.7 165.5h0.75M215.2 163.1h0.75M213.8 165.5h0.75M213.3 162.1h0.75M211.0 164.8h0.75M215.4 158.0h0.75M214.7 157.8h0.75M213.9 167.0h0.75M213.5 159.2h0.75M213.9 161.7h0.75M214.7 159.8h0.75M210.5 164.0h0.75M214.4 164.4h0.75M213.9 162.1h0.75M214.6 160.9h0.75M212.6 163.8h0.75M215.2 159.4h0.75M214.2 160.0h0.75M212.2 164.2h0.75M211.1 162.3h0.75M211.4 162.8h0.75M211.9 170.3h0.75M214.4 161.7h0.75M211.1 158.2h0.75M214.1 160.1h0.75M215.2 159.8h0.75M211.2 162.9h0.75M210.8 161.1h0.75M214.6 159.9h0.75M214.6 159.9h0.75M213.0 161.4h0.75M212.5 161.6h0.75M215.9 160.0h0.75M210.1 170.2h0.75M215.5 163.6h0.75M213.2 162.3h0.75M212.6 163.6h0.75M214.2 161.8h0.75M212.0 161.2h0.75M216.2 164.4h0.75M211.3 162.8h0.75M213.3 164.2h0.75M213.2 163.3h0.75M214.0 165.0h0.75M211.2 167.6h0.75M214.1 163.3h0.75M210.8 164.3h0.75M212.9 164.7h0.75M214.5 163.3h0.75M211.2 168.0h0.75M213.5 164.9h0.75M213.4 160.6h0.75M217.8 160.1h0.75M214.7 160.1h0.75M213.0 165.9h0.75M214.1 166.5h0.75M215.4 157.7h0.75M210.8 168.1h0.75M214.4 160.9h0.75M212.9 161.5h0.75M216.4 159.2h0.75M211.0 167.2h0.75M213.2 163.6h0.75M212.7 163.0h0.75M210.2 167.0h0.75M212.2 162.6h0.75M213.9 165.5h0.75M209.7 165.6h0.75M214.3 164.4h0.75M211.8 164.8h0.75M214.1 164.4h0.75M212.3 163.0h0.75M212.5 166.4h0.75M215.2 159.6h0.75M213.1 163.3h0.75M211.8 163.7h0.75M214.8 163.2h0.75M212.2 161.9h0.75M213.2 158.8h0.75M213.9 162.4h0.75M211.1 164.1h0.75M212.3 162.9h0.75M211.9 167.6h0.75M211.7 166.1h0.75" stroke="#111" stroke-width="0.75" opacity="0.5"/>
<path d="M196.5 176.1h0.75M194.4 167.1h0.75M195.4 155.3h0.75M214.0 165.7h0.75M192.3 160.0h0.75M193.8 177.1h0.75M188.8 169.8h0.75M203.1 172.9h0.75M191.6 156.2h0.75M198.1 170.6h0.75M192.3 164.4h0.75M208.8 157.2h0.75M190.8 163.3h0.75M182.4 162.8h0.75M188.5 174.8h0.75M180.9 158.5h0.75M196.9 157.5h0.75M185.2 161.0h0.75M193.6 169.9h0.75M189.7 165.4h0.75M200.6 166.1h0.75M200.7 163.4h0.75M198.8 175.0h0.75M192.3 165.0h0.75M193.6 169.9h0.75M185.2 167.3h0.75M190.2 175.9h0.75M181.1 171.1h0.75M192.3 162.5h0.75M195.9 165.6h0.75M195.2 168.6h0.75M204.5 164.6h0.75M208.2 150.4h0.75M209.4 174.6h0.75M207.3 168.3h0.75M197.1 160.8h0.75M205.5 159.9h0.75M188.5 167.1h0.75M196.7 169.2h0.75M185.6 165.0h0.75M198.8 174.4h0.75M201.0 169.6h0.75M192.8 163.7h0.75M190.8 166.5h0.75M199.1 164.0h0.75M211.3 160.9h0.75M201.4 165.8h0.75M193.7 164.7h0.75M207.1 165.3h0.75M199.2 167.8h0.75M200.8 170.7h0.75M208.0 162.6h0.75M205.0 167.5h0.75M192.6 168.7h0.75M205.2 162.4h0.75M206.4 166.7h0.75M192.0 164.7h0.75M184.4 163.7h0.75M187.7 168.5h0.75M200.6 167.3h0.75M196.4 169.6h0.75M207.7 170.6h0.75M207.4 166.7h0.75M197.7 163.1h0.75M199.6 161.8h0.75M198.6 163.2h0.75M192.0 174.6h0.75M196.0 172.0h0.75M192.9 155.7h0.75M206.6 166.0h0.75M189.7 172.9h0.75M185.8 162.5h0.75M204.0 162.8h0.75M203.9 165.2h0.75M193.2 167.5h0.75M190.9 173.7h0.75M203.6 167.5h0.75M199.7 170.4h0.75M208.3 157.4h0.75M203.0 172.7h0.75M192.4 167.2h0.75M192.1 174.7h0.75M185.7 170.8h0.75M205.1 170.6h0.75M191.0 164.3h0.75M203.6 161.3h0.75M181.8 165.6h0.75M183.0 169.9h0.75M187.9 172.9h0.75M193.9 158.4h0.75M188.7 163.1h0.75M188.1 174.7h0.75M186.9 169.3h0.75M190.2 170.7h0.75M183.5 157.5h0.75M198.9 175.9h0.75M183.8 165.2h0.75M190.8 161.4h0.75M202.6 167.4h0.75M183.8 165.8h0.75M205.5 162.8h0.75M190.8 162.0h0.75M196.2 163.7h0.75M202.0 162.0h0.75M183.2 169.9h0.75M197.1 168.6h0.75M190.3 164.4h0.75M188.4 166.0h0.75M191.2 170.5h0.75M194.9 170.5h0.75M207.9 165.4h0.75M192.6 169.4h0.75M211.6 164.9h0.75M208.3 174.4h0.75M187.0 169.5h0.75M205.5 167.4h0.75M187.7 177.2h0.75M190.8 152.3h0.75M188.3 164.2h0.75M194.5 171.7h0.75M200.4 170.3h0.75M204.4 167.3h0.75M190.3 166.8h0.75M193.1 162.8h0.75M194.8 163.0h0.75M200.0 163.1h0.75M198.8 169.1h0.75M196.2 170.3h0.75M189.4 171.6h0.75M195.1 164.5h0.75M208.8 173.9h0.75M192.7 170.6h0.75M200.3 176.8h0.75M203.0 166.1h0.75M192.9 160.0h0.75M197.0 172.4h0.75M191.8 171.2h0.75M195.9 164.3h0.75M185.2 173.9h0.75M215.1 170.5h0.75M186.3 160.8h0.75M196.9 171.1h0.75M207.0 152.3h0.75M209.7 168.1h0.75M196.0 169.5h0.75M192.1 165.3h0.75M203.3 156.5h0.75M194.0 170.5h0.75M181.7 166.1h0.75M207.1 169.4h0.75M200.6 171.4h0.75M196.7 169.3h0.75M188.4 165.8h0.75M209.7 159.5h0.75M193.6 159.3h0.75M190.6 162.3h0.75M185.1 168.6h0.75M187.4 170.4h0.75M209.4 151.3h0.75M193.6 154.2h0.75M193.9 169.4h0.75M196.6 174.5h0.75M196.2 156.5h0.75M207.0 161.3h0.75M194.2 169.1h0.75M187.9 167.6h0.75M206.9 156.7h0.75M181.6 164.3h0.75M193.6 159.2h0.75M198.1 158.9h0.75M199.5 166.7h0.75M196.2 158.8h0.75M193.2 170.1h0.75M180.9 160.6h0.75M200.2 166.6h0.75M186.3 164.6h0.75M192.9 169.8h0.75M205.5 153.5h0.75M185.6 167.1h0.75M202.8 169.6h0.75M205.8 170.7h0.75M215.5 172.0h0.75M198.7 176.5h0.75M191.4 163.7h0.75M186.8 168.6h0.75M198.5 172.9h0.75M206.6 171.0h0.75M204.8 165.5h0.75M187.2 171.6h0.75M203.1 175.4h0.75M193.6 164.2h0.75M192.1 169.3h0.75M194.6 165.9h0.75M197.0 165.3h0.75M197.7 163.4h0.75M182.6 165.1h0.75M210.1 162.0h0.75M202.3 175.4h0.75M190.6 168.7h0.75M207.3 168.2h0.75M189.0 167.8h0.75M197.3 164.5h0.75M192.5 162.0h0.75M199.6 168.3h0.75M197.8 163.9h0.75M198.9 165.2h0.75M197.4 166.1h0.75M189.7 160.2h0.75M180.0 158.6h0.75M181.8 162.0h0.75M193.3 159.8h0.75M204.9 159.8h0.75M194.1 163.1h0.75M201.1 158.0h0.75M197.5 168.4h0.75M199.5 169.7h0.75M196.2 155.9h0.75M192.4 161.1h0.75M199.2 165.6h0.75M196.2 173.9h0.75M201.7 157.8h0.75M190.3 174.7h0.75M191.0 174.5h0.75M190.5 166.3h0.75M203.2 157.2h0.75M195.6 164.2h0.75M198.9 158.6h0.75M202.7 164.2h0.75M196.3 174.3h0.75M192.5 173.0h0.75M196.4 161.4h0.75M192.5 158.5h0.75M204.5 168.1h0.75M202.8 160.0h0.75M201.8 159.5h0.75M197.2 166.9h0.75M190.3 169.0h0.75M195.3 161.6h0.75M189.0 158.8h0.75M206.0 168.0h0.75M192.1 171.4h0.75M188.1 159.7h0.75M197.9 177.0h0.75M197.4 168.0h0.75M209.0 157.3h0.75M219.5 160.1h0.75M194.4 158.6h0.75M185.3 165.5h0.75M214.6 161.1h0.75M190.1 168.7h0.75M186.8 165.4h0.75M201.6 153.3h0.75M192.6 165.2h0.75M190.9 166.3h0.75M180.6 164.2h0.75M190.8 160.5h0.75M201.4 161.6h0.75M206.4 170.1h0.75M188.5 170.8h0.75M190.4 170.6h0.75" stroke="#666" stroke-width="0.75" opacity="0.36"/>
<path d="M196.6 144.4h0.75M186.7 140.6h0.75M192.0 137.5h0.75M194.1 143.0h0.75M185.1 139.4h0.75M186.5 137.3h0.75M186.7 145.0h0.75M188.7 139.9h0.75M196.9 144.0h0.75M199.0 135.0h0.75M195.8 135.9h0.75M188.8 139.8h0.75M189.1 146.7h0.75M191.2 144.4h0.75M191.1 140.8h0.75M194.6 142.3h0.75M194.5 136.0h0.75M194.5 141.9h0.75M195.0 140.8h0.75M194.0 137.2h0.75M197.7 137.5h0.75M199.0 143.9h0.75M191.7 140.1h0.75M195.9 140.1h0.75M186.1 141.8h0.75M185.9 139.7h0.75M201.0 143.4h0.75M189.7 140.8h0.75M188.8 141.0h0.75M184.8 143.0h0.75M192.1 139.2h0.75M188.9 148.7h0.75M189.8 139.6h0.75M189.1 139.6h0.75M198.5 143.0h0.75M194.1 142.1h0.75M186.3 134.0h0.75M199.6 143.1h0.75M193.1 141.8h0.75M193.0 141.1h0.75M190.7 134.5h0.75M194.8 141.1h0.75M196.9 141.9h0.75M190.6 142.8h0.75M192.9 139.7h0.75M190.1 139.8h0.75M190.5 139.7h0.75M196.9 149.5h0.75M191.4 144.3h0.75M182.1 131.6h0.75M189.6 140.5h0.75M188.3 137.0h0.75M187.7 139.5h0.75M192.8 140.0h0.75M186.0 139.9h0.75M199.6 138.4h0.75M192.3 143.9h0.75M188.0 139.3h0.75M206.5 144.6h0.75M189.4 141.5h0.75M192.5 141.4h0.75M194.3 140.1h0.75M180.9 138.2h0.75M192.8 137.0h0.75M190.4 145.4h0.75M193.2 139.1h0.75M192.7 144.1h0.75M183.4 137.4h0.75M188.7 139.7h0.75M191.6 139.3h0.75" stroke="#777" stroke-width="0.75" opacity="0.38"/>
</g>
<rect x="180.40" y="133.90" width="24.10" height="14.60" fill="none" stroke="#888" stroke-width="0.6"/>
<rect x="180.40" y="151.90" width="23.80" height="25.60" fill="none" stroke="#888" stroke-width="0.6"/>
<rect x="204.90" y="151.20" width="20.80" height="26.30" fill="none" stroke="#888" stroke-width="0.6"/>
<g filter="url(#b03)">
<path d="M250.8 141.4h0.75M245.4 139.6h0.75M245.1 141.9h0.75M251.4 142.9h0.75M246.6 139.9h0.75M241.0 141.2h0.75M243.5 142.1h0.75M254.8 142.3h0.75M252.9 141.8h0.75M251.9 143.6h0.75M255.6 146.3h0.75M249.2 143.3h0.75M253.9 142.3h0.75M251.4 138.0h0.75M254.9 139.0h0.75M247.6 139.0h0.75M252.6 138.8h0.75M252.2 142.6h0.75M250.7 140.3h0.75M252.8 144.5h0.75M248.4 138.5h0.75M247.8 139.0h0.75M249.3 140.8h0.75M240.6 144.9h0.75M246.9 140.1h0.75M242.1 136.2h0.75M246.0 141.8h0.75M253.9 136.6h0.75M251.2 145.0h0.75M249.1 143.5h0.75M251.6 138.9h0.75M254.5 139.7h0.75M251.8 140.2h0.75M249.4 141.6h0.75M255.8 137.0h0.75M245.6 141.5h0.75M254.4 140.7h0.75M249.5 142.5h0.75M256.9 138.9h0.75M243.6 140.5h0.75M253.5 137.9h0.75M255.0 143.6h0.75M253.6 139.1h0.75M244.9 142.9h0.75M251.4 142.9h0.75M244.7 133.7h0.75M255.0 143.7h0.75M249.1 141.2h0.75M252.2 143.1h0.75M249.5 139.9h0.75M246.2 143.8h0.75M250.7 132.6h0.75M251.7 139.8h0.75M245.0 139.9h0.75M244.9 140.1h0.75M248.0 142.5h0.75M246.1 136.6h0.75M247.8 137.7h0.75M253.4 140.7h0.75M243.3 139.0h0.75M250.2 141.1h0.75M242.6 140.9h0.75M251.5 143.7h0.75M254.9 140.9h0.75M244.8 140.3h0.75M253.0 138.9h0.75M255.6 138.8h0.75M245.6 143.3h0.75M249.9 142.0h0.75M249.0 141.3h0.75M247.8 146.0h0.75M253.0 140.9h0.75M252.3 143.3h0.75M248.1 141.6h0.75M251.2 139.8h0.75M247.1 140.7h0.75M249.0 140.2h0.75M242.2 141.4h0.75M253.0 141.4h0.75M257.5 143.4h0.75M248.8 139.5h0.75M252.4 140.3h0.75M243.5 141.5h0.75M249.1 140.6h0.75M252.9 141.7h0.75M258.8 139.3h0.75M249.9 142.0h0.75M248.5 139.9h0.75M257.6 137.5h0.75M251.8 136.8h0.75M251.7 136.4h0.75M245.4 144.1h0.75M256.7 141.5h0.75M251.3 138.4h0.75M248.8 137.9h0.75M249.9 141.0h0.75M250.8 143.2h0.75M247.6 135.7h0.75M245.4 138.0h0.75M248.8 140.1h0.75M250.1 144.6h0.75M250.4 138.5h0.75M249.0 139.0h0.75M249.3 142.7h0.75M245.6 143.0h0.75M257.8 145.0h0.75M257.1 141.4h0.75M244.6 146.2h0.75M250.1 141.8h0.75M248.8 138.8h0.75M252.9 137.7h0.75M244.5 142.6h0.75M248.7 139.1h0.75M252.4 144.8h0.75M249.1 140.9h0.75M252.6 143.5h0.75M254.6 142.9h0.75M247.5 142.5h0.75M250.3 136.9h0.75M255.5 142.6h0.75M256.0 141.0h0.75M253.3 141.0h0.75M251.0 143.5h0.75M250.5 142.7h0.75M250.2 144.3h0.75M253.0 137.1h0.75M257.2 142.3h0.75M248.2 139.6h0.75M258.6 141.4h0.75M252.4 142.7h0.75" stroke="#555" stroke-width="0.75" opacity="0.42"/>
<path d="M271.7 160.8h0.75M264.0 155.0h0.75M252.3 166.4h0.75M255.4 169.8h0.75M258.2 168.5h0.75M253.9 168.0h0.75M255.5 174.3h0.75M255.8 165.0h0.75M253.6 157.3h0.75M271.5 168.8h0.75M256.0 162.9h0.75M265.2 163.8h0.75M251.3 162.4h0.75M267.3 168.1h0.75M253.8 161.7h0.75M265.2 167.9h0.75M252.4 172.0h0.75M262.0 159.3h0.75M264.1 173.3h0.75M253.1 157.1h0.75M263.7 163.7h0.75M253.4 164.1h0.75M252.9 171.6h0.75M246.3 169.6h0.75M264.2 173.1h0.75M260.7 167.8h0.75M253.5 165.2h0.75M254.1 159.3h0.75M261.6 176.1h0.75M257.2 163.9h0.75M246.2 170.3h0.75M253.1 161.6h0.75M259.8 157.4h0.75M260.9 149.8h0.75M250.2 156.5h0.75M253.1 171.3h0.75M244.8 175.1h0.75M249.7 162.8h0.75M262.9 161.1h0.75M266.5 164.7h0.75M254.3 159.6h0.75M264.1 165.6h0.75M251.2 159.7h0.75M250.1 165.4h0.75M249.4 171.3h0.75M254.8 161.9h0.75M258.7 175.5h0.75M263.6 166.9h0.75M261.6 155.8h0.75M249.2 172.7h0.75M254.4 166.4h0.75M260.0 168.5h0.75M258.6 162.7h0.75M252.7 174.7h0.75M251.2 156.4h0.75M252.3 172.0h0.75M269.2 167.0h0.75M250.2 170.1h0.75M257.5 173.9h0.75M259.2 171.0h0.75M259.1 168.8h0.75M248.0 164.9h0.75M267.7 174.9h0.75M262.7 168.6h0.75M254.3 168.3h0.75M252.6 173.2h0.75M252.7 161.0h0.75M242.5 176.3h0.75M249.2 160.3h0.75M260.4 163.8h0.75M259.6 160.5h0.75M253.2 166.2h0.75M255.3 171.2h0.75M261.7 164.1h0.75M257.2 160.4h0.75M250.4 163.8h0.75M263.1 161.4h0.75M243.0 159.3h0.75M245.8 164.8h0.75M252.8 158.3h0.75M249.0 163.3h0.75M258.3 170.1h0.75M265.5 164.3h0.75M260.1 166.5h0.75M246.7 161.8h0.75M272.3 165.0h0.75M268.1 171.5h0.75M268.2 164.8h0.75M262.5 164.0h0.75M246.6 158.3h0.75M258.7 155.4h0.75M258.1 160.3h0.75M258.0 156.9h0.75M261.9 164.5h0.75M243.4 156.5h0.75M255.8 155.2h0.75M257.8 169.2h0.75M250.2 175.3h0.75M266.5 168.1h0.75M258.8 169.1h0.75M253.3 174.7h0.75M251.1 149.4h0.75M255.5 168.9h0.75M261.7 158.7h0.75M266.1 160.6h0.75M260.2 170.8h0.75M256.7 173.5h0.75M259.1 163.2h0.75M275.5 166.0h0.75M242.8 175.4h0.75M267.3 162.2h0.75M247.7 173.5h0.75M255.8 159.7h0.75M251.6 166.5h0.75M262.9 176.4h0.75M250.5 176.2h0.75M243.6 170.7h0.75M254.2 168.9h0.75M251.9 161.3h0.75M257.5 173.5h0.75M252.2 158.9h0.75M244.9 169.4h0.75M259.6 170.3h0.75M250.6 163.2h0.75M269.0 163.5h0.75M256.3 172.6h0.75M268.3 168.5h0.75M252.2 154.1h0.75M249.5 163.9h0.75M265.5 168.1h0.75M264.6 166.7h0.75M255.7 162.2h0.75M245.8 169.4h0.75M258.1 169.8h0.75M251.2 163.2h0.75M258.3 170.0h0.75M270.7 160.2h0.75M263.0 171.9h0.75M253.3 166.9h0.75M254.9 176.1h0.75M275.0 168.2h0.75M253.4 172.3h0.75M259.2 164.8h0.75M261.2 171.8h0.75M252.3 171.7h0.75M252.9 167.1h0.75M244.1 175.8h0.75M252.4 167.0h0.75M255.0 171.0h0.75M250.9 170.9h0.75M248.9 156.2h0.75M259.3 167.1h0.75M262.2 153.2h0.75M256.2 161.8h0.75M253.9 163.4h0.75M252.4 161.6h0.75M263.2 154.6h0.75M242.4 168.3h0.75M270.9 161.0h0.75M248.3 158.3h0.75M247.4 174.3h0.75M260.6 172.0h0.75M258.0 167.6h0.75M250.8 159.6h0.75M252.5 174.4h0.75M249.9 166.3h0.75M268.5 165.5h0.75M260.3 162.3h0.75M269.9 157.8h0.75M259.7 164.4h0.75M256.9 168.4h0.75M265.5 171.8h0.75M263.5 168.5h0.75M247.1 174.9h0.75M267.2 169.2h0.75M261.5 164.5h0.75M244.2 172.6h0.75M260.7 165.9h0.75M250.6 166.7h0.75M247.5 163.5h0.75M267.7 164.0h0.75M269.6 165.4h0.75M258.6 159.9h0.75M253.0 163.0h0.75M259.9 165.5h0.75M246.9 166.2h0.75M247.2 159.6h0.75M241.8 169.7h0.75M251.1 146.7h0.75M244.4 165.1h0.75M255.8 161.0h0.75M269.1 169.6h0.75M250.4 155.1h0.75M256.7 161.5h0.75M263.2 159.1h0.75M264.6 162.9h0.75M256.8 164.2h0.75M260.1 173.7h0.75M251.1 160.0h0.75M270.0 172.4h0.75M270.1 172.4h0.75M256.3 176.9h0.75M250.1 163.2h0.75M252.2 170.6h0.75M248.7 164.8h0.75M248.7 164.5h0.75M264.0 173.4h0.75M249.8 169.1h0.75M251.6 151.2h0.75M246.1 174.3h0.75M254.3 167.8h0.75M265.0 166.2h0.75M250.3 161.9h0.75M248.0 169.7h0.75M251.6 169.4h0.75M243.6 163.1h0.75M271.3 168.4h0.75M254.5 173.9h0.75M257.4 176.3h0.75M246.2 171.1h0.75M247.0 170.6h0.75M274.4 176.2h0.75M248.6 168.8h0.75M258.8 161.2h0.75M257.1 158.9h0.75M262.8 172.1h0.75M254.0 170.6h0.75M273.8 164.9h0.75M240.7 168.3h0.75M251.7 160.8h0.75M262.3 172.7h0.75M259.9 176.9h0.75M250.3 163.2h0.75M258.5 147.9h0.75M253.6 166.4h0.75M247.8 167.5h0.75M263.4 161.8h0.75M259.6 165.0h0.75M254.0 166.8h0.75M267.0 169.5h0.75M260.6 167.0h0.75M255.1 166.7h0.75M251.3 155.7h0.75M267.4 153.7h0.75M259.5 158.1h0.75M253.8 162.6h0.75M250.4 160.9h0.75M251.4 171.2h0.75M267.7 172.2h0.75M255.1 165.0h0.75M253.3 165.9h0.75M250.4 164.8h0.75M261.8 164.5h0.75M248.8 165.2h0.75M255.9 165.5h0.75M253.1 170.7h0.75M254.8 159.3h0.75M259.6 161.2h0.75M261.2 171.5h0.75M258.9 168.1h0.75" stroke="#666" stroke-width="0.75" opacity="0.36"/>
<path d="M268.5 164.7h0.75M275.7 170.3h0.75M269.6 165.0h0.75M267.6 167.2h0.75M275.5 166.8h0.75M283.2 170.9h0.75M274.2 162.1h0.75M272.9 171.3h0.75M279.6 162.6h0.75M274.5 163.1h0.75M278.5 167.3h0.75M271.6 160.1h0.75M281.5 156.6h0.75M266.2 145.4h0.75M285.0 162.4h0.75M279.3 169.8h0.75M279.2 173.6h0.75M272.8 165.9h0.75M279.9 169.7h0.75M271.4 161.0h0.75M268.0 167.8h0.75M272.5 155.6h0.75M272.4 168.2h0.75M276.0 164.5h0.75M275.9 170.4h0.75M269.2 160.6h0.75M279.9 170.9h0.75M268.2 161.2h0.75M282.2 171.1h0.75M274.4 172.8h0.75M281.8 175.5h0.75M268.3 157.3h0.75M272.6 165.7h0.75M273.4 167.6h0.75M282.4 173.4h0.75M280.0 166.0h0.75M283.2 169.1h0.75M276.3 165.9h0.75M275.0 172.0h0.75M286.2 164.7h0.75M269.4 172.8h0.75M276.3 159.7h0.75M279.8 166.1h0.75M270.4 149.1h0.75M270.2 168.6h0.75M270.0 172.5h0.75M285.9 168.2h0.75M276.2 165.5h0.75M279.3 166.2h0.75M280.2 175.5h0.75M279.3 159.6h0.75M278.4 164.3h0.75M276.6 172.5h0.75M271.8 167.4h0.75M282.3 160.4h0.75M274.1 170.9h0.75M274.0 172.9h0.75M270.1 156.0h0.75M277.0 165.1h0.75M276.6 172.4h0.75M280.3 163.7h0.75M273.2 153.1h0.75M270.3 167.7h0.75M276.2 156.1h0.75M279.0 165.8h0.75M280.5 163.7h0.75M279.9 158.6h0.75M265.9 160.6h0.75M278.5 168.8h0.75M265.8 167.0h0.75M278.9 169.4h0.75M267.3 168.5h0.75M265.4 164.1h0.75M273.3 159.6h0.75M270.1 165.1h0.75M278.0 161.7h0.75M276.6 170.8h0.75M273.5 161.2h0.75M265.7 173.2h0.75M278.4 164.8h0.75M276.6 165.2h0.75M279.4 165.9h0.75M276.2 165.5h0.75M270.7 151.3h0.75M277.8 157.7h0.75M277.1 170.3h0.75M284.4 161.1h0.75M275.8 172.3h0.75M271.8 162.1h0.75M280.4 172.4h0.75M270.3 170.4h0.75M280.7 157.6h0.75M275.1 164.7h0.75M278.3 154.5h0.75M278.6 166.0h0.75M273.8 152.0h0.75M264.8 162.4h0.75M278.3 168.8h0.75M278.8 154.8h0.75M276.1 175.0h0.75M267.4 170.3h0.75M271.5 169.7h0.75M275.6 155.2h0.75M269.9 174.5h0.75M274.5 174.2h0.75M276.8 171.9h0.75M273.1 167.5h0.75M273.2 172.0h0.75M272.2 173.4h0.75M282.9 158.0h0.75M274.2 169.6h0.75M283.9 173.6h0.75M275.5 154.6h0.75M279.2 162.1h0.75M276.0 168.7h0.75M268.1 173.1h0.75M279.6 169.8h0.75M278.0 168.4h0.75M268.2 162.7h0.75M279.1 163.8h0.75M275.2 168.5h0.75M275.5 167.7h0.75M277.5 166.0h0.75M269.6 164.2h0.75M279.8 161.5h0.75M277.4 168.0h0.75M270.7 147.3h0.75M275.0 160.9h0.75M272.0 172.2h0.75M271.3 168.3h0.75M275.7 167.3h0.75M284.9 153.0h0.75M279.8 165.1h0.75M273.7 161.6h0.75M275.3 166.3h0.75M270.5 176.8h0.75M271.4 165.1h0.75M268.8 167.0h0.75M276.8 173.2h0.75M279.9 162.7h0.75M283.0 165.3h0.75M273.1 158.9h0.75M277.7 175.5h0.75M277.0 173.2h0.75M278.0 171.9h0.75M281.6 164.1h0.75M268.1 165.2h0.75M271.2 158.1h0.75M274.2 170.7h0.75M266.0 156.0h0.75M279.0 160.2h0.75M273.1 174.9h0.75M280.6 168.4h0.75M277.7 148.1h0.75M277.8 168.5h0.75M268.2 167.2h0.75M277.3 165.2h0.75M279.0 171.8h0.75M275.3 164.4h0.75M269.2 173.5h0.75" stroke="#666" stroke-width="0.75" opacity="0.36"/>
</g>
<rect x="241.00" y="134.30" width="23.60" height="14.20" fill="none" stroke="#888" stroke-width="0.6"/>
<rect x="241.00" y="152.10" width="24.20" height="25.40" fill="none" stroke="#888" stroke-width="0.6"/>
<rect x="265.50" y="151.50" width="21.60" height="26.00" fill="none" stroke="#888" stroke-width="0.6"/>
<text x="190.20" y="66.60" font-size="7.4" fill="#111" stroke="#111">CD45.1+</text>
<text x="250.20" y="66.60" font-size="7.4" fill="#111" stroke="#111">CD45.2+</text>
<path d="M50.00,246.40 L50.00,246.34 L50.25,246.31 L50.50,246.28 L50.75,246.23 L51.00,246.16 L51.25,246.07 L51.50,245.93 L51.75,245.75 L52.00,245.51 L52.25,245.18 L52.50,244.76 L52.75,244.22 L53.00,243.53 L53.25,242.67 L53.50,241.61 L53.75,240.35 L54.00,238.85 L54.25,237.10 L54.50,235.11 L54.75,232.87 L55.00,230.41 L55.25,227.76 L55.50,224.96 L55.75,222.08 L56.00,219.19 L56.25,216.35 L56.50,213.67 L56.75,211.21 L57.00,209.07 L57.25,207.30 L57.50,205.98 L57.75,205.13 L58.00,204.77 L58.25,204.91 L58.50,205.53 L58.75,206.57 L59.00,207.99 L59.25,209.73 L59.50,211.69 L59.75,213.82 L60.00,216.04 L60.25,218.27 L60.50,220.47 L60.75,222.59 L61.00,224.58 L61.25,226.44 L61.50,228.14 L61.75,229.69 L62.00,231.09 L62.25,232.36 L62.50,233.50 L62.75,234.54 L63.00,235.48 L63.25,236.35 L63.50,237.15 L63.75,237.90 L64.00,238.61 L64.25,239.27 L64.50,239.89 L64.75,240.48 L65.00,241.04 L65.25,241.55 L65.50,242.03 L65.75,242.47 L66.00,242.88 L66.25,243.24 L66.50,243.57 L66.75,243.87 L67.00,244.12 L67.25,244.35 L67.50,244.54 L67.75,244.70 L68.00,244.84 L68.25,244.96 L68.50,245.05 L68.75,245.13 L69.00,245.19 L69.25,245.24 L69.50,245.28 L69.75,245.31 L70.00,245.33 L70.25,245.35 L70.50,245.36 L70.75,245.37 L71.00,245.38 L71.25,245.38 L71.50,245.38 L71.75,245.39 L72.00,245.39 L72.25,245.39 L72.50,245.40 L72.75,245.40 L73.00,245.41 L73.25,245.41 L73.50,245.42 L73.75,245.42 L74.00,245.43 L74.25,245.44 L74.50,245.44 L74.75,245.45 L75.00,245.46 L75.25,245.46 L75.50,245.47 L75.75,245.47 L76.00,245.47 L76.25,245.47 L76.50,245.46 L76.75,245.44 L77.00,245.41 L77.25,245.37 L77.50,245.31 L77.75,245.24 L78.00,245.14 L78.25,245.01 L78.50,244.85 L78.75,244.66 L79.00,244.43 L79.25,244.17 L79.50,243.85 L79.75,243.49 L80.00,243.08 L80.25,242.60 L80.50,242.01 L80.75,241.23 L81.00,240.14 L81.25,238.53 L81.50,236.13 L81.75,232.66 L82.00,227.96 L82.25,222.10 L82.50,215.52 L82.75,209.03 L83.00,203.71 L83.25,200.57 L83.50,200.29 L83.75,202.92 L84.00,207.91 L84.25,214.29 L84.50,220.96 L84.75,227.05 L85.00,232.03 L85.25,235.76 L85.50,238.39 L85.75,240.17 L86.00,241.38 L86.25,242.23 L86.50,242.88 L86.75,243.41 L87.00,243.86 L87.25,244.26 L87.50,244.61 L87.75,244.92 L88.00,245.18 L88.25,245.41 L88.50,245.60 L88.75,245.75 L89.00,245.88 L89.25,245.99 L89.50,246.07 L89.75,246.14 L90.00,246.19 L90.25,246.23 L90.50,246.26 L90.75,246.29 L91.00,246.31 L91.25,246.32 L91.50,246.33 L91.75,246.34 L92.00,246.35 L92.25,246.35 L92.50,246.36 L92.75,246.36 L93.00,246.37 L93.25,246.37 L93.50,246.37 L93.75,246.37 L94.00,246.38 L94.25,246.38 L94.50,246.38 L94.75,246.38 L95.00,246.38 L95.25,246.39 L95.50,246.39 L95.75,246.39 L96.00,246.39 L96.25,246.39 L96.50,246.39 L96.75,246.39 L97.00,246.39 L97.25,246.39 L97.50,246.39 L97.75,246.39 L98.00,246.39 L98.25,246.40 L98.50,246.40 L98.70,246.40 Z" fill="#f0f0f0" stroke="#999" stroke-width="0.5"/>
<path d="M50.00,246.40 L50.00,246.27 L50.25,246.25 L50.50,246.23 L50.75,246.20 L51.00,246.15 L51.25,246.10 L51.50,246.02 L51.75,245.91 L52.00,245.77 L52.25,245.58 L52.50,245.33 L52.75,245.00 L53.00,244.58 L53.25,244.03 L53.50,243.35 L53.75,242.50 L54.00,241.47 L54.25,240.23 L54.50,238.76 L54.75,237.05 L55.00,235.10 L55.25,232.91 L55.50,230.50 L55.75,227.89 L56.00,225.13 L56.25,222.27 L56.50,219.37 L56.75,216.51 L57.00,213.75 L57.25,211.19 L57.50,208.89 L57.75,206.93 L58.00,205.35 L58.25,204.20 L58.50,203.50 L58.75,203.26 L59.00,203.46 L59.25,204.08 L59.50,205.05 L59.75,206.34 L60.00,207.87 L60.25,209.58 L60.50,211.41 L60.75,213.29 L61.00,215.17 L61.25,217.01 L61.50,218.78 L61.75,220.44 L62.00,222.00 L62.25,223.44 L62.50,224.76 L62.75,225.98 L63.00,227.10 L63.25,228.13 L63.50,229.10 L63.75,230.00 L64.00,230.86 L64.25,231.68 L64.50,232.47 L64.75,233.24 L65.00,233.98 L65.25,234.70 L65.50,235.41 L65.75,236.10 L66.00,236.76 L66.25,237.40 L66.50,238.02 L66.75,238.61 L67.00,239.17 L67.25,239.70 L67.50,240.20 L67.75,240.66 L68.00,241.09 L68.25,241.48 L68.50,241.84 L68.75,242.16 L69.00,242.45 L69.25,242.71 L69.50,242.94 L69.75,243.13 L70.00,243.31 L70.25,243.46 L70.50,243.59 L70.75,243.69 L71.00,243.79 L71.25,243.86 L71.50,243.93 L71.75,243.98 L72.00,244.03 L72.25,244.07 L72.50,244.10 L72.75,244.13 L73.00,244.15 L73.25,244.17 L73.50,244.19 L73.75,244.21 L74.00,244.23 L74.25,244.24 L74.50,244.25 L74.75,244.26 L75.00,244.27 L75.25,244.27 L75.50,244.26 L75.75,244.25 L76.00,244.22 L76.25,244.17 L76.50,244.11 L76.75,244.01 L77.00,243.88 L77.25,243.70 L77.50,243.48 L77.75,243.19 L78.00,242.83 L78.25,242.39 L78.50,241.86 L78.75,241.24 L79.00,240.52 L79.25,239.68 L79.50,238.75 L79.75,237.71 L80.00,236.58 L80.25,235.37 L80.50,234.11 L80.75,232.80 L81.00,231.48 L81.25,230.17 L81.50,228.92 L81.75,227.74 L82.00,226.68 L82.25,225.76 L82.50,225.00 L82.75,224.44 L83.00,224.07 L83.25,223.91 L83.50,223.96 L83.75,224.22 L84.00,224.68 L84.25,225.30 L84.50,226.09 L84.75,227.00 L85.00,228.02 L85.25,229.12 L85.50,230.27 L85.75,231.45 L86.00,232.63 L86.25,233.80 L86.50,234.94 L86.75,236.03 L87.00,237.08 L87.25,238.06 L87.50,238.99 L87.75,239.84 L88.00,240.63 L88.25,241.34 L88.50,241.99 L88.75,242.58 L89.00,243.11 L89.25,243.58 L89.50,243.99 L89.75,244.35 L90.00,244.67 L90.25,244.94 L90.50,245.18 L90.75,245.38 L91.00,245.55 L91.25,245.69 L91.50,245.81 L91.75,245.90 L92.00,245.99 L92.25,246.05 L92.50,246.10 L92.75,246.15 L93.00,246.18 L93.25,246.21 L93.50,246.23 L93.75,246.25 L94.00,246.27 L94.25,246.28 L94.50,246.29 L94.75,246.30 L95.00,246.31 L95.25,246.32 L95.50,246.33 L95.75,246.33 L96.00,246.34 L96.25,246.34 L96.50,246.35 L96.75,246.35 L97.00,246.35 L97.25,246.36 L97.50,246.36 L97.75,246.36 L98.00,246.37 L98.25,246.37 L98.50,246.37 L98.70,246.40 Z" fill="#5f5f5f" stroke="#444" stroke-width="0.3" opacity="0.93"/>
<path d="M50.00,246.40 L50.00,246.34 L50.25,246.31 L50.50,246.28 L50.75,246.23 L51.00,246.16 L51.25,246.07 L51.50,245.93 L51.75,245.75 L52.00,245.51 L52.25,245.18 L52.50,244.76 L52.75,244.22 L53.00,243.53 L53.25,242.67 L53.50,241.61 L53.75,240.35 L54.00,238.85 L54.25,237.10 L54.50,235.11 L54.75,232.87 L55.00,230.41 L55.25,227.76 L55.50,224.96 L55.75,222.08 L56.00,219.19 L56.25,216.35 L56.50,213.67 L56.75,211.21 L57.00,209.07 L57.25,207.30 L57.50,205.98 L57.75,205.13 L58.00,204.77 L58.25,204.91 L58.50,205.53 L58.75,206.57 L59.00,207.99 L59.25,209.73 L59.50,211.69 L59.75,213.82 L60.00,216.04 L60.25,218.27 L60.50,220.47 L60.75,222.59 L61.00,224.58 L61.25,226.44 L61.50,228.14 L61.75,229.69 L62.00,231.09 L62.25,232.36 L62.50,233.50 L62.75,234.54 L63.00,235.48 L63.25,236.35 L63.50,237.15 L63.75,237.90 L64.00,238.61 L64.25,239.27 L64.50,239.89 L64.75,240.48 L65.00,241.04 L65.25,241.55 L65.50,242.03 L65.75,242.47 L66.00,242.88 L66.25,243.24 L66.50,243.57 L66.75,243.87 L67.00,244.12 L67.25,244.35 L67.50,244.54 L67.75,244.70 L68.00,244.84 L68.25,244.96 L68.50,245.05 L68.75,245.13 L69.00,245.19 L69.25,245.24 L69.50,245.28 L69.75,245.31 L70.00,245.33 L70.25,245.35 L70.50,245.36 L70.75,245.37 L71.00,245.38 L71.25,245.38 L71.50,245.38 L71.75,245.39 L72.00,245.39 L72.25,245.39 L72.50,245.40 L72.75,245.40 L73.00,245.41 L73.25,245.41 L73.50,245.42 L73.75,245.42 L74.00,245.43 L74.25,245.44 L74.50,245.44 L74.75,245.45 L75.00,245.46 L75.25,245.46 L75.50,245.47 L75.75,245.47 L76.00,245.47 L76.25,245.47 L76.50,245.46 L76.75,245.44 L77.00,245.41 L77.25,245.37 L77.50,245.31 L77.75,245.24 L78.00,245.14 L78.25,245.01 L78.50,244.85 L78.75,244.66 L79.00,244.43 L79.25,244.17 L79.50,243.85 L79.75,243.49 L80.00,243.08 L80.25,242.60 L80.50,242.01 L80.75,241.23 L81.00,240.14 L81.25,238.53 L81.50,236.13 L81.75,232.66 L82.00,227.96 L82.25,222.10 L82.50,215.52 L82.75,209.03 L83.00,203.71 L83.25,200.57 L83.50,200.29 L83.75,202.92 L84.00,207.91 L84.25,214.29 L84.50,220.96 L84.75,227.05 L85.00,232.03 L85.25,235.76 L85.50,238.39 L85.75,240.17 L86.00,241.38 L86.25,242.23 L86.50,242.88 L86.75,243.41 L87.00,243.86 L87.25,244.26 L87.50,244.61 L87.75,244.92 L88.00,245.18 L88.25,245.41 L88.50,245.60 L88.75,245.75 L89.00,245.88 L89.25,245.99 L89.50,246.07 L89.75,246.14 L90.00,246.19 L90.25,246.23 L90.50,246.26 L90.75,246.29 L91.00,246.31 L91.25,246.32 L91.50,246.33 L91.75,246.34 L92.00,246.35 L92.25,246.35 L92.50,246.36 L92.75,246.36 L93.00,246.37 L93.25,246.37 L93.50,246.37 L93.75,246.37 L94.00,246.38 L94.25,246.38 L94.50,246.38 L94.75,246.38 L95.00,246.38 L95.25,246.39 L95.50,246.39 L95.75,246.39 L96.00,246.39 L96.25,246.39 L96.50,246.39 L96.75,246.39 L97.00,246.39 L97.25,246.39 L97.50,246.39 L97.75,246.39 L98.00,246.39 L98.25,246.40 L98.50,246.40 L98.70,246.40 Z" fill="none" stroke="#aaa" stroke-width="0.45" opacity="0.8"/>
<rect x="49.50" y="197.40" width="49.70" height="49.30" fill="none" stroke="#aaa" stroke-width="0.6"/>
<line x1="72.80" y1="215.30" x2="90.60" y2="215.30" stroke="#555" stroke-width="0.6"/>
<text x="48.60" y="195.30" font-size="7.4" fill="#111" stroke="#111">total DCs</text>
<text x="69.70" y="207.30" fill="#111" stroke="#111">44</text>
<text x="69.90" y="212.60" fill="#999" stroke="#999">33</text>
<path d="M115.80,246.40 L115.80,246.36 L116.05,246.34 L116.30,246.31 L116.55,246.27 L116.80,246.21 L117.05,246.13 L117.30,246.02 L117.55,245.87 L117.80,245.67 L118.05,245.40 L118.30,245.05 L118.55,244.61 L118.80,244.05 L119.05,243.36 L119.30,242.50 L119.55,241.47 L119.80,240.24 L120.05,238.81 L120.30,237.15 L120.55,235.27 L120.80,233.18 L121.05,230.90 L121.30,228.44 L121.55,225.86 L121.80,223.19 L122.05,220.50 L122.30,217.85 L122.55,215.32 L122.80,212.97 L123.05,210.88 L123.30,209.12 L123.55,207.72 L123.80,206.75 L124.05,206.21 L124.30,206.12 L124.55,206.47 L124.80,207.24 L125.05,208.39 L125.30,209.86 L125.55,211.60 L125.80,213.53 L126.05,215.60 L126.30,217.74 L126.55,219.89 L126.80,221.99 L127.05,224.02 L127.30,225.93 L127.55,227.70 L127.80,229.32 L128.05,230.79 L128.30,232.11 L128.55,233.29 L128.80,234.35 L129.05,235.29 L129.30,236.14 L129.55,236.90 L129.80,237.60 L130.05,238.25 L130.30,238.85 L130.55,239.42 L130.80,239.96 L131.05,240.47 L131.30,240.97 L131.55,241.44 L131.80,241.89 L132.05,242.32 L132.30,242.72 L132.55,243.11 L132.80,243.47 L133.05,243.80 L133.30,244.11 L133.55,244.40 L133.80,244.66 L134.05,244.89 L134.30,245.10 L134.55,245.29 L134.80,245.46 L135.05,245.61 L135.30,245.73 L135.55,245.84 L135.80,245.94 L136.05,246.02 L136.30,246.09 L136.55,246.15 L136.80,246.19 L137.05,246.24 L137.30,246.27 L137.55,246.30 L137.80,246.32 L138.05,246.34 L138.30,246.35 L138.55,246.36 L138.80,246.37 L139.05,246.38 L139.30,246.38 L139.55,246.39 L139.80,246.39 L140.05,246.39 L140.30,246.39 L140.55,246.40 L140.80,246.40 L141.05,246.40 L141.30,246.40 L141.55,246.40 L141.80,246.40 L142.05,246.40 L142.30,246.39 L142.55,246.39 L142.80,246.38 L143.05,246.37 L143.30,246.36 L143.55,246.34 L143.80,246.31 L144.05,246.27 L144.30,246.21 L144.55,246.13 L144.80,246.03 L145.05,245.89 L145.30,245.72 L145.55,245.50 L145.80,245.22 L146.05,244.88 L146.30,244.45 L146.55,243.87 L146.80,243.07 L147.05,241.89 L147.30,240.10 L147.55,237.45 L147.80,233.66 L148.05,228.62 L148.30,222.47 L148.55,215.74 L148.80,209.31 L149.05,204.29 L149.30,201.64 L149.55,201.95 L149.80,205.13 L150.05,210.52 L150.30,217.09 L150.55,223.77 L150.80,229.73 L151.05,234.52 L151.30,238.06 L151.55,240.52 L151.80,242.16 L152.05,243.26 L152.30,244.00 L152.55,244.55 L152.80,244.96 L153.05,245.28 L153.30,245.55 L153.55,245.75 L153.80,245.92 L154.05,246.05 L154.30,246.15 L154.55,246.22 L154.80,246.28 L155.05,246.32 L155.30,246.34 L155.55,246.36 L155.80,246.38 L156.05,246.38 L156.30,246.39 L156.55,246.39 L156.80,246.40 L157.05,246.40 L157.30,246.40 L157.55,246.40 L157.80,246.40 L158.05,246.40 L158.30,246.40 L158.55,246.40 L158.80,246.40 L159.05,246.40 L159.30,246.40 L159.55,246.40 L159.80,246.40 L160.05,246.40 L160.30,246.40 L160.55,246.40 L160.80,246.40 L161.05,246.40 L161.30,246.40 L161.55,246.40 L161.80,246.40 L162.05,246.40 L162.30,246.40 L162.55,246.40 L162.80,246.40 L163.05,246.40 L163.30,246.40 L163.55,246.40 L163.80,246.40 L164.05,246.40 L164.30,246.40 L164.55,246.40 L164.80,246.40 L165.05,246.40 L165.30,246.40 L165.30,246.40 Z" fill="#f0f0f0" stroke="#999" stroke-width="0.5"/>
<path d="M115.80,246.40 L115.80,246.36 L116.05,246.35 L116.30,246.34 L116.55,246.32 L116.80,246.30 L117.05,246.27 L117.30,246.23 L117.55,246.17 L117.80,246.08 L118.05,245.97 L118.30,245.81 L118.55,245.61 L118.80,245.33 L119.05,244.98 L119.30,244.52 L119.55,243.94 L119.80,243.21 L120.05,242.32 L120.30,241.24 L120.55,239.95 L120.80,238.43 L121.05,236.69 L121.30,234.71 L121.55,232.51 L121.80,230.11 L122.05,227.55 L122.30,224.86 L122.55,222.10 L122.80,219.34 L123.05,216.66 L123.30,214.12 L123.55,211.80 L123.80,209.78 L124.05,208.11 L124.30,206.85 L124.55,206.01 L124.80,205.62 L125.05,205.67 L125.30,206.15 L125.55,207.00 L125.80,208.18 L126.05,209.64 L126.30,211.30 L126.55,213.10 L126.80,214.99 L127.05,216.89 L127.30,218.77 L127.55,220.59 L127.80,222.31 L128.05,223.92 L128.30,225.41 L128.55,226.78 L128.80,228.02 L129.05,229.15 L129.30,230.18 L129.55,231.12 L129.80,231.98 L130.05,232.78 L130.30,233.52 L130.55,234.22 L130.80,234.87 L131.05,235.48 L131.30,236.07 L131.55,236.62 L131.80,237.14 L132.05,237.64 L132.30,238.11 L132.55,238.56 L132.80,238.97 L133.05,239.37 L133.30,239.74 L133.55,240.09 L133.80,240.41 L134.05,240.72 L134.30,241.01 L134.55,241.28 L134.80,241.54 L135.05,241.78 L135.30,242.01 L135.55,242.23 L135.80,242.44 L136.05,242.63 L136.30,242.82 L136.55,243.00 L136.80,243.17 L137.05,243.33 L137.30,243.48 L137.55,243.63 L137.80,243.77 L138.05,243.90 L138.30,244.03 L138.55,244.14 L138.80,244.25 L139.05,244.36 L139.30,244.45 L139.55,244.54 L139.80,244.63 L140.05,244.71 L140.30,244.78 L140.55,244.85 L140.80,244.91 L141.05,244.97 L141.30,245.03 L141.55,245.08 L141.80,245.13 L142.05,245.17 L142.30,245.22 L142.55,245.25 L142.80,245.29 L143.05,245.32 L143.30,245.36 L143.55,245.38 L143.80,245.40 L144.05,245.42 L144.30,245.42 L144.55,245.40 L144.80,245.36 L145.05,245.29 L145.30,245.18 L145.55,245.00 L145.80,244.75 L146.05,244.42 L146.30,243.98 L146.55,243.44 L146.80,242.79 L147.05,242.04 L147.30,241.22 L147.55,240.34 L147.80,239.47 L148.05,238.63 L148.30,237.90 L148.55,237.30 L148.80,236.90 L149.05,236.70 L149.30,236.72 L149.55,236.96 L149.80,237.39 L150.05,237.97 L150.30,238.66 L150.55,239.41 L150.80,240.18 L151.05,240.94 L151.30,241.65 L151.55,242.30 L151.80,242.88 L152.05,243.39 L152.30,243.83 L152.55,244.20 L152.80,244.53 L153.05,244.80 L153.30,245.04 L153.55,245.25 L153.80,245.43 L154.05,245.59 L154.30,245.72 L154.55,245.84 L154.80,245.93 L155.05,246.02 L155.30,246.08 L155.55,246.14 L155.80,246.19 L156.05,246.22 L156.30,246.25 L156.55,246.28 L156.80,246.29 L157.05,246.31 L157.30,246.32 L157.55,246.33 L157.80,246.34 L158.05,246.34 L158.30,246.35 L158.55,246.35 L158.80,246.36 L159.05,246.36 L159.30,246.36 L159.55,246.37 L159.80,246.37 L160.05,246.37 L160.30,246.38 L160.55,246.38 L160.80,246.38 L161.05,246.38 L161.30,246.38 L161.55,246.38 L161.80,246.39 L162.05,246.39 L162.30,246.39 L162.55,246.39 L162.80,246.39 L163.05,246.39 L163.30,246.39 L163.55,246.39 L163.80,246.39 L164.05,246.39 L164.30,246.39 L164.55,246.40 L164.80,246.40 L165.05,246.40 L165.30,246.40 L165.30,246.40 Z" fill="#5f5f5f" stroke="#444" stroke-width="0.3" opacity="0.93"/>
<path d="M115.80,246.40 L115.80,246.36 L116.05,246.34 L116.30,246.31 L116.55,246.27 L116.80,246.21 L117.05,246.13 L117.30,246.02 L117.55,245.87 L117.80,245.67 L118.05,245.40 L118.30,245.05 L118.55,244.61 L118.80,244.05 L119.05,243.36 L119.30,242.50 L119.55,241.47 L119.80,240.24 L120.05,238.81 L120.30,237.15 L120.55,235.27 L120.80,233.18 L121.05,230.90 L121.30,228.44 L121.55,225.86 L121.80,223.19 L122.05,220.50 L122.30,217.85 L122.55,215.32 L122.80,212.97 L123.05,210.88 L123.30,209.12 L123.55,207.72 L123.80,206.75 L124.05,206.21 L124.30,206.12 L124.55,206.47 L124.80,207.24 L125.05,208.39 L125.30,209.86 L125.55,211.60 L125.80,213.53 L126.05,215.60 L126.30,217.74 L126.55,219.89 L126.80,221.99 L127.05,224.02 L127.30,225.93 L127.55,227.70 L127.80,229.32 L128.05,230.79 L128.30,232.11 L128.55,233.29 L128.80,234.35 L129.05,235.29 L129.30,236.14 L129.55,236.90 L129.80,237.60 L130.05,238.25 L130.30,238.85 L130.55,239.42 L130.80,239.96 L131.05,240.47 L131.30,240.97 L131.55,241.44 L131.80,241.89 L132.05,242.32 L132.30,242.72 L132.55,243.11 L132.80,243.47 L133.05,243.80 L133.30,244.11 L133.55,244.40 L133.80,244.66 L134.05,244.89 L134.30,245.10 L134.55,245.29 L134.80,245.46 L135.05,245.61 L135.30,245.73 L135.55,245.84 L135.80,245.94 L136.05,246.02 L136.30,246.09 L136.55,246.15 L136.80,246.19 L137.05,246.24 L137.30,246.27 L137.55,246.30 L137.80,246.32 L138.05,246.34 L138.30,246.35 L138.55,246.36 L138.80,246.37 L139.05,246.38 L139.30,246.38 L139.55,246.39 L139.80,246.39 L140.05,246.39 L140.30,246.39 L140.55,246.40 L140.80,246.40 L141.05,246.40 L141.30,246.40 L141.55,246.40 L141.80,246.40 L142.05,246.40 L142.30,246.39 L142.55,246.39 L142.80,246.38 L143.05,246.37 L143.30,246.36 L143.55,246.34 L143.80,246.31 L144.05,246.27 L144.30,246.21 L144.55,246.13 L144.80,246.03 L145.05,245.89 L145.30,245.72 L145.55,245.50 L145.80,245.22 L146.05,244.88 L146.30,244.45 L146.55,243.87 L146.80,243.07 L147.05,241.89 L147.30,240.10 L147.55,237.45 L147.80,233.66 L148.05,228.62 L148.30,222.47 L148.55,215.74 L148.80,209.31 L149.05,204.29 L149.30,201.64 L149.55,201.95 L149.80,205.13 L150.05,210.52 L150.30,217.09 L150.55,223.77 L150.80,229.73 L151.05,234.52 L151.30,238.06 L151.55,240.52 L151.80,242.16 L152.05,243.26 L152.30,244.00 L152.55,244.55 L152.80,244.96 L153.05,245.28 L153.30,245.55 L153.55,245.75 L153.80,245.92 L154.05,246.05 L154.30,246.15 L154.55,246.22 L154.80,246.28 L155.05,246.32 L155.30,246.34 L155.55,246.36 L155.80,246.38 L156.05,246.38 L156.30,246.39 L156.55,246.39 L156.80,246.40 L157.05,246.40 L157.30,246.40 L157.55,246.40 L157.80,246.40 L158.05,246.40 L158.30,246.40 L158.55,246.40 L158.80,246.40 L159.05,246.40 L159.30,246.40 L159.55,246.40 L159.80,246.40 L160.05,246.40 L160.30,246.40 L160.55,246.40 L160.80,246.40 L161.05,246.40 L161.30,246.40 L161.55,246.40 L161.80,246.40 L162.05,246.40 L162.30,246.40 L162.55,246.40 L162.80,246.40 L163.05,246.40 L163.30,246.40 L163.55,246.40 L163.80,246.40 L164.05,246.40 L164.30,246.40 L164.55,246.40 L164.80,246.40 L165.05,246.40 L165.30,246.40 L165.30,246.40 Z" fill="none" stroke="#aaa" stroke-width="0.45" opacity="0.8"/>
<rect x="115.30" y="197.40" width="50.50" height="49.30" fill="none" stroke="#aaa" stroke-width="0.6"/>
<line x1="140.20" y1="215.30" x2="157.70" y2="215.30" stroke="#555" stroke-width="0.6"/>
<text x="116.30" y="195.30" font-size="7.4" fill="#111" stroke="#111">CD4+ DCs</text>
<text x="136.60" y="207.30" fill="#111" stroke="#111">36</text>
<text x="136.80" y="212.60" fill="#999" stroke="#999">15</text>
<path d="M180.00,246.40 L180.00,245.40 L180.25,245.19 L180.50,244.96 L180.75,244.71 L181.00,244.44 L181.25,244.15 L181.50,243.84 L181.75,243.52 L182.00,243.17 L182.25,242.80 L182.50,242.39 L182.75,241.95 L183.00,241.45 L183.25,240.88 L183.50,240.23 L183.75,239.48 L184.00,238.62 L184.25,237.64 L184.50,236.53 L184.75,235.29 L185.00,233.95 L185.25,232.52 L185.50,231.04 L185.75,229.54 L186.00,228.08 L186.25,226.70 L186.50,225.45 L186.75,224.39 L187.00,223.56 L187.25,222.98 L187.50,222.69 L187.75,222.68 L188.00,222.96 L188.25,223.50 L188.50,224.28 L188.75,225.25 L189.00,226.38 L189.25,227.60 L189.50,228.89 L189.75,230.19 L190.00,231.46 L190.25,232.69 L190.50,233.85 L190.75,234.91 L191.00,235.89 L191.25,236.76 L191.50,237.55 L191.75,238.25 L192.00,238.87 L192.25,239.42 L192.50,239.91 L192.75,240.36 L193.00,240.76 L193.25,241.13 L193.50,241.47 L193.75,241.77 L194.00,242.06 L194.25,242.32 L194.50,242.56 L194.75,242.77 L195.00,242.97 L195.25,243.15 L195.50,243.31 L195.75,243.46 L196.00,243.59 L196.25,243.71 L196.50,243.81 L196.75,243.91 L197.00,243.99 L197.25,244.08 L197.50,244.15 L197.75,244.22 L198.00,244.30 L198.25,244.37 L198.50,244.43 L198.75,244.50 L199.00,244.58 L199.25,244.65 L199.50,244.72 L199.75,244.79 L200.00,244.87 L200.25,244.95 L200.50,245.02 L200.75,245.10 L201.00,245.18 L201.25,245.25 L201.50,245.33 L201.75,245.40 L202.00,245.46 L202.25,245.52 L202.50,245.58 L202.75,245.63 L203.00,245.66 L203.25,245.69 L203.50,245.69 L203.75,245.69 L204.00,245.65 L204.25,245.60 L204.50,245.51 L204.75,245.39 L205.00,245.23 L205.25,245.03 L205.50,244.77 L205.75,244.46 L206.00,244.08 L206.25,243.61 L206.50,242.99 L206.75,242.15 L207.00,240.97 L207.25,239.27 L207.50,236.85 L207.75,233.50 L208.00,229.09 L208.25,223.65 L208.50,217.46 L208.75,211.08 L209.00,205.26 L209.25,200.86 L209.50,198.59 L209.75,198.85 L210.00,201.60 L210.25,206.35 L210.50,212.36 L210.75,218.77 L211.00,224.85 L211.25,230.10 L211.50,234.31 L211.75,237.47 L212.00,239.74 L212.25,241.33 L212.50,242.45 L212.75,243.25 L213.00,243.85 L213.25,244.33 L213.50,244.72 L213.75,245.04 L214.00,245.31 L214.25,245.54 L214.50,245.73 L214.75,245.88 L215.00,246.01 L215.25,246.10 L215.50,246.18 L215.75,246.24 L216.00,246.28 L216.25,246.32 L216.50,246.34 L216.75,246.36 L217.00,246.37 L217.25,246.38 L217.50,246.39 L217.75,246.39 L218.00,246.39 L218.25,246.40 L218.50,246.40 L218.75,246.40 L219.00,246.40 L219.25,246.40 L219.50,246.40 L219.75,246.40 L220.00,246.40 L220.25,246.40 L220.50,246.40 L220.75,246.40 L221.00,246.40 L221.25,246.40 L221.50,246.40 L221.75,246.40 L222.00,246.40 L222.25,246.40 L222.50,246.40 L222.75,246.40 L223.00,246.40 L223.25,246.40 L223.50,246.40 L223.75,246.40 L224.00,246.40 L224.25,246.40 L224.50,246.40 L224.75,246.40 L225.00,246.40 L225.25,246.40 L225.50,246.40 L225.75,246.40 L226.00,246.40 L226.25,246.40 L226.50,246.40 L226.75,246.40 L227.00,246.40 L227.25,246.40 L227.50,246.40 L227.75,246.40 L228.00,246.40 L228.10,246.40 Z" fill="#f0f0f0" stroke="#999" stroke-width="0.5"/>
<path d="M180.00,246.40 L180.00,246.30 L180.25,246.28 L180.50,246.24 L180.75,246.20 L181.00,246.15 L181.25,246.08 L181.50,246.01 L181.75,245.91 L182.00,245.81 L182.25,245.68 L182.50,245.54 L182.75,245.38 L183.00,245.20 L183.25,245.01 L183.50,244.79 L183.75,244.56 L184.00,244.32 L184.25,244.06 L184.50,243.80 L184.75,243.54 L185.00,243.27 L185.25,243.02 L185.50,242.77 L185.75,242.54 L186.00,242.33 L186.25,242.15 L186.50,241.98 L186.75,241.84 L187.00,241.72 L187.25,241.62 L187.50,241.54 L187.75,241.47 L188.00,241.40 L188.25,241.34 L188.50,241.27 L188.75,241.18 L189.00,241.07 L189.25,240.94 L189.50,240.79 L189.75,240.60 L190.00,240.40 L190.25,240.17 L190.50,239.93 L190.75,239.68 L191.00,239.44 L191.25,239.22 L191.50,239.02 L191.75,238.86 L192.00,238.74 L192.25,238.68 L192.50,238.68 L192.75,238.74 L193.00,238.86 L193.25,239.03 L193.50,239.24 L193.75,239.49 L194.00,239.76 L194.25,240.03 L194.50,240.29 L194.75,240.53 L195.00,240.73 L195.25,240.89 L195.50,241.00 L195.75,241.06 L196.00,241.07 L196.25,241.04 L196.50,240.99 L196.75,240.92 L197.00,240.85 L197.25,240.79 L197.50,240.77 L197.75,240.80 L198.00,240.88 L198.25,241.03 L198.50,241.23 L198.75,241.49 L199.00,241.81 L199.25,242.16 L199.50,242.53 L199.75,242.92 L200.00,243.31 L200.25,243.68 L200.50,244.03 L200.75,244.34 L201.00,244.62 L201.25,244.85 L201.50,245.04 L201.75,245.17 L202.00,245.26 L202.25,245.29 L202.50,245.26 L202.75,245.16 L203.00,244.99 L203.25,244.73 L203.50,244.37 L203.75,243.89 L204.00,243.27 L204.25,242.50 L204.50,241.55 L204.75,240.41 L205.00,239.05 L205.25,237.48 L205.50,235.68 L205.75,233.67 L206.00,231.45 L206.25,229.04 L206.50,226.49 L206.75,223.83 L207.00,221.13 L207.25,218.45 L207.50,215.84 L207.75,213.40 L208.00,211.18 L208.25,209.25 L208.50,207.67 L208.75,206.49 L209.00,205.74 L209.25,205.43 L209.50,205.56 L209.75,206.12 L210.00,207.07 L210.25,208.38 L210.50,209.98 L210.75,211.83 L211.00,213.86 L211.25,216.00 L211.50,218.20 L211.75,220.41 L212.00,222.58 L212.25,224.68 L212.50,226.68 L212.75,228.56 L213.00,230.31 L213.25,231.93 L213.50,233.41 L213.75,234.77 L214.00,236.01 L214.25,237.13 L214.50,238.15 L214.75,239.08 L215.00,239.92 L215.25,240.68 L215.50,241.38 L215.75,242.01 L216.00,242.57 L216.25,243.09 L216.50,243.55 L216.75,243.96 L217.00,244.32 L217.25,244.64 L217.50,244.93 L217.75,245.17 L218.00,245.39 L218.25,245.57 L218.50,245.72 L218.75,245.85 L219.00,245.96 L219.25,246.05 L219.50,246.12 L219.75,246.18 L220.00,246.23 L220.25,246.27 L220.50,246.30 L220.75,246.32 L221.00,246.34 L221.25,246.36 L221.50,246.37 L221.75,246.38 L222.00,246.38 L222.25,246.39 L222.50,246.39 L222.75,246.39 L223.00,246.40 L223.25,246.40 L223.50,246.40 L223.75,246.40 L224.00,246.40 L224.25,246.40 L224.50,246.40 L224.75,246.40 L225.00,246.40 L225.25,246.40 L225.50,246.40 L225.75,246.40 L226.00,246.40 L226.25,246.40 L226.50,246.40 L226.75,246.40 L227.00,246.40 L227.25,246.40 L227.50,246.40 L227.75,246.40 L228.00,246.40 L228.10,246.40 Z" fill="#5f5f5f" stroke="#444" stroke-width="0.3" opacity="0.93"/>
<path d="M180.00,246.40 L180.00,245.40 L180.25,245.19 L180.50,244.96 L180.75,244.71 L181.00,244.44 L181.25,244.15 L181.50,243.84 L181.75,243.52 L182.00,243.17 L182.25,242.80 L182.50,242.39 L182.75,241.95 L183.00,241.45 L183.25,240.88 L183.50,240.23 L183.75,239.48 L184.00,238.62 L184.25,237.64 L184.50,236.53 L184.75,235.29 L185.00,233.95 L185.25,232.52 L185.50,231.04 L185.75,229.54 L186.00,228.08 L186.25,226.70 L186.50,225.45 L186.75,224.39 L187.00,223.56 L187.25,222.98 L187.50,222.69 L187.75,222.68 L188.00,222.96 L188.25,223.50 L188.50,224.28 L188.75,225.25 L189.00,226.38 L189.25,227.60 L189.50,228.89 L189.75,230.19 L190.00,231.46 L190.25,232.69 L190.50,233.85 L190.75,234.91 L191.00,235.89 L191.25,236.76 L191.50,237.55 L191.75,238.25 L192.00,238.87 L192.25,239.42 L192.50,239.91 L192.75,240.36 L193.00,240.76 L193.25,241.13 L193.50,241.47 L193.75,241.77 L194.00,242.06 L194.25,242.32 L194.50,242.56 L194.75,242.77 L195.00,242.97 L195.25,243.15 L195.50,243.31 L195.75,243.46 L196.00,243.59 L196.25,243.71 L196.50,243.81 L196.75,243.91 L197.00,243.99 L197.25,244.08 L197.50,244.15 L197.75,244.22 L198.00,244.30 L198.25,244.37 L198.50,244.43 L198.75,244.50 L199.00,244.58 L199.25,244.65 L199.50,244.72 L199.75,244.79 L200.00,244.87 L200.25,244.95 L200.50,245.02 L200.75,245.10 L201.00,245.18 L201.25,245.25 L201.50,245.33 L201.75,245.40 L202.00,245.46 L202.25,245.52 L202.50,245.58 L202.75,245.63 L203.00,245.66 L203.25,245.69 L203.50,245.69 L203.75,245.69 L204.00,245.65 L204.25,245.60 L204.50,245.51 L204.75,245.39 L205.00,245.23 L205.25,245.03 L205.50,244.77 L205.75,244.46 L206.00,244.08 L206.25,243.61 L206.50,242.99 L206.75,242.15 L207.00,240.97 L207.25,239.27 L207.50,236.85 L207.75,233.50 L208.00,229.09 L208.25,223.65 L208.50,217.46 L208.75,211.08 L209.00,205.26 L209.25,200.86 L209.50,198.59 L209.75,198.85 L210.00,201.60 L210.25,206.35 L210.50,212.36 L210.75,218.77 L211.00,224.85 L211.25,230.10 L211.50,234.31 L211.75,237.47 L212.00,239.74 L212.25,241.33 L212.50,242.45 L212.75,243.25 L213.00,243.85 L213.25,244.33 L213.50,244.72 L213.75,245.04 L214.00,245.31 L214.25,245.54 L214.50,245.73 L214.75,245.88 L215.00,246.01 L215.25,246.10 L215.50,246.18 L215.75,246.24 L216.00,246.28 L216.25,246.32 L216.50,246.34 L216.75,246.36 L217.00,246.37 L217.25,246.38 L217.50,246.39 L217.75,246.39 L218.00,246.39 L218.25,246.40 L218.50,246.40 L218.75,246.40 L219.00,246.40 L219.25,246.40 L219.50,246.40 L219.75,246.40 L220.00,246.40 L220.25,246.40 L220.50,246.40 L220.75,246.40 L221.00,246.40 L221.25,246.40 L221.50,246.40 L221.75,246.40 L222.00,246.40 L222.25,246.40 L222.50,246.40 L222.75,246.40 L223.00,246.40 L223.25,246.40 L223.50,246.40 L223.75,246.40 L224.00,246.40 L224.25,246.40 L224.50,246.40 L224.75,246.40 L225.00,246.40 L225.25,246.40 L225.50,246.40 L225.75,246.40 L226.00,246.40 L226.25,246.40 L226.50,246.40 L226.75,246.40 L227.00,246.40 L227.25,246.40 L227.50,246.40 L227.75,246.40 L228.00,246.40 L228.10,246.40 Z" fill="none" stroke="#aaa" stroke-width="0.45" opacity="0.8"/>
<rect x="179.50" y="197.40" width="49.10" height="49.30" fill="none" stroke="#aaa" stroke-width="0.6"/>
<line x1="202.30" y1="215.30" x2="220.10" y2="215.30" stroke="#555" stroke-width="0.6"/>
<text x="178.30" y="195.30" font-size="7.4" fill="#111" stroke="#111">CD8+ DCs</text>
<text x="194.70" y="207.30" fill="#111" stroke="#111">60</text>
<text x="194.90" y="212.60" fill="#999" stroke="#999">82</text>
<path d="M240.50,246.40 L240.50,246.39 L240.75,246.39 L241.00,246.38 L241.25,246.38 L241.50,246.36 L241.75,246.34 L242.00,246.31 L242.25,246.27 L242.50,246.21 L242.75,246.12 L243.00,246.00 L243.25,245.84 L243.50,245.62 L243.75,245.33 L244.00,244.95 L244.25,244.47 L244.50,243.87 L244.75,243.12 L245.00,242.20 L245.25,241.11 L245.50,239.83 L245.75,238.36 L246.00,236.69 L246.25,234.84 L246.50,232.84 L246.75,230.70 L247.00,228.49 L247.25,226.26 L247.50,224.06 L247.75,221.97 L248.00,220.07 L248.25,218.42 L248.50,217.08 L248.75,216.10 L249.00,215.54 L249.25,215.41 L249.50,215.71 L249.75,216.45 L250.00,217.57 L250.25,219.04 L250.50,220.81 L250.75,222.79 L251.00,224.93 L251.25,227.15 L251.50,229.38 L251.75,231.57 L252.00,233.66 L252.25,235.60 L252.50,237.38 L252.75,238.97 L253.00,240.37 L253.25,241.57 L253.50,242.59 L253.75,243.44 L254.00,244.13 L254.25,244.68 L254.50,245.12 L254.75,245.46 L255.00,245.72 L255.25,245.91 L255.50,246.06 L255.75,246.16 L256.00,246.24 L256.25,246.29 L256.50,246.33 L256.75,246.35 L257.00,246.37 L257.25,246.38 L257.50,246.39 L257.75,246.39 L258.00,246.40 L258.25,246.40 L258.50,246.40 L258.75,246.40 L259.00,246.40 L259.25,246.40 L259.50,246.40 L259.75,246.40 L260.00,246.40 L260.25,246.40 L260.50,246.40 L260.75,246.40 L261.00,246.40 L261.25,246.40 L261.50,246.40 L261.75,246.40 L262.00,246.40 L262.25,246.40 L262.50,246.40 L262.75,246.40 L263.00,246.40 L263.25,246.40 L263.50,246.40 L263.75,246.40 L264.00,246.40 L264.25,246.40 L264.50,246.40 L264.75,246.40 L265.00,246.39 L265.25,246.39 L265.50,246.38 L265.75,246.38 L266.00,246.36 L266.25,246.35 L266.50,246.33 L266.75,246.29 L267.00,246.25 L267.25,246.20 L267.50,246.12 L267.75,246.02 L268.00,245.90 L268.25,245.74 L268.50,245.54 L268.75,245.29 L269.00,245.00 L269.25,244.64 L269.50,244.21 L269.75,243.70 L270.00,243.09 L270.25,242.32 L270.50,241.34 L270.75,240.01 L271.00,238.19 L271.25,235.66 L271.50,232.22 L271.75,227.72 L272.00,222.14 L272.25,215.71 L272.50,208.94 L272.75,202.56 L273.00,197.41 L273.25,194.27 L273.50,193.61 L273.75,195.47 L274.00,199.46 L274.25,204.88 L274.50,210.88 L274.75,216.70 L275.00,221.79 L275.25,225.89 L275.50,228.97 L275.75,231.16 L276.00,232.68 L276.25,233.74 L276.50,234.53 L276.75,235.16 L277.00,235.72 L277.25,236.25 L277.50,236.79 L277.75,237.33 L278.00,237.89 L278.25,238.46 L278.50,239.04 L278.75,239.62 L279.00,240.20 L279.25,240.77 L279.50,241.33 L279.75,241.88 L280.00,242.39 L280.25,242.89 L280.50,243.34 L280.75,243.77 L281.00,244.15 L281.25,244.50 L281.50,244.81 L281.75,245.08 L282.00,245.31 L282.25,245.51 L282.50,245.69 L282.75,245.83 L283.00,245.95 L283.25,246.05 L283.50,246.13 L283.75,246.19 L284.00,246.24 L284.25,246.28 L284.50,246.31 L284.75,246.33 L285.00,246.35 L285.25,246.37 L285.50,246.38 L285.75,246.38 L286.00,246.39 L286.25,246.39 L286.50,246.39 L286.75,246.40 L287.00,246.40 L287.25,246.40 L287.50,246.40 L287.75,246.40 L288.00,246.40 L288.25,246.40 L288.50,246.40 L288.75,246.40 L288.90,246.40 Z" fill="#f0f0f0" stroke="#999" stroke-width="0.5"/>
<path d="M240.50,246.40 L240.50,246.38 L240.75,246.38 L241.00,246.38 L241.25,246.37 L241.50,246.36 L241.75,246.35 L242.00,246.33 L242.25,246.31 L242.50,246.27 L242.75,246.22 L243.00,246.15 L243.25,246.06 L243.50,245.92 L243.75,245.74 L244.00,245.50 L244.25,245.19 L244.50,244.78 L244.75,244.27 L245.00,243.63 L245.25,242.84 L245.50,241.88 L245.75,240.75 L246.00,239.42 L246.25,237.90 L246.50,236.19 L246.75,234.30 L247.00,232.25 L247.25,230.08 L247.50,227.83 L247.75,225.56 L248.00,223.33 L248.25,221.20 L248.50,219.23 L248.75,217.50 L249.00,216.06 L249.25,214.96 L249.50,214.23 L249.75,213.89 L250.00,213.96 L250.25,214.41 L250.50,215.22 L250.75,216.36 L251.00,217.76 L251.25,219.38 L251.50,221.15 L251.75,223.01 L252.00,224.92 L252.25,226.82 L252.50,228.67 L252.75,230.43 L253.00,232.09 L253.25,233.62 L253.50,235.02 L253.75,236.29 L254.00,237.43 L254.25,238.45 L254.50,239.35 L254.75,240.15 L255.00,240.85 L255.25,241.47 L255.50,242.01 L255.75,242.48 L256.00,242.90 L256.25,243.26 L256.50,243.57 L256.75,243.84 L257.00,244.07 L257.25,244.26 L257.50,244.42 L257.75,244.56 L258.00,244.67 L258.25,244.76 L258.50,244.82 L258.75,244.88 L259.00,244.92 L259.25,244.95 L259.50,244.97 L259.75,244.98 L260.00,244.99 L260.25,244.99 L260.50,245.00 L260.75,245.00 L261.00,245.00 L261.25,244.99 L261.50,244.99 L261.75,244.99 L262.00,245.00 L262.25,245.00 L262.50,245.00 L262.75,245.01 L263.00,245.01 L263.25,245.02 L263.50,245.03 L263.75,245.04 L264.00,245.04 L264.25,245.05 L264.50,245.06 L264.75,245.06 L265.00,245.05 L265.25,245.04 L265.50,245.00 L265.75,244.95 L266.00,244.87 L266.25,244.75 L266.50,244.57 L266.75,244.34 L267.00,244.02 L267.25,243.61 L267.50,243.09 L267.75,242.43 L268.00,241.63 L268.25,240.68 L268.50,239.56 L268.75,238.29 L269.00,236.85 L269.25,235.29 L269.50,233.61 L269.75,231.86 L270.00,230.09 L270.25,228.34 L270.50,226.68 L270.75,225.15 L271.00,223.81 L271.25,222.71 L271.50,221.88 L271.75,221.34 L272.00,221.09 L272.25,221.14 L272.50,221.45 L272.75,221.98 L273.00,222.70 L273.25,223.54 L273.50,224.46 L273.75,225.40 L274.00,226.32 L274.25,227.18 L274.50,227.96 L274.75,228.65 L275.00,229.25 L275.25,229.76 L275.50,230.20 L275.75,230.60 L276.00,230.98 L276.25,231.37 L276.50,231.78 L276.75,232.25 L277.00,232.78 L277.25,233.38 L277.50,234.06 L277.75,234.80 L278.00,235.60 L278.25,236.45 L278.50,237.32 L278.75,238.21 L279.00,239.09 L279.25,239.95 L279.50,240.77 L279.75,241.54 L280.00,242.26 L280.25,242.91 L280.50,243.49 L280.75,244.00 L281.00,244.45 L281.25,244.83 L281.50,245.15 L281.75,245.41 L282.00,245.63 L282.25,245.81 L282.50,245.95 L282.75,246.06 L283.00,246.14 L283.25,246.21 L283.50,246.26 L283.75,246.30 L284.00,246.33 L284.25,246.35 L284.50,246.36 L284.75,246.37 L285.00,246.38 L285.25,246.39 L285.50,246.39 L285.75,246.39 L286.00,246.39 L286.25,246.39 L286.50,246.40 L286.75,246.40 L287.00,246.40 L287.25,246.40 L287.50,246.40 L287.75,246.40 L288.00,246.40 L288.25,246.40 L288.50,246.40 L288.75,246.40 L288.90,246.40 Z" fill="#5f5f5f" stroke="#444" stroke-width="0.3" opacity="0.93"/>
<path d="M240.50,246.40 L240.50,246.39 L240.75,246.39 L241.00,246.38 L241.25,246.38 L241.50,246.36 L241.75,246.34 L242.00,246.31 L242.25,246.27 L242.50,246.21 L242.75,246.12 L243.00,246.00 L243.25,245.84 L243.50,245.62 L243.75,245.33 L244.00,244.95 L244.25,244.47 L244.50,243.87 L244.75,243.12 L245.00,242.20 L245.25,241.11 L245.50,239.83 L245.75,238.36 L246.00,236.69 L246.25,234.84 L246.50,232.84 L246.75,230.70 L247.00,228.49 L247.25,226.26 L247.50,224.06 L247.75,221.97 L248.00,220.07 L248.25,218.42 L248.50,217.08 L248.75,216.10 L249.00,215.54 L249.25,215.41 L249.50,215.71 L249.75,216.45 L250.00,217.57 L250.25,219.04 L250.50,220.81 L250.75,222.79 L251.00,224.93 L251.25,227.15 L251.50,229.38 L251.75,231.57 L252.00,233.66 L252.25,235.60 L252.50,237.38 L252.75,238.97 L253.00,240.37 L253.25,241.57 L253.50,242.59 L253.75,243.44 L254.00,244.13 L254.25,244.68 L254.50,245.12 L254.75,245.46 L255.00,245.72 L255.25,245.91 L255.50,246.06 L255.75,246.16 L256.00,246.24 L256.25,246.29 L256.50,246.33 L256.75,246.35 L257.00,246.37 L257.25,246.38 L257.50,246.39 L257.75,246.39 L258.00,246.40 L258.25,246.40 L258.50,246.40 L258.75,246.40 L259.00,246.40 L259.25,246.40 L259.50,246.40 L259.75,246.40 L260.00,246.40 L260.25,246.40 L260.50,246.40 L260.75,246.40 L261.00,246.40 L261.25,246.40 L261.50,246.40 L261.75,246.40 L262.00,246.40 L262.25,246.40 L262.50,246.40 L262.75,246.40 L263.00,246.40 L263.25,246.40 L263.50,246.40 L263.75,246.40 L264.00,246.40 L264.25,246.40 L264.50,246.40 L264.75,246.40 L265.00,246.39 L265.25,246.39 L265.50,246.38 L265.75,246.38 L266.00,246.36 L266.25,246.35 L266.50,246.33 L266.75,246.29 L267.00,246.25 L267.25,246.20 L267.50,246.12 L267.75,246.02 L268.00,245.90 L268.25,245.74 L268.50,245.54 L268.75,245.29 L269.00,245.00 L269.25,244.64 L269.50,244.21 L269.75,243.70 L270.00,243.09 L270.25,242.32 L270.50,241.34 L270.75,240.01 L271.00,238.19 L271.25,235.66 L271.50,232.22 L271.75,227.72 L272.00,222.14 L272.25,215.71 L272.50,208.94 L272.75,202.56 L273.00,197.41 L273.25,194.27 L273.50,193.61 L273.75,195.47 L274.00,199.46 L274.25,204.88 L274.50,210.88 L274.75,216.70 L275.00,221.79 L275.25,225.89 L275.50,228.97 L275.75,231.16 L276.00,232.68 L276.25,233.74 L276.50,234.53 L276.75,235.16 L277.00,235.72 L277.25,236.25 L277.50,236.79 L277.75,237.33 L278.00,237.89 L278.25,238.46 L278.50,239.04 L278.75,239.62 L279.00,240.20 L279.25,240.77 L279.50,241.33 L279.75,241.88 L280.00,242.39 L280.25,242.89 L280.50,243.34 L280.75,243.77 L281.00,244.15 L281.25,244.50 L281.50,244.81 L281.75,245.08 L282.00,245.31 L282.25,245.51 L282.50,245.69 L282.75,245.83 L283.00,245.95 L283.25,246.05 L283.50,246.13 L283.75,246.19 L284.00,246.24 L284.25,246.28 L284.50,246.31 L284.75,246.33 L285.00,246.35 L285.25,246.37 L285.50,246.38 L285.75,246.38 L286.00,246.39 L286.25,246.39 L286.50,246.39 L286.75,246.40 L287.00,246.40 L287.25,246.40 L287.50,246.40 L287.75,246.40 L288.00,246.40 L288.25,246.40 L288.50,246.40 L288.75,246.40 L288.90,246.40 Z" fill="none" stroke="#aaa" stroke-width="0.45" opacity="0.8"/>
<rect x="240.00" y="197.40" width="49.40" height="49.30" fill="none" stroke="#aaa" stroke-width="0.6"/>
<line x1="264.00" y1="215.30" x2="282.20" y2="215.30" stroke="#555" stroke-width="0.6"/>
<text x="239.60" y="195.30" font-size="7.4" fill="#111" stroke="#111">DN DCs</text>
<text x="261.00" y="207.30" fill="#111" stroke="#111">55</text>
<text x="261.20" y="212.60" fill="#999" stroke="#999">52</text>
<text x="7.90" y="203.00" fill="#111" stroke="#111">miR-142<tspan font-size="4.2" dy="-2.6" style="stroke-width:0.06px">+/+</tspan></text>
<text x="7.90" y="212.30" fill="#999" stroke="#999">miR-142<tspan font-size="4.2" dy="-2.6" style="stroke-width:0.06px">-/-</tspan></text>
<text x="0.00" y="0.00" fill="#111" stroke="#111" transform="translate(46.30,231.20) rotate(-90)">% of max</text>
<line x1="46.80" y1="232.50" x2="46.80" y2="249.20" stroke="#999" stroke-width="0.6"/>
<line x1="46.80" y1="249.20" x2="235.60" y2="249.20" stroke="#999" stroke-width="0.6"/>
<text x="237.30" y="256.60" font-size="7.4" fill="#111" stroke="#111">CD45.2</text>
<line x1="30.30" y1="369.70" x2="33.50" y2="369.70" stroke="#111" stroke-width="0.9"/>
<text x="24.80" y="372.10" text-anchor="end" fill="#111" stroke="#111">0</text>
<line x1="30.30" y1="355.70" x2="33.50" y2="355.70" stroke="#111" stroke-width="0.9"/>
<text x="24.80" y="358.10" text-anchor="end" fill="#111" stroke="#111">1</text>
<line x1="30.30" y1="341.70" x2="33.50" y2="341.70" stroke="#111" stroke-width="0.9"/>
<text x="24.80" y="344.10" text-anchor="end" fill="#111" stroke="#111">2</text>
<line x1="30.30" y1="327.70" x2="33.50" y2="327.70" stroke="#111" stroke-width="0.9"/>
<text x="24.80" y="330.10" text-anchor="end" fill="#111" stroke="#111">3</text>
<line x1="30.30" y1="313.70" x2="33.50" y2="313.70" stroke="#111" stroke-width="0.9"/>
<text x="24.80" y="316.10" text-anchor="end" fill="#111" stroke="#111">4</text>
<line x1="30.30" y1="299.70" x2="33.50" y2="299.70" stroke="#111" stroke-width="0.9"/>
<text x="24.80" y="302.10" text-anchor="end" fill="#111" stroke="#111">5</text>
<line x1="30.30" y1="285.70" x2="33.50" y2="285.70" stroke="#111" stroke-width="0.9"/>
<text x="24.80" y="288.10" text-anchor="end" fill="#111" stroke="#111">6</text>
<line x1="30.30" y1="271.70" x2="33.50" y2="271.70" stroke="#111" stroke-width="0.9"/>
<text x="24.80" y="274.10" text-anchor="end" fill="#111" stroke="#111">7</text>
<line x1="33.50" y1="271.20" x2="33.50" y2="370.50" stroke="#111" stroke-width="1.7"/>
<line x1="32.70" y1="369.70" x2="179.70" y2="369.70" stroke="#111" stroke-width="1.8"/>
<text x="0.00" y="0.00" font-size="7.25" text-anchor="middle" fill="#111" stroke="#111" transform="translate(15.90,318.70) rotate(-90)">Ratio (CD45.1/CD45.2)</text>
<line x1="41.90" y1="369.70" x2="41.90" y2="372.50" stroke="#111" stroke-width="1.3"/>
<text x="41.90" y="378.80" text-anchor="middle" fill="#111" stroke="#111">wt</text>
<line x1="60.30" y1="369.70" x2="60.30" y2="372.50" stroke="#111" stroke-width="1.3"/>
<text x="60.30" y="378.80" text-anchor="middle" fill="#111" stroke="#111">ko</text>
<line x1="78.60" y1="369.70" x2="78.60" y2="372.50" stroke="#111" stroke-width="1.3"/>
<text x="78.60" y="378.80" text-anchor="middle" fill="#111" stroke="#111">wt</text>
<line x1="97.00" y1="369.70" x2="97.00" y2="372.50" stroke="#111" stroke-width="1.3"/>
<text x="97.00" y="378.80" text-anchor="middle" fill="#111" stroke="#111">ko</text>
<line x1="115.30" y1="369.70" x2="115.30" y2="372.50" stroke="#111" stroke-width="1.3"/>
<text x="115.30" y="378.80" text-anchor="middle" fill="#111" stroke="#111">wt</text>
<line x1="133.70" y1="369.70" x2="133.70" y2="372.50" stroke="#111" stroke-width="1.3"/>
<text x="133.70" y="378.80" text-anchor="middle" fill="#111" stroke="#111">ko</text>
<line x1="151.80" y1="369.70" x2="151.80" y2="372.50" stroke="#111" stroke-width="1.3"/>
<text x="151.80" y="378.80" text-anchor="middle" fill="#111" stroke="#111">wt</text>
<line x1="170.20" y1="369.70" x2="170.20" y2="372.50" stroke="#111" stroke-width="1.3"/>
<text x="170.20" y="378.80" text-anchor="middle" fill="#111" stroke="#111">ko</text>
<line x1="39.20" y1="383.10" x2="60.80" y2="383.10" stroke="#888" stroke-width="0.6"/>
<line x1="76.20" y1="383.10" x2="96.90" y2="383.10" stroke="#888" stroke-width="0.6"/>
<line x1="113.50" y1="383.10" x2="135.00" y2="383.10" stroke="#888" stroke-width="0.6"/>
<line x1="149.60" y1="383.10" x2="171.20" y2="383.10" stroke="#888" stroke-width="0.6"/>
<text x="0.00" y="0.00" text-anchor="end" fill="#111" stroke="#111" transform="translate(52.10,385.60) rotate(-90)">Total DCs</text>
<text x="0.00" y="0.00" text-anchor="end" fill="#111" stroke="#111" transform="translate(87.80,385.60) rotate(-90)">CD4+ DCs</text>
<text x="0.00" y="0.00" text-anchor="end" fill="#111" stroke="#111" transform="translate(127.10,385.60) rotate(-90)">CD8+ DCs</text>
<text x="0.00" y="0.00" text-anchor="end" fill="#111" stroke="#111" transform="translate(162.50,385.60) rotate(-90)">DN DCs</text>
<rect x="40.20" y="335.00" width="4.20" height="4.20" fill="#111" stroke="none" stroke-width="1"/>
<rect x="36.90" y="347.40" width="4.20" height="4.20" fill="#111" stroke="none" stroke-width="1"/>
<rect x="43.60" y="347.90" width="4.20" height="4.20" fill="#111" stroke="none" stroke-width="1"/>
<rect x="39.90" y="350.90" width="4.20" height="4.20" fill="#111" stroke="none" stroke-width="1"/>
<rect x="52.75" y="340.65" width="3.70" height="3.70" fill="#fff" stroke="#111" stroke-width="1.3"/>
<rect x="58.65" y="340.65" width="3.70" height="3.70" fill="#fff" stroke="#111" stroke-width="1.3"/>
<rect x="61.95" y="339.55" width="3.70" height="3.70" fill="#fff" stroke="#111" stroke-width="1.3"/>
<rect x="62.15" y="346.85" width="3.70" height="3.70" fill="#fff" stroke="#111" stroke-width="1.3"/>
<rect x="58.75" y="349.45" width="3.70" height="3.70" fill="#fff" stroke="#111" stroke-width="1.3"/>
<rect x="76.50" y="326.90" width="4.20" height="4.20" fill="#111" stroke="none" stroke-width="1"/>
<rect x="70.80" y="341.50" width="4.20" height="4.20" fill="#111" stroke="none" stroke-width="1"/>
<rect x="76.70" y="341.50" width="4.20" height="4.20" fill="#111" stroke="none" stroke-width="1"/>
<rect x="76.70" y="347.90" width="4.20" height="4.20" fill="#111" stroke="none" stroke-width="1"/>
<rect x="92.25" y="279.05" width="3.70" height="3.70" fill="#fff" stroke="#111" stroke-width="1.3"/>
<rect x="98.25" y="279.05" width="3.70" height="3.70" fill="#fff" stroke="#111" stroke-width="1.3"/>
<rect x="95.35" y="283.35" width="3.70" height="3.70" fill="#fff" stroke="#111" stroke-width="1.3"/>
<rect x="95.35" y="303.65" width="3.70" height="3.70" fill="#fff" stroke="#111" stroke-width="1.3"/>
<rect x="95.35" y="314.05" width="3.70" height="3.70" fill="#fff" stroke="#111" stroke-width="1.3"/>
<rect x="112.90" y="347.50" width="4.20" height="4.20" fill="#111" stroke="none" stroke-width="1"/>
<rect x="109.60" y="354.60" width="4.20" height="4.20" fill="#111" stroke="none" stroke-width="1"/>
<rect x="116.50" y="355.20" width="4.20" height="4.20" fill="#111" stroke="none" stroke-width="1"/>
<rect x="112.90" y="357.10" width="4.20" height="4.20" fill="#111" stroke="none" stroke-width="1"/>
<rect x="128.75" y="363.15" width="3.70" height="3.70" fill="#fff" stroke="#111" stroke-width="1.3"/>
<rect x="131.35" y="361.95" width="3.70" height="3.70" fill="#fff" stroke="#111" stroke-width="1.3"/>
<rect x="134.15" y="363.35" width="3.70" height="3.70" fill="#fff" stroke="#111" stroke-width="1.3"/>
<rect x="131.55" y="364.35" width="3.70" height="3.70" fill="#fff" stroke="#111" stroke-width="1.3"/>
<rect x="129.95" y="364.15" width="3.70" height="3.70" fill="#fff" stroke="#111" stroke-width="1.3"/>
<rect x="149.60" y="345.40" width="4.20" height="4.20" fill="#111" stroke="none" stroke-width="1"/>
<rect x="146.00" y="353.30" width="4.20" height="4.20" fill="#111" stroke="none" stroke-width="1"/>
<rect x="152.50" y="355.40" width="4.20" height="4.20" fill="#111" stroke="none" stroke-width="1"/>
<rect x="149.10" y="357.00" width="4.20" height="4.20" fill="#111" stroke="none" stroke-width="1"/>
<rect x="166.35" y="352.35" width="3.70" height="3.70" fill="#fff" stroke="#111" stroke-width="1.3"/>
<rect x="170.45" y="354.35" width="3.70" height="3.70" fill="#fff" stroke="#111" stroke-width="1.3"/>
<rect x="164.35" y="355.45" width="3.70" height="3.70" fill="#fff" stroke="#111" stroke-width="1.3"/>
<rect x="168.15" y="358.15" width="3.70" height="3.70" fill="#fff" stroke="#111" stroke-width="1.3"/>
<rect x="171.15" y="357.35" width="3.70" height="3.70" fill="#fff" stroke="#111" stroke-width="1.3"/>
<line x1="37.00" y1="347.40" x2="47.80" y2="347.40" stroke="#111" stroke-width="1.25"/>
<line x1="70.90" y1="341.50" x2="84.70" y2="341.50" stroke="#111" stroke-width="1.25"/>
<line x1="90.00" y1="293.50" x2="103.00" y2="293.50" stroke="#111" stroke-width="1.25"/>
<line x1="109.40" y1="355.40" x2="120.50" y2="355.40" stroke="#111" stroke-width="1.25"/>
<line x1="127.50" y1="365.20" x2="139.20" y2="365.20" stroke="#111" stroke-width="1.25"/>
<line x1="145.40" y1="354.50" x2="157.70" y2="354.50" stroke="#111" stroke-width="1.25"/>
<line x1="163.50" y1="357.30" x2="176.00" y2="357.30" stroke="#111" stroke-width="1.25"/>
<path d="M78.5,307.5 L78.5,273.3 L97.7,273.3" fill="none" stroke="#888" stroke-width="0.8"/>
<circle cx="88.3" cy="270.7" r="0.85" fill="#222"/>
<path d="M116.4,340.7 L133.6,340.7 L133.6,354.8" fill="none" stroke="#888" stroke-width="0.8"/>
<circle cx="125.6" cy="338.2" r="0.85" fill="#222"/>
<line x1="206.90" y1="273.60" x2="206.90" y2="369.80" stroke="#7a7a7a" stroke-width="0.9"/>
<line x1="206.10" y1="369.00" x2="311.30" y2="369.00" stroke="#111" stroke-width="1.7"/>
<line x1="204.80" y1="274.10" x2="206.90" y2="274.10" stroke="#222" stroke-width="1.0"/>
<text x="203.00" y="276.50" text-anchor="end" fill="#111" stroke="#111">1</text>
<line x1="205.60" y1="297.90" x2="206.90" y2="297.90" stroke="#222" stroke-width="1.0"/>
<line x1="204.80" y1="321.70" x2="206.90" y2="321.70" stroke="#222" stroke-width="1.0"/>
<text x="203.00" y="324.10" text-anchor="end" fill="#111" stroke="#111">0.5</text>
<line x1="205.60" y1="345.50" x2="206.90" y2="345.50" stroke="#222" stroke-width="1.0"/>
<line x1="204.80" y1="369.30" x2="206.90" y2="369.30" stroke="#222" stroke-width="1.0"/>
<text x="203.00" y="371.70" text-anchor="end" fill="#111" stroke="#111">0</text>
<text x="0.00" y="0.00" text-anchor="middle" fill="#111" stroke="#111" transform="translate(192.70,318.50) rotate(-90)">Ratio (CD45.1/CD45.2)</text>
<rect x="210.45" y="323.50" width="11.00" height="45.80" fill="#fff" stroke="#777" stroke-width="0.9"/>
<line x1="210.00" y1="323.50" x2="221.90" y2="323.50" stroke="#111" stroke-width="1.5"/>
<line x1="215.95" y1="323.50" x2="215.95" y2="316.30" stroke="#666" stroke-width="0.8"/>
<line x1="212.85" y1="316.30" x2="219.05" y2="316.30" stroke="#111" stroke-width="1.3"/>
<line x1="215.95" y1="369.30" x2="215.95" y2="371.50" stroke="#888" stroke-width="0.8"/>
<text x="0.00" y="0.00" text-anchor="end" fill="#111" stroke="#111" transform="translate(218.55,373.30) rotate(-90)">MP</text>
<rect x="227.85" y="337.20" width="11.00" height="32.10" fill="#fff" stroke="#777" stroke-width="0.9"/>
<line x1="227.40" y1="337.20" x2="239.30" y2="337.20" stroke="#111" stroke-width="1.5"/>
<line x1="233.35" y1="337.20" x2="233.35" y2="335.50" stroke="#666" stroke-width="0.8"/>
<line x1="230.25" y1="335.50" x2="236.45" y2="335.50" stroke="#111" stroke-width="1.3"/>
<line x1="233.35" y1="369.30" x2="233.35" y2="371.50" stroke="#888" stroke-width="0.8"/>
<text x="0.00" y="0.00" text-anchor="end" fill="#111" stroke="#111" transform="translate(235.95,373.30) rotate(-90)">MDP</text>
<rect x="245.15" y="330.50" width="11.00" height="38.80" fill="#fff" stroke="#777" stroke-width="0.9"/>
<line x1="244.70" y1="330.50" x2="256.60" y2="330.50" stroke="#111" stroke-width="1.5"/>
<line x1="250.65" y1="330.50" x2="250.65" y2="322.20" stroke="#666" stroke-width="0.8"/>
<line x1="247.55" y1="322.20" x2="253.75" y2="322.20" stroke="#111" stroke-width="1.3"/>
<line x1="250.65" y1="369.30" x2="250.65" y2="371.50" stroke="#888" stroke-width="0.8"/>
<text x="0.00" y="0.00" text-anchor="end" fill="#111" stroke="#111" transform="translate(253.25,373.30) rotate(-90)">CDP</text>
<rect x="262.75" y="294.70" width="11.00" height="74.60" fill="#fff" stroke="#777" stroke-width="0.9"/>
<line x1="262.30" y1="294.70" x2="274.20" y2="294.70" stroke="#111" stroke-width="1.5"/>
<line x1="268.25" y1="294.70" x2="268.25" y2="290.00" stroke="#666" stroke-width="0.8"/>
<line x1="265.15" y1="290.00" x2="271.35" y2="290.00" stroke="#111" stroke-width="1.3"/>
<line x1="268.25" y1="369.30" x2="268.25" y2="371.50" stroke="#888" stroke-width="0.8"/>
<text x="0.00" y="0.00" text-anchor="end" fill="#111" stroke="#111" transform="translate(270.85,373.30) rotate(-90)">pre-DC</text>
<rect x="280.05" y="289.40" width="11.00" height="79.90" fill="#fff" stroke="#777" stroke-width="0.9"/>
<line x1="279.60" y1="289.40" x2="291.50" y2="289.40" stroke="#111" stroke-width="1.5"/>
<line x1="285.55" y1="289.40" x2="285.55" y2="281.80" stroke="#666" stroke-width="0.8"/>
<line x1="282.45" y1="281.80" x2="288.65" y2="281.80" stroke="#111" stroke-width="1.3"/>
<line x1="285.55" y1="369.30" x2="285.55" y2="371.50" stroke="#888" stroke-width="0.8"/>
<text x="0.00" y="0.00" text-anchor="end" fill="#111" stroke="#111" transform="translate(288.15,373.30) rotate(-90)">CD4+ DC</text>
<rect x="297.45" y="311.80" width="11.00" height="57.50" fill="#fff" stroke="#777" stroke-width="0.9"/>
<line x1="297.00" y1="311.80" x2="308.90" y2="311.80" stroke="#111" stroke-width="1.5"/>
<line x1="302.95" y1="311.80" x2="302.95" y2="303.00" stroke="#666" stroke-width="0.8"/>
<line x1="299.85" y1="303.00" x2="306.05" y2="303.00" stroke="#111" stroke-width="1.3"/>
<line x1="302.95" y1="369.30" x2="302.95" y2="371.50" stroke="#888" stroke-width="0.8"/>
<text x="0.00" y="0.00" text-anchor="end" fill="#111" stroke="#111" transform="translate(305.55,373.30) rotate(-90)">CD8+ DC</text>
<line x1="212.00" y1="408.00" x2="271.30" y2="408.00" stroke="#888" stroke-width="0.6"/>
<line x1="280.00" y1="408.00" x2="307.50" y2="408.00" stroke="#888" stroke-width="0.6"/>
<text x="241.80" y="416.30" text-anchor="middle" fill="#111" stroke="#111">bone marrow</text>
<text x="293.80" y="416.40" text-anchor="middle" fill="#111" stroke="#111">SDLN</text>
<text x="329.00" y="11.20" font-size="11.4" fill="#000" stroke="#000" font-weight="bold">C</text>
<text x="368.20" y="17.70" font-size="7.15" fill="#111" stroke="#111">gated on CD4+ CD11c<tspan font-size="4.4" dy="-2.6" style="stroke-width:0.06px">high</tspan><tspan dy="2.6"> cells</tspan></text>
<line x1="370.80" y1="27.30" x2="370.80" y2="53.60" stroke="#111" stroke-width="1.7"/>
<line x1="366.60" y1="27.80" x2="371.60" y2="27.80" stroke="#111" stroke-width="1.4"/>
<text x="364.80" y="30.20" text-anchor="end" fill="#111" stroke="#111">20000</text>
<line x1="366.60" y1="40.40" x2="371.60" y2="40.40" stroke="#111" stroke-width="1.4"/>
<text x="364.80" y="42.80" text-anchor="end" fill="#111" stroke="#111">15000</text>
<line x1="366.60" y1="53.10" x2="371.60" y2="53.10" stroke="#111" stroke-width="1.4"/>
<text x="364.80" y="55.50" text-anchor="end" fill="#111" stroke="#111">10000</text>
<line x1="370.80" y1="67.10" x2="370.80" y2="125.80" stroke="#111" stroke-width="1.7"/>
<line x1="366.60" y1="125.80" x2="371.60" y2="125.80" stroke="#111" stroke-width="1.4"/>
<text x="364.80" y="128.20" text-anchor="end" fill="#111" stroke="#111">0</text>
<line x1="366.60" y1="111.25" x2="371.60" y2="111.25" stroke="#111" stroke-width="1.4"/>
<text x="364.80" y="113.65" text-anchor="end" fill="#111" stroke="#111">1000</text>
<line x1="366.60" y1="96.70" x2="371.60" y2="96.70" stroke="#111" stroke-width="1.4"/>
<text x="364.80" y="99.10" text-anchor="end" fill="#111" stroke="#111">2000</text>
<line x1="366.60" y1="82.15" x2="371.60" y2="82.15" stroke="#111" stroke-width="1.4"/>
<text x="364.80" y="84.55" text-anchor="end" fill="#111" stroke="#111">3000</text>
<line x1="366.60" y1="67.60" x2="371.60" y2="67.60" stroke="#111" stroke-width="1.4"/>
<text x="364.80" y="70.00" text-anchor="end" fill="#111" stroke="#111">4000</text>
<line x1="370.00" y1="125.80" x2="517.50" y2="125.80" stroke="#111" stroke-width="1.7"/>
<text x="0.00" y="0.00" fill="#111" stroke="#111" transform="translate(341.10,80.80) rotate(-90)">MFI</text>
<rect x="373.80" y="108.70" width="17.60" height="17.10" fill="#111" stroke="none" stroke-width="1"/>
<rect x="399.10" y="102.70" width="15.80" height="23.10" fill="#fff" stroke="#111" stroke-width="1.6"/>
<line x1="407.00" y1="99.80" x2="407.00" y2="101.90" stroke="#111" stroke-width="0.9"/>
<line x1="403.30" y1="99.80" x2="410.70" y2="99.80" stroke="#111" stroke-width="1.3"/>
<line x1="382.60" y1="125.80" x2="382.60" y2="128.10" stroke="#111" stroke-width="0.8"/>
<line x1="407.00" y1="125.80" x2="407.00" y2="128.10" stroke="#111" stroke-width="0.8"/>
<rect x="422.85" y="105.60" width="17.60" height="20.20" fill="#111" stroke="none" stroke-width="1"/>
<line x1="431.65" y1="104.40" x2="431.65" y2="105.60" stroke="#111" stroke-width="0.9"/>
<line x1="428.25" y1="104.40" x2="435.05" y2="104.40" stroke="#111" stroke-width="1.2"/>
<rect x="448.15" y="83.30" width="15.80" height="42.50" fill="#fff" stroke="#111" stroke-width="1.6"/>
<line x1="456.05" y1="78.70" x2="456.05" y2="82.50" stroke="#111" stroke-width="0.9"/>
<line x1="452.35" y1="78.70" x2="459.75" y2="78.70" stroke="#111" stroke-width="1.3"/>
<line x1="431.65" y1="125.80" x2="431.65" y2="128.10" stroke="#111" stroke-width="0.8"/>
<line x1="456.05" y1="125.80" x2="456.05" y2="128.10" stroke="#111" stroke-width="0.8"/>
<rect x="471.90" y="49.20" width="17.60" height="4.90" fill="#111" stroke="none" stroke-width="1"/>
<rect x="471.90" y="65.80" width="17.60" height="60.00" fill="#111" stroke="none" stroke-width="1"/>
<path d="M497.20,54.10 L497.20,43.50 L513.00,43.50 L513.00,54.10" fill="none" stroke="#111" stroke-width="1.6"/>
<line x1="505.10" y1="40.20" x2="505.10" y2="42.70" stroke="#111" stroke-width="0.9"/>
<line x1="501.40" y1="40.20" x2="508.80" y2="40.20" stroke="#111" stroke-width="1.3"/>
<path d="M497.20,65.80 L497.20,125.80 M513.00,65.80 L513.00,125.80" fill="none" stroke="#111" stroke-width="1.6"/>
<line x1="480.70" y1="125.80" x2="480.70" y2="128.10" stroke="#111" stroke-width="0.8"/>
<line x1="505.10" y1="125.80" x2="505.10" y2="128.10" stroke="#111" stroke-width="0.8"/>
<path d="M382.3,101.3 L382.3,86.9 L406.5,86.9" fill="none" stroke="#888" stroke-width="0.8"/>
<circle cx="394.90" cy="84.40" r="0.85" fill="#222"/>
<path d="M431.5,87.3 L431.5,73.8 L454.6,73.8" fill="none" stroke="#888" stroke-width="0.8"/>
<circle cx="443.55" cy="71.50" r="0.85" fill="#222"/>
<line x1="380.40" y1="131.10" x2="409.80" y2="131.10" stroke="#999" stroke-width="0.6"/>
<text x="394.40" y="138.80" font-size="7.4" text-anchor="middle" fill="#111" stroke="#111">CD40</text>
<line x1="428.00" y1="131.10" x2="458.00" y2="131.10" stroke="#999" stroke-width="0.6"/>
<text x="442.70" y="138.80" font-size="7.4" text-anchor="middle" fill="#111" stroke="#111">CD80</text>
<line x1="476.70" y1="131.10" x2="507.50" y2="131.10" stroke="#999" stroke-width="0.6"/>
<text x="491.50" y="138.80" font-size="7.4" text-anchor="middle" fill="#111" stroke="#111">MHCII</text>
<rect x="376.00" y="34.10" width="14.20" height="3.30" fill="#fff" stroke="#999" stroke-width="0.8"/>
<rect x="375.60" y="43.30" width="15.00" height="4.00" fill="#111" stroke="none" stroke-width="1"/>
<text x="393.50" y="38.00" font-size="7.3" fill="#111" stroke="#111">CD45.2 (miR142<tspan font-size="4.6" dy="-2.7" style="stroke-width:0.06px">-/-</tspan><tspan dy="2.7">)</tspan></text>
<text x="393.50" y="47.70" font-size="7.3" fill="#111" stroke="#111">CD45.1 (miR142<tspan font-size="4.6" dy="-2.7" style="stroke-width:0.06px">+/+</tspan><tspan dy="2.7">)</tspan></text>
<text x="369.80" y="154.50" font-size="7.15" fill="#111" stroke="#111">gated on CD8+ CD11c<tspan font-size="4.4" dy="-2.6" style="stroke-width:0.06px">high</tspan><tspan dy="2.6"> cells</tspan></text>
<line x1="370.80" y1="160.30" x2="370.80" y2="187.00" stroke="#111" stroke-width="1.7"/>
<line x1="366.60" y1="160.80" x2="371.60" y2="160.80" stroke="#111" stroke-width="1.4"/>
<text x="364.80" y="163.20" text-anchor="end" fill="#111" stroke="#111">20000</text>
<line x1="366.60" y1="173.70" x2="371.60" y2="173.70" stroke="#111" stroke-width="1.4"/>
<text x="364.80" y="176.10" text-anchor="end" fill="#111" stroke="#111">15000</text>
<line x1="366.60" y1="186.50" x2="371.60" y2="186.50" stroke="#111" stroke-width="1.4"/>
<text x="364.80" y="188.90" text-anchor="end" fill="#111" stroke="#111">10000</text>
<line x1="370.80" y1="199.90" x2="370.80" y2="258.80" stroke="#111" stroke-width="1.7"/>
<line x1="366.60" y1="258.80" x2="371.60" y2="258.80" stroke="#111" stroke-width="1.4"/>
<text x="364.80" y="261.20" text-anchor="end" fill="#111" stroke="#111">0</text>
<line x1="366.60" y1="244.20" x2="371.60" y2="244.20" stroke="#111" stroke-width="1.4"/>
<text x="364.80" y="246.60" text-anchor="end" fill="#111" stroke="#111">1000</text>
<line x1="366.60" y1="229.60" x2="371.60" y2="229.60" stroke="#111" stroke-width="1.4"/>
<text x="364.80" y="232.00" text-anchor="end" fill="#111" stroke="#111">2000</text>
<line x1="366.60" y1="215.00" x2="371.60" y2="215.00" stroke="#111" stroke-width="1.4"/>
<text x="364.80" y="217.40" text-anchor="end" fill="#111" stroke="#111">3000</text>
<line x1="366.60" y1="200.40" x2="371.60" y2="200.40" stroke="#111" stroke-width="1.4"/>
<text x="364.80" y="202.80" text-anchor="end" fill="#111" stroke="#111">4000</text>
<line x1="370.00" y1="258.80" x2="517.50" y2="258.80" stroke="#111" stroke-width="1.7"/>
<text x="0.00" y="0.00" fill="#111" stroke="#111" transform="translate(341.10,213.60) rotate(-90)">MFI</text>
<rect x="373.80" y="246.00" width="17.60" height="12.80" fill="#111" stroke="none" stroke-width="1"/>
<rect x="399.10" y="242.00" width="15.80" height="16.80" fill="#fff" stroke="#111" stroke-width="1.6"/>
<line x1="407.00" y1="240.40" x2="407.00" y2="241.20" stroke="#111" stroke-width="0.9"/>
<line x1="403.30" y1="240.40" x2="410.70" y2="240.40" stroke="#111" stroke-width="1.3"/>
<line x1="382.60" y1="258.80" x2="382.60" y2="261.10" stroke="#111" stroke-width="0.8"/>
<line x1="407.00" y1="258.80" x2="407.00" y2="261.10" stroke="#111" stroke-width="0.8"/>
<rect x="422.85" y="228.50" width="17.60" height="30.30" fill="#111" stroke="none" stroke-width="1"/>
<rect x="448.15" y="214.30" width="15.80" height="44.50" fill="#fff" stroke="#111" stroke-width="1.6"/>
<line x1="456.05" y1="210.60" x2="456.05" y2="213.50" stroke="#111" stroke-width="0.9"/>
<line x1="452.35" y1="210.60" x2="459.75" y2="210.60" stroke="#111" stroke-width="1.3"/>
<line x1="431.65" y1="258.80" x2="431.65" y2="261.10" stroke="#111" stroke-width="0.8"/>
<line x1="456.05" y1="258.80" x2="456.05" y2="261.10" stroke="#111" stroke-width="0.8"/>
<rect x="471.90" y="177.90" width="17.60" height="9.60" fill="#111" stroke="none" stroke-width="1"/>
<rect x="471.90" y="199.00" width="17.60" height="59.80" fill="#111" stroke="none" stroke-width="1"/>
<path d="M497.20,187.50 L497.20,175.20 L513.00,175.20 L513.00,187.50" fill="none" stroke="#111" stroke-width="1.6"/>
<line x1="505.10" y1="171.70" x2="505.10" y2="174.40" stroke="#111" stroke-width="0.9"/>
<line x1="501.40" y1="171.70" x2="508.80" y2="171.70" stroke="#111" stroke-width="1.3"/>
<path d="M497.20,199.00 L497.20,258.80 M513.00,199.00 L513.00,258.80" fill="none" stroke="#111" stroke-width="1.6"/>
<line x1="480.70" y1="258.80" x2="480.70" y2="261.10" stroke="#111" stroke-width="0.8"/>
<line x1="505.10" y1="258.80" x2="505.10" y2="261.10" stroke="#111" stroke-width="0.8"/>
<path d="M382.3,239.6 L382.3,225.8 L406.9,225.8" fill="none" stroke="#888" stroke-width="0.8"/>
<circle cx="395.10" cy="223.50" r="0.85" fill="#222"/>
<path d="M430.6,219.2 L430.6,205.0 L453.7,205.0" fill="none" stroke="#888" stroke-width="0.8"/>
<circle cx="442.65" cy="202.90" r="0.85" fill="#222"/>
<line x1="380.40" y1="264.10" x2="409.80" y2="264.10" stroke="#999" stroke-width="0.6"/>
<text x="394.40" y="271.80" font-size="7.4" text-anchor="middle" fill="#111" stroke="#111">CD40</text>
<line x1="428.00" y1="264.10" x2="458.00" y2="264.10" stroke="#999" stroke-width="0.6"/>
<text x="442.70" y="271.80" font-size="7.4" text-anchor="middle" fill="#111" stroke="#111">CD80</text>
<line x1="476.70" y1="264.10" x2="507.50" y2="264.10" stroke="#999" stroke-width="0.6"/>
<text x="491.50" y="271.80" font-size="7.4" text-anchor="middle" fill="#111" stroke="#111">MHCII</text>
<rect x="376.00" y="166.40" width="14.20" height="3.30" fill="#fff" stroke="#999" stroke-width="0.8"/>
<rect x="375.60" y="175.00" width="15.00" height="4.00" fill="#111" stroke="none" stroke-width="1"/>
<text x="393.50" y="170.30" font-size="7.3" fill="#111" stroke="#111">CD45.2 (miR142<tspan font-size="4.6" dy="-2.7" style="stroke-width:0.06px">-/-</tspan><tspan dy="2.7">)</tspan></text>
<text x="393.50" y="179.40" font-size="7.3" fill="#111" stroke="#111">CD45.1 (miR142<tspan font-size="4.6" dy="-2.7" style="stroke-width:0.06px">+/+</tspan><tspan dy="2.7">)</tspan></text>
<text x="369.80" y="292.50" font-size="7.15" fill="#111" stroke="#111">gated on DN CD11c<tspan font-size="4.4" dy="-2.6" style="stroke-width:0.06px">high</tspan><tspan dy="2.6"> cells</tspan></text>
<line x1="370.80" y1="300.10" x2="370.80" y2="326.70" stroke="#111" stroke-width="1.7"/>
<line x1="366.60" y1="300.60" x2="371.60" y2="300.60" stroke="#111" stroke-width="1.4"/>
<text x="364.80" y="303.00" text-anchor="end" fill="#111" stroke="#111">20000</text>
<line x1="366.60" y1="313.30" x2="371.60" y2="313.30" stroke="#111" stroke-width="1.4"/>
<text x="364.80" y="315.70" text-anchor="end" fill="#111" stroke="#111">15000</text>
<line x1="366.60" y1="326.20" x2="371.60" y2="326.20" stroke="#111" stroke-width="1.4"/>
<text x="364.80" y="328.60" text-anchor="end" fill="#111" stroke="#111">10000</text>
<line x1="370.80" y1="339.90" x2="370.80" y2="398.60" stroke="#111" stroke-width="1.7"/>
<line x1="366.60" y1="398.60" x2="371.60" y2="398.60" stroke="#111" stroke-width="1.4"/>
<text x="364.80" y="401.00" text-anchor="end" fill="#111" stroke="#111">0</text>
<line x1="366.60" y1="384.05" x2="371.60" y2="384.05" stroke="#111" stroke-width="1.4"/>
<text x="364.80" y="386.45" text-anchor="end" fill="#111" stroke="#111">1000</text>
<line x1="366.60" y1="369.50" x2="371.60" y2="369.50" stroke="#111" stroke-width="1.4"/>
<text x="364.80" y="371.90" text-anchor="end" fill="#111" stroke="#111">2000</text>
<line x1="366.60" y1="354.95" x2="371.60" y2="354.95" stroke="#111" stroke-width="1.4"/>
<text x="364.80" y="357.35" text-anchor="end" fill="#111" stroke="#111">3000</text>
<line x1="366.60" y1="340.40" x2="371.60" y2="340.40" stroke="#111" stroke-width="1.4"/>
<text x="364.80" y="342.80" text-anchor="end" fill="#111" stroke="#111">4000</text>
<line x1="370.00" y1="398.60" x2="517.50" y2="398.60" stroke="#111" stroke-width="1.7"/>
<text x="0.00" y="0.00" fill="#111" stroke="#111" transform="translate(341.10,353.60) rotate(-90)">MFI</text>
<rect x="373.80" y="386.00" width="17.60" height="12.60" fill="#111" stroke="none" stroke-width="1"/>
<rect x="399.10" y="387.10" width="15.80" height="11.50" fill="#fff" stroke="#111" stroke-width="1.6"/>
<line x1="407.00" y1="385.60" x2="407.00" y2="386.30" stroke="#111" stroke-width="0.9"/>
<line x1="403.30" y1="385.60" x2="410.70" y2="385.60" stroke="#111" stroke-width="1.3"/>
<line x1="382.60" y1="398.60" x2="382.60" y2="400.90" stroke="#111" stroke-width="0.8"/>
<line x1="407.00" y1="398.60" x2="407.00" y2="400.90" stroke="#111" stroke-width="0.8"/>
<rect x="422.85" y="381.30" width="17.60" height="17.30" fill="#111" stroke="none" stroke-width="1"/>
<rect x="448.15" y="364.30" width="15.80" height="34.30" fill="#fff" stroke="#111" stroke-width="1.6"/>
<line x1="456.05" y1="360.20" x2="456.05" y2="363.50" stroke="#111" stroke-width="0.9"/>
<line x1="452.35" y1="360.20" x2="459.75" y2="360.20" stroke="#111" stroke-width="1.3"/>
<line x1="431.65" y1="398.60" x2="431.65" y2="400.90" stroke="#111" stroke-width="0.8"/>
<line x1="456.05" y1="398.60" x2="456.05" y2="400.90" stroke="#111" stroke-width="0.8"/>
<rect x="471.90" y="324.20" width="17.60" height="3.00" fill="#111" stroke="none" stroke-width="1"/>
<rect x="471.90" y="339.00" width="17.60" height="59.60" fill="#111" stroke="none" stroke-width="1"/>
<path d="M497.20,327.20 L497.20,325.40 L513.00,325.40 L513.00,327.20" fill="none" stroke="#111" stroke-width="1.6"/>
<line x1="505.10" y1="322.70" x2="505.10" y2="324.60" stroke="#111" stroke-width="0.9"/>
<line x1="501.40" y1="322.70" x2="508.80" y2="322.70" stroke="#111" stroke-width="1.3"/>
<path d="M497.20,339.00 L497.20,398.60 M513.00,339.00 L513.00,398.60" fill="none" stroke="#111" stroke-width="1.6"/>
<line x1="480.70" y1="398.60" x2="480.70" y2="400.90" stroke="#111" stroke-width="0.8"/>
<line x1="505.10" y1="398.60" x2="505.10" y2="400.90" stroke="#111" stroke-width="0.8"/>
<path d="M430.6,368.8 L430.6,354.4 L453.7,354.4" fill="none" stroke="#888" stroke-width="0.8"/>
<circle cx="442.65" cy="352.10" r="0.85" fill="#222"/>
<line x1="380.40" y1="403.90" x2="409.80" y2="403.90" stroke="#999" stroke-width="0.6"/>
<text x="394.40" y="411.60" font-size="7.4" text-anchor="middle" fill="#111" stroke="#111">CD40</text>
<line x1="428.00" y1="403.90" x2="458.00" y2="403.90" stroke="#999" stroke-width="0.6"/>
<text x="442.70" y="411.60" font-size="7.4" text-anchor="middle" fill="#111" stroke="#111">CD80</text>
<line x1="476.70" y1="403.90" x2="507.50" y2="403.90" stroke="#999" stroke-width="0.6"/>
<text x="491.50" y="411.60" font-size="7.4" text-anchor="middle" fill="#111" stroke="#111">MHCII</text>
<rect x="376.00" y="306.70" width="14.20" height="3.30" fill="#fff" stroke="#999" stroke-width="0.8"/>
<rect x="375.60" y="315.20" width="15.00" height="4.00" fill="#111" stroke="none" stroke-width="1"/>
<text x="393.50" y="310.60" font-size="7.3" fill="#111" stroke="#111">CD45.2 (miR142<tspan font-size="4.6" dy="-2.7" style="stroke-width:0.06px">-/-</tspan><tspan dy="2.7">)</tspan></text>
<text x="393.50" y="319.60" font-size="7.3" fill="#111" stroke="#111">CD45.1 (miR142<tspan font-size="4.6" dy="-2.7" style="stroke-width:0.06px">+/+</tspan><tspan dy="2.7">)</tspan></text>
</svg>
</body></html>
